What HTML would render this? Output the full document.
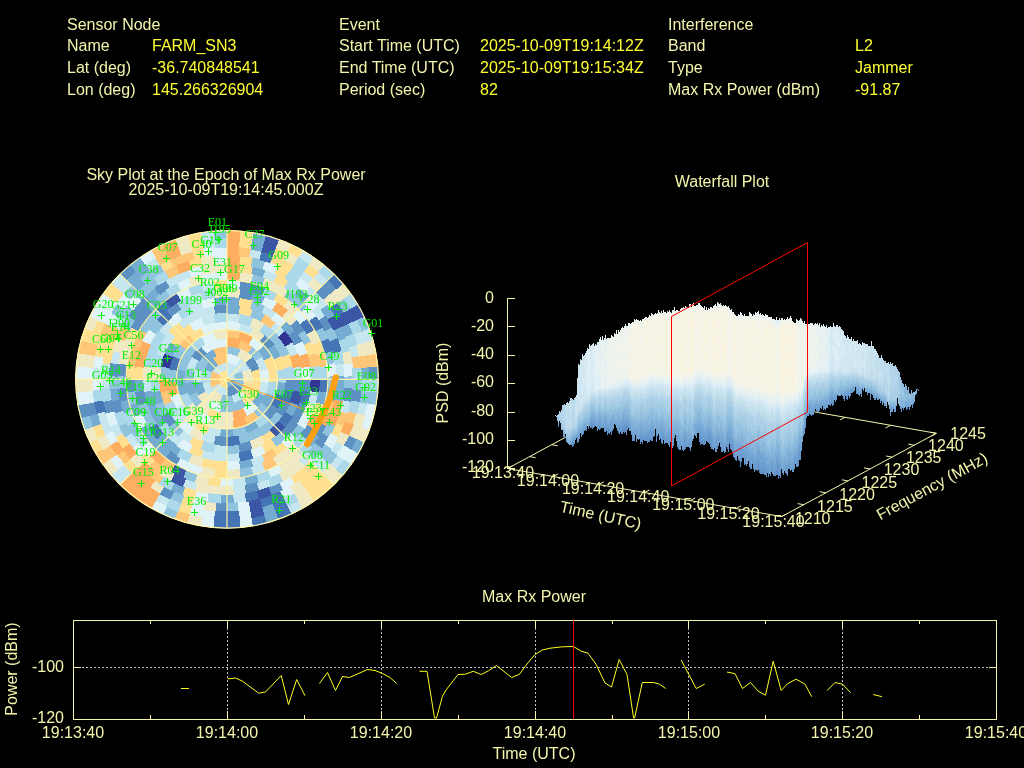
<!DOCTYPE html>
<html><head><meta charset="utf-8"><title>Interference Event Report</title>
<style>
html,body{margin:0;padding:0;background:#000;width:1024px;height:768px;overflow:hidden}
svg{display:block;position:absolute;left:0;top:0}
text{font-family:"Liberation Sans",sans-serif;font-size:16px;fill:#f4f4ac}
.v{fill:#ffff30}
.sat text{font-family:"Liberation Serif",serif;font-size:12px;fill:#00f000}
</style></head><body>
<svg id="main" width="1024" height="768" viewBox="0 0 1024 768">
<rect width="1024" height="768" fill="#000"/>
<!--HEADER-->
<g id="header">
<text x="67" y="30">Sensor Node</text>
<text x="67" y="51">Name</text><text class="v" x="152" y="51">FARM_SN3</text>
<text x="67" y="73">Lat (deg)</text><text class="v" x="152" y="73">-36.740848541</text>
<text x="67" y="95">Lon (deg)</text><text class="v" x="152" y="95">145.266326904</text>
<text x="339" y="30">Event</text>
<text x="339" y="51">Start Time (UTC)</text><text class="v" x="480" y="51">2025-10-09T19:14:12Z</text>
<text x="339" y="73">End Time (UTC)</text><text class="v" x="480" y="73">2025-10-09T19:15:34Z</text>
<text x="339" y="95">Period (sec)</text><text class="v" x="480" y="95">82</text>
<text x="668" y="30">Interference</text>
<text x="668" y="51">Band</text><text class="v" x="855" y="51">L2</text>
<text x="668" y="73">Type</text><text class="v" x="855" y="73">Jammer</text>
<text x="668" y="95">Max Rx Power (dBm)</text><text class="v" x="855" y="95">-91.87</text>
</g>
<!--SKY-->
<g id="sky">
<ellipse cx="227.0" cy="379.3" rx="151.8" ry="149.3" fill="#e8e8c0"/>
<g stroke="none" shape-rendering="crispEdges">
<path fill="#c6e6f0" d="M227.0 370.6L227.9 370.6L228.8 370.8L229.7 371.0L230.6 371.3L231.4 371.8L232.2 372.2L232.9 372.8L233.6 373.5L234.2 374.2L234.7 374.9L235.1 375.8L235.4 376.6L235.7 377.5L235.8 378.4L235.9 379.3L227.0 379.3ZM227.0 362.3L228.8 362.4L230.6 362.7L232.3 363.1L234.0 363.8L235.6 364.6L237.2 365.6L238.6 366.7L239.8 368.0L241.0 369.3L242.0 370.8L233.9 375.4L233.4 374.7L232.9 374.1L232.3 373.5L231.7 373.0L231.0 372.5L230.2 372.2L229.5 371.9L228.6 371.6L227.8 371.5L227.0 371.5ZM227.0 396.3L225.2 396.2L223.4 395.9L221.7 395.5L220.0 394.8L218.4 394.0L216.8 393.0L215.4 391.9L214.2 390.6L213.0 389.3L212.0 387.8L220.1 383.2L220.6 383.9L221.1 384.5L221.7 385.1L222.3 385.6L223.0 386.1L223.8 386.4L224.5 386.7L225.4 387.0L226.2 387.1L227.0 387.1ZM212.0 370.8L213.0 369.3L214.2 368.0L215.4 366.7L216.8 365.6L218.4 364.6L220.0 363.8L221.7 363.1L223.4 362.7L225.2 362.4L227.0 362.3L227.0 371.5L226.2 371.5L225.4 371.6L224.5 371.9L223.8 372.2L223.0 372.5L222.3 373.0L221.7 373.5L221.1 374.1L220.6 374.7L220.1 375.4ZM240.8 358.0L242.8 359.4L244.7 361.0L246.4 362.8L247.9 364.7L249.2 366.7L250.4 368.9L241.9 372.6L241.2 371.3L240.3 370.0L239.4 368.8L238.3 367.6L237.1 366.6L235.8 365.7ZM246.4 395.8L244.7 397.5L242.9 399.1L240.9 400.5L238.7 401.7L236.5 402.8L234.2 403.5L231.6 394.7L233.1 394.2L234.5 393.6L235.8 392.8L237.1 391.9L238.3 390.9L239.4 389.8ZM207.6 395.9L206.1 394.0L204.8 391.9L203.6 389.8L202.7 387.5L202.0 385.2L201.6 382.8L210.8 381.6L211.1 383.1L211.5 384.6L212.1 386.0L212.8 387.4L213.7 388.6L214.7 389.9ZM193.1 382.9L192.9 379.3L193.1 375.8L193.7 372.3L194.6 368.9L203.5 371.7L202.8 374.2L202.4 376.8L202.2 379.3L202.4 381.9ZM262.5 356.4L264.3 359.4L265.9 362.5L267.2 365.8L268.2 369.1L259.2 371.4L258.4 368.7L257.4 366.2L256.2 363.7L254.7 361.4ZM269.3 382.7L268.9 386.1L268.2 389.6L267.2 392.9L265.9 396.2L257.3 392.5L258.4 389.9L259.2 387.3L259.7 384.6L260.1 381.9ZM185.8 369.1L186.8 365.8L188.1 362.5L189.7 359.4L191.5 356.4L199.3 361.4L197.8 363.7L196.6 366.2L195.6 368.7L194.8 371.4ZM240.6 322.5L245.1 323.8L249.5 325.3L253.7 327.2L249.5 335.4L245.9 333.8L242.2 332.5L238.4 331.4ZM220.2 437.2L215.6 436.5L211.1 435.5L206.6 434.1L209.8 425.5L213.6 426.6L217.4 427.5L221.3 428.1ZM184.0 419.4L180.9 415.9L178.1 412.2L175.6 408.4L183.7 403.8L185.8 407.1L188.1 410.2L190.7 413.1ZM226.9 312.7L233.6 313.0L240.3 314.0L238.5 323.0L232.7 322.2L226.9 321.9ZM213.9 444.6L207.3 443.0L201.0 440.8L204.5 432.3L210.1 434.2L215.7 435.6ZM179.2 426.5L174.7 421.5L170.6 416.2L178.4 411.1L181.9 415.7L185.8 420.0ZM201.0 317.8L207.3 315.6L213.9 314.0L215.7 323.0L210.1 324.4L204.5 326.3ZM275.8 321.9L280.8 326.4L285.4 331.3L278.3 337.2L274.2 332.9L269.8 328.9ZM292.8 341.7L296.0 347.7L298.6 353.8L289.8 357.0L287.5 351.5L284.8 346.3ZM301.9 366.1L302.8 372.8L303.1 379.5L293.8 379.4L293.5 373.6L292.8 367.8ZM227.2 454.1L220.4 453.9L213.6 453.0L215.3 444.0L221.2 444.7L227.1 445.0ZM189.1 444.2L183.3 440.6L178.0 436.5L184.0 429.5L188.7 433.1L193.7 436.3ZM155.4 353.8L158.0 347.7L161.2 341.7L169.2 346.3L166.5 351.5L164.2 357.0ZM161.0 342.0L164.7 336.4L168.8 331.1L175.9 337.0L172.3 341.6L169.1 346.6ZM178.0 322.1L183.3 318.0L189.1 314.4L193.7 322.3L188.7 325.5L184.0 329.1ZM188.8 314.6L194.8 311.5L201.1 308.9L204.3 317.5L198.8 319.8L193.5 322.5ZM200.8 309.0L207.3 307.0L213.9 305.6L215.5 314.6L209.7 315.9L204.0 317.6ZM265.2 305.2L271.2 308.4L276.8 312.2L271.3 319.6L266.3 316.2L261.0 313.3ZM240.4 461.4L233.6 462.2L226.8 462.4L226.8 453.3L232.9 453.0L238.9 452.3ZM227.2 462.4L220.4 462.2L213.6 461.4L215.1 452.3L221.1 453.0L227.2 453.3ZM214.0 461.4L207.3 460.1L200.7 458.3L203.6 449.6L209.4 451.2L215.4 452.4ZM177.5 446.6L172.1 442.5L167.1 437.9L173.7 431.5L178.2 435.5L182.9 439.2ZM143.6 392.5L142.8 385.8L142.5 379.1L151.8 379.1L152.0 385.1L152.8 391.0ZM158.5 330.6L162.7 325.3L167.4 320.4L173.9 326.9L169.8 331.3L166.1 336.0ZM188.5 305.3L194.7 302.5L201.1 300.2L203.9 308.9L198.2 311.0L192.7 313.5ZM319.0 392.1L317.8 398.7L316.1 405.2L307.2 402.6L308.7 396.8L309.8 390.8ZM265.8 462.3L259.5 464.9L253.0 467.0L250.4 458.2L256.2 456.3L261.9 454.0ZM188.2 296.3L194.5 293.7L201.0 291.6L203.6 300.4L197.8 302.3L192.1 304.6ZM266.0 471.3L259.6 473.7L253.0 475.6L250.6 466.8L256.6 465.0L262.4 462.8ZM200.6 283.1L207.2 281.6L214.0 280.5L215.2 289.6L209.1 290.6L203.0 291.9ZM246.6 485.5L240.0 486.5L233.3 487.0L232.7 477.9L238.9 477.4L245.0 476.5ZM265.1 269.3L271.5 271.7L277.6 274.3L273.6 282.6L267.9 280.1L262.1 278.0ZM318.0 305.3L322.2 310.5L326.0 316.0L318.2 321.0L314.7 315.9L310.9 311.1ZM344.0 363.1L344.7 369.7L345.1 376.3L335.8 376.6L335.4 370.5L334.8 364.4ZM314.1 457.8L309.4 462.6L304.4 467.1L298.3 460.2L302.9 456.0L307.2 451.6ZM271.7 486.8L265.4 489.2L258.9 491.2L256.4 482.3L262.3 480.5L268.2 478.4ZM246.7 493.9L240.0 494.8L233.3 495.3L232.8 486.2L239.0 485.7L245.1 484.8ZM195.1 491.2L188.6 489.2L182.3 486.8L185.8 478.4L191.7 480.5L197.6 482.3ZM132.0 448.3L128.1 442.8L124.6 437.2L132.6 432.6L135.9 437.8L139.5 442.9ZM110.0 363.6L111.1 357.0L112.5 350.5L121.6 352.8L120.2 358.8L119.2 364.8ZM164.9 280.5L170.8 277.1L176.8 274.1L180.8 282.4L175.2 285.2L169.8 288.2ZM176.4 274.3L182.5 271.7L188.9 269.3L191.9 278.0L186.1 280.1L180.4 282.6ZM310.3 285.7L320.0 295.0L313.2 301.2L304.2 292.5ZM319.7 294.6L328.4 304.8L320.9 310.3L312.9 300.8ZM351.5 401.4L348.4 414.3L339.5 411.8L342.4 399.7ZM324.3 458.8L315.1 468.6L308.6 462.0L317.2 453.0ZM246.7 502.2L233.2 503.6L232.8 494.4L245.3 493.2ZM115.4 438.0L109.7 425.9L118.3 422.5L123.6 433.7ZM100.9 389.2L100.5 375.8L109.8 376.1L110.1 388.4ZM100.5 376.4L101.5 363.1L110.8 364.3L109.8 376.6ZM112.3 326.8L118.7 315.0L126.6 319.7L120.7 330.6ZM250.2 248.6L262.2 251.2L259.8 260.0L248.6 257.6ZM304.2 270.4L314.0 277.8L308.0 284.8L298.8 277.9ZM357.3 344.7L359.9 356.5L350.8 358.1L348.3 347.1ZM344.0 445.4L337.4 455.6L329.8 450.4L335.9 440.9ZM330.6 464.4L322.2 473.3L315.6 466.8L323.4 458.5ZM104.8 435.6L100.1 424.4L108.9 421.3L113.3 431.8ZM100.3 425.0L96.6 413.4L105.6 411.0L109.0 421.8ZM92.1 379.6L92.6 367.5L101.9 368.3L101.4 379.6ZM318.9 271.1L328.6 279.8L322.0 286.3L312.9 278.1ZM361.6 330.8L365.5 343.1L356.5 345.4L352.9 334.0ZM368.2 403.5L365.4 416.1L356.4 413.7L359.0 401.9ZM344.6 459.9L336.6 470.1L329.5 464.2L337.0 454.7ZM166.7 507.2L155.1 501.2L159.7 493.3L170.6 498.9ZM125.8 479.2L117.0 469.7L124.1 463.8L132.4 472.7ZM117.0 288.9L125.8 279.4L132.4 285.9L124.1 294.8ZM144.5 264.0L155.6 257.1L160.2 265.0L149.9 271.5ZM201.8 240.5L214.8 238.8L215.6 248.0L203.4 249.5ZM302.6 249.9L314.3 257.2L308.9 264.7L298.0 257.8ZM369.5 328.0L373.7 341.0L364.7 343.3L360.7 331.1ZM303.2 508.4L290.8 514.7L286.9 506.4L298.5 500.5ZM119.9 485.1L110.5 475.0L117.7 469.1L126.5 478.6ZM110.5 283.6L119.9 273.5L126.5 280.0L117.7 289.5ZM200.3 232.4L214.1 230.6L214.9 239.7L202.0 241.4Z"/>
<path fill="#74add1" d="M235.9 379.3L235.8 380.2L235.7 381.1L235.4 382.0L235.1 382.8L234.7 383.7L234.2 384.4L233.6 385.1L232.9 385.8L232.2 386.4L231.4 386.8L230.6 387.3L229.7 387.6L228.8 387.8L227.9 388.0L227.0 388.0L227.0 379.3ZM203.6 368.9L204.8 366.7L206.1 364.7L207.6 362.8L209.3 361.0L211.2 359.4L213.2 358.0L218.2 365.7L216.9 366.6L215.7 367.6L214.6 368.8L213.7 370.0L212.8 371.3L212.1 372.6ZM197.5 396.1L195.9 393.0L194.6 389.7L193.7 386.2L193.1 382.7L202.4 381.8L202.8 384.3L203.4 386.8L204.4 389.2L205.6 391.5ZM201.6 356.9L204.2 354.4L207.0 352.2L210.0 350.3L213.2 348.7L217.0 357.0L214.6 358.2L212.4 359.6L210.4 361.2L208.6 363.0ZM265.9 396.0L264.4 399.1L262.6 402.2L260.5 405.0L258.2 407.7L251.4 401.4L253.2 399.4L254.8 397.1L256.2 394.8L257.4 392.3ZM188.1 396.2L186.8 392.9L185.8 389.6L185.1 386.1L184.7 382.7L193.9 381.9L194.3 384.6L194.8 387.3L195.6 389.9L196.7 392.5ZM264.1 345.1L267.2 348.6L269.9 352.4L272.2 356.4L264.0 360.6L262.0 357.3L259.8 354.2L257.3 351.3ZM275.0 396.0L273.2 400.2L271.1 404.4L268.5 408.2L260.9 402.9L263.0 399.8L264.8 396.4L266.2 392.9ZM179.1 396.2L177.7 391.7L176.8 387.2L176.2 382.6L185.5 382.0L185.9 385.8L186.7 389.5L187.9 393.1ZM176.2 382.8L176.1 378.2L176.4 373.6L177.2 369.0L186.3 370.9L185.7 374.6L185.4 378.4L185.5 382.2ZM274.5 344.4L277.1 348.2L279.5 352.2L281.5 356.3L272.9 359.9L271.2 356.4L269.3 353.1L267.0 349.9ZM286.2 382.6L285.8 387.2L284.9 391.7L283.8 396.1L274.8 393.5L275.8 389.7L276.5 385.9L276.9 382.1ZM259.7 428.0L255.7 430.3L251.5 432.4L247.2 434.1L244.0 425.5L247.7 424.1L251.2 422.3L254.6 420.3ZM234.0 437.2L229.3 437.6L224.7 437.6L220.0 437.2L221.1 428.1L225.0 428.4L229.0 428.4L232.9 428.1ZM164.4 353.9L167.3 347.9L170.8 342.2L178.5 347.3L175.5 352.2L173.0 357.4ZM226.8 304.5L233.6 304.7L240.4 305.6L238.7 314.6L232.8 313.9L226.9 313.6ZM298.6 404.8L296.0 410.9L292.8 416.9L284.8 412.3L287.5 407.1L289.8 401.6ZM155.5 405.0L153.5 398.7L152.0 392.1L161.2 390.6L162.5 396.3L164.3 401.9ZM226.8 296.2L233.6 296.4L240.4 297.2L238.9 306.3L232.9 305.6L226.8 305.3ZM286.6 320.4L291.3 325.3L295.5 330.6L287.9 336.0L284.2 331.3L280.1 326.9ZM158.7 428.3L154.9 422.7L151.6 416.9L159.9 412.7L162.9 417.9L166.3 422.9ZM151.8 417.2L148.9 411.1L146.6 404.8L155.4 402.0L157.5 407.6L160.1 413.0ZM146.7 405.1L144.8 398.7L143.5 392.1L152.7 390.7L153.9 396.6L155.5 402.3ZM213.6 297.2L220.4 296.4L227.2 296.2L227.2 305.3L221.1 305.6L215.1 306.3ZM253.0 291.6L259.5 293.7L265.8 296.3L261.9 304.6L256.2 302.3L250.4 300.4ZM253.4 466.9L246.8 468.6L240.0 469.8L238.7 460.7L244.8 459.6L250.7 458.1ZM176.9 456.3L171.3 452.5L166.0 448.2L172.1 441.3L176.9 445.1L181.9 448.6ZM166.3 448.5L161.3 443.9L156.7 439.0L163.7 433.0L167.9 437.4L172.4 441.6ZM135.1 392.5L134.3 385.8L134.1 379.1L143.4 379.1L143.6 385.2L144.3 391.2ZM327.5 392.1L326.4 398.7L324.8 405.3L315.8 402.9L317.2 397.0L318.2 390.9ZM165.5 458.5L160.2 454.2L155.2 449.6L161.8 443.1L166.3 447.3L171.1 451.2ZM155.5 449.9L150.8 445.0L146.5 439.8L153.9 434.2L157.8 439.0L162.1 443.4ZM146.7 440.1L142.8 434.7L139.1 428.9L147.2 424.4L150.5 429.6L154.1 434.5ZM133.5 417.6L131.1 411.3L129.1 404.9L138.1 402.5L139.9 408.4L142.1 414.1ZM336.3 388.7L335.5 395.2L334.3 401.7L325.2 399.8L326.3 393.9L327.0 387.9ZM319.9 436.7L316.2 442.2L312.1 447.5L304.8 441.7L308.6 436.9L312.0 431.8ZM259.3 482.4L252.8 484.2L246.2 485.6L244.6 476.5L250.6 475.3L256.5 473.7ZM123.1 414.1L121.2 407.7L119.6 401.3L128.7 399.4L130.1 405.3L131.9 411.1ZM145.9 306.6L150.6 301.9L155.5 297.4L161.6 304.4L157.1 308.4L152.8 312.8ZM252.6 265.9L259.1 267.5L265.6 269.5L262.5 278.2L256.6 276.3L250.6 274.8ZM299.4 287.5L304.6 291.7L309.6 296.2L303.0 302.7L298.5 298.6L293.7 294.7ZM345.1 375.9L345.1 382.5L344.7 389.1L335.4 388.4L335.8 382.2L335.8 376.1ZM344.7 388.7L344.0 395.3L342.9 401.8L333.8 400.0L334.8 394.0L335.5 387.9ZM111.1 401.8L110.0 395.3L109.3 388.7L118.5 387.9L119.2 394.0L120.2 400.0ZM144.4 296.2L149.4 291.7L154.6 287.5L160.3 294.7L155.5 298.6L151.0 302.7ZM328.1 304.4L335.6 315.5L327.6 320.2L320.6 309.9ZM341.5 326.3L346.6 338.7L337.8 341.7L333.1 330.2ZM233.8 503.6L220.2 503.6L220.7 494.4L233.3 494.4ZM182.6 495.8L170.2 490.5L174.4 482.3L185.9 487.3ZM349.2 323.0L353.9 334.2L345.1 337.3L340.7 326.8ZM131.4 285.7L140.5 277.5L146.4 284.5L138.0 292.1ZM251.6 240.4L264.4 243.2L262.0 252.0L250.0 249.4ZM369.8 366.7L370.3 379.6L361.0 379.6L360.5 367.5ZM276.3 511.7L263.8 515.6L261.4 506.7L273.1 503.1ZM92.4 427.8L88.5 415.5L97.5 413.2L101.1 424.6ZM125.4 279.8L135.1 271.1L141.1 278.1L132.0 286.3ZM134.6 271.5L145.0 263.6L150.4 271.2L140.6 278.5ZM253.0 232.3L266.6 235.2L264.2 244.1L251.4 241.3ZM364.7 442.1L358.3 454.2L350.2 449.6L356.2 438.2ZM279.2 519.4L266.0 523.5L263.6 514.7L276.0 510.8ZM129.2 265.2L140.2 256.9L145.5 264.4L135.2 272.2Z"/>
<path fill="#fee090" d="M227.0 388.0L226.1 388.0L225.2 387.8L224.3 387.6L223.4 387.3L222.6 386.8L221.8 386.4L221.1 385.8L220.4 385.1L219.8 384.4L219.3 383.7L218.9 382.8L218.6 382.0L218.3 381.1L218.2 380.2L218.1 379.3L227.0 379.3ZM218.1 379.3L218.2 378.4L218.3 377.5L218.6 376.6L218.9 375.8L219.3 374.9L219.8 374.2L220.4 373.5L221.1 372.8L221.8 372.2L222.6 371.8L223.4 371.3L224.3 371.0L225.2 370.8L226.1 370.6L227.0 370.6L227.0 379.3ZM252.4 382.8L252.0 385.2L251.3 387.5L250.4 389.8L249.2 391.9L247.9 394.0L246.4 395.9L239.3 389.9L240.3 388.6L241.2 387.4L241.9 386.0L242.5 384.6L242.9 383.1L243.2 381.6ZM259.4 368.9L260.3 372.3L260.9 375.8L261.1 379.3L260.9 382.9L251.6 381.9L251.8 379.3L251.6 376.8L251.2 374.2L250.5 371.7ZM260.9 382.7L260.3 386.2L259.4 389.7L258.1 393.0L256.5 396.1L248.4 391.5L249.6 389.2L250.6 386.8L251.2 384.3L251.6 381.8ZM256.5 396.0L254.6 399.0L252.3 401.7L249.8 404.2L247.0 406.5L241.5 399.0L243.6 397.4L245.4 395.6L247.0 393.6L248.5 391.4ZM220.1 420.5L216.6 419.8L213.2 418.8L209.9 417.5L206.7 416.0L211.2 408.0L213.6 409.2L216.2 410.2L218.9 410.9L221.6 411.5ZM272.1 356.2L274.1 360.4L275.7 364.7L276.8 369.2L267.7 371.1L266.8 367.4L265.5 363.8L263.9 360.4ZM276.8 369.0L277.6 373.6L277.9 378.2L277.8 382.8L268.5 382.2L268.6 378.4L268.3 374.6L267.7 370.9ZM281.4 356.1L283.1 360.4L284.4 364.8L285.4 369.3L276.2 370.9L275.4 367.1L274.3 363.4L272.9 359.7ZM206.8 434.1L202.5 432.4L198.3 430.3L194.3 428.0L199.4 420.3L202.8 422.3L206.3 424.1L210.0 425.5ZM188.8 334.7L192.5 331.9L196.4 329.4L200.5 327.1L204.7 335.3L201.2 337.2L197.9 339.3L194.8 341.7ZM289.5 353.7L291.8 360.0L293.4 366.4L284.3 368.2L282.9 362.6L280.9 357.2ZM170.6 342.4L174.7 337.1L179.2 332.1L185.8 338.6L181.9 342.9L178.4 347.5ZM179.0 332.3L184.1 327.8L189.5 323.9L194.7 331.5L190.0 334.9L185.6 338.8ZM240.1 305.6L246.7 307.0L253.2 309.0L250.0 317.6L244.3 315.9L238.5 314.6ZM276.0 436.5L270.7 440.6L264.9 444.2L260.3 436.3L265.3 433.1L270.0 429.5ZM201.1 449.7L194.8 447.1L188.8 444.0L193.5 436.1L198.8 438.8L204.3 441.1ZM168.6 331.3L173.2 326.4L178.2 321.9L184.2 328.9L179.8 332.9L175.7 337.2ZM240.0 297.2L246.7 298.5L253.3 300.3L250.4 309.0L244.6 307.4L238.6 306.2ZM276.8 446.4L271.2 450.2L265.2 453.4L261.0 445.3L266.3 442.4L271.3 439.0ZM201.1 458.4L194.7 456.1L188.5 453.3L192.7 445.1L198.2 447.6L203.9 449.7ZM311.4 341.2L314.1 347.4L316.2 353.7L307.3 356.3L305.3 350.6L303.0 345.0ZM288.0 448.2L282.7 452.5L277.1 456.3L272.1 448.6L277.1 445.1L281.9 441.3ZM227.2 470.7L220.4 470.4L213.6 469.7L214.9 460.7L221.0 461.3L227.2 461.5ZM214.0 469.8L207.2 468.6L200.6 466.9L203.3 458.1L209.2 459.6L215.3 460.7ZM134.1 379.5L134.3 372.8L135.1 366.1L144.3 367.4L143.6 373.4L143.4 379.5ZM277.5 292.9L283.3 296.4L288.8 300.4L283.2 307.6L278.1 304.1L272.8 300.8ZM320.5 341.0L322.9 347.3L324.9 353.7L315.9 356.1L314.1 350.2L311.9 344.5ZM324.9 404.9L322.9 411.3L320.5 417.6L311.9 414.1L314.1 408.4L315.9 402.5ZM227.2 478.9L220.4 478.7L213.6 478.1L214.8 469.0L221.0 469.6L227.2 469.8ZM125.7 379.5L125.9 372.8L126.6 366.1L135.8 367.3L135.2 373.4L135.0 379.5ZM213.6 280.5L220.4 279.9L227.2 279.7L227.2 288.8L221.0 289.0L214.8 289.6ZM220.7 487.0L214.0 486.5L207.4 485.5L209.0 476.5L215.1 477.4L221.3 477.9ZM125.2 339.0L127.9 332.9L131.0 327.0L139.2 331.4L136.3 336.8L133.9 342.4ZM239.7 263.8L246.4 264.7L253.1 266.0L251.0 274.9L244.9 273.7L238.7 272.9ZM277.2 274.1L283.2 277.1L289.1 280.5L284.2 288.2L278.8 285.2L273.2 282.4ZM149.6 467.1L144.6 462.6L139.9 457.8L146.8 451.6L151.1 456.0L155.7 460.2ZM239.7 255.5L253.1 257.5L251.2 266.5L238.8 264.6ZM277.4 265.2L289.6 271.1L285.0 279.1L273.7 273.6ZM344.3 425.9L338.6 438.0L330.4 433.7L335.7 422.5ZM315.5 468.2L305.3 477.0L299.6 469.8L309.0 461.7ZM305.7 476.7L294.7 484.4L289.7 476.7L299.9 469.5ZM195.0 499.7L182.1 495.7L185.4 487.1L197.4 490.8ZM122.2 449.0L115.2 437.6L123.4 433.3L129.9 443.9ZM101.5 363.6L103.9 350.5L113.0 352.6L110.7 364.7ZM103.8 351.0L107.6 338.2L116.4 341.2L112.9 353.1ZM188.3 260.8L201.4 257.4L203.3 266.4L191.1 269.5ZM272.9 254.5L284.3 259.1L280.3 267.4L269.7 263.1ZM283.8 258.9L294.7 264.5L290.0 272.4L279.9 267.2ZM322.6 472.9L313.5 481.1L307.6 474.1L316.0 466.5ZM314.0 480.8L304.2 488.2L298.8 480.7L308.0 473.8ZM192.3 507.6L180.6 503.9L183.8 495.3L194.7 498.7ZM131.8 473.3L123.4 464.4L130.6 458.5L138.4 466.8ZM94.1 356.5L96.7 344.7L105.7 347.1L103.2 358.1ZM96.6 345.2L100.3 333.6L109.0 336.8L105.6 347.6ZM159.3 264.5L170.2 258.9L174.1 267.2L164.0 272.4ZM191.8 251.2L203.8 248.6L205.4 257.6L194.2 260.0ZM239.2 238.8L252.2 240.5L250.6 249.5L238.4 248.0ZM275.7 246.7L287.9 251.7L283.9 259.9L272.6 255.3ZM309.0 263.6L319.4 271.5L313.4 278.5L303.6 271.2ZM328.6 478.8L318.9 487.5L312.9 480.5L322.0 472.3ZM319.4 487.1L309.0 495.0L303.6 487.4L313.4 480.1ZM190.2 515.6L177.7 511.7L180.9 503.1L192.6 506.7ZM97.2 439.1L92.2 427.2L101.0 424.1L105.6 435.3ZM88.5 343.1L92.4 330.8L101.1 334.0L97.5 345.4ZM92.2 331.4L97.2 319.5L105.6 323.3L101.0 334.5ZM109.4 298.7L117.4 288.5L124.5 294.4L117.0 303.9ZM189.6 243.2L202.4 240.4L204.0 249.4L192.0 252.0ZM239.9 230.6L253.7 232.4L252.0 241.4L239.1 239.7ZM290.8 243.9L303.2 250.2L298.5 258.1L286.9 252.2ZM334.5 484.6L324.3 493.8L318.3 486.8L327.9 478.1ZM324.8 493.4L313.8 501.7L308.5 494.2L318.8 486.4ZM95.7 454.2L89.3 442.1L97.8 438.2L103.8 449.6ZM80.3 341.0L84.5 328.0L93.3 331.1L89.3 343.3ZM102.5 294.0L111.0 283.1L118.1 289.0L110.1 299.2ZM187.4 235.2L201.0 232.3L202.6 241.3L189.8 244.1Z"/>
<path fill="#90c3dd" d="M241.9 370.8L242.8 372.4L243.4 374.0L243.9 375.8L244.2 377.5L244.3 379.3L244.2 381.1L243.9 382.8L243.4 384.6L242.8 386.2L241.9 387.8L233.9 383.2L234.3 382.5L234.6 381.7L234.8 380.9L234.9 380.1L235.0 379.3L234.9 378.5L234.8 377.7L234.6 376.9L234.3 376.1L233.9 375.4ZM234.3 403.5L231.9 404.1L229.5 404.4L227.0 404.5L224.5 404.4L222.1 404.1L219.7 403.5L222.4 394.7L223.9 395.1L225.4 395.3L227.0 395.4L228.6 395.3L230.1 395.1L231.6 394.7ZM226.9 345.8L230.5 346.0L234.1 346.5L237.6 347.4L240.9 348.7L237.1 357.1L234.7 356.1L232.1 355.5L229.6 355.1L226.9 354.9ZM247.1 406.4L244.1 408.3L240.9 409.9L237.5 411.2L234.0 412.1L232.1 403.1L234.6 402.5L237.1 401.5L239.4 400.4L241.6 399.0ZM234.2 412.1L230.6 412.6L227.0 412.8L223.4 412.6L219.8 412.1L221.8 403.1L224.4 403.5L227.0 403.7L229.6 403.5L232.2 403.1ZM194.6 369.0L195.9 365.7L197.5 362.5L199.5 359.6L201.7 356.8L208.6 363.0L207.0 365.0L205.6 367.1L204.4 369.4L203.4 371.8ZM253.0 346.3L255.7 348.5L258.3 351.0L260.6 353.7L262.6 356.5L254.8 361.5L253.2 359.3L251.4 357.2L249.4 355.3L247.3 353.5ZM195.8 407.7L193.5 405.0L191.4 402.2L189.6 399.1L188.1 396.0L196.6 392.3L197.8 394.8L199.2 397.1L200.8 399.4L202.6 401.4ZM184.7 382.8L184.5 379.3L184.7 375.8L185.1 372.4L185.8 369.0L194.9 371.2L194.3 373.9L193.9 376.6L193.8 379.3L194.0 382.1ZM268.6 408.1L265.8 411.7L262.5 415.1L259.0 418.2L253.2 411.1L256.0 408.6L258.7 405.8L261.0 402.8ZM177.2 369.2L178.3 364.7L179.9 360.4L181.9 356.2L190.1 360.4L188.5 363.8L187.2 367.4L186.3 371.1ZM181.8 356.4L184.1 352.4L186.8 348.6L189.9 345.1L196.7 351.3L194.2 354.2L192.0 357.3L190.0 360.6ZM247.4 434.1L242.9 435.5L238.4 436.5L233.8 437.2L232.7 428.1L236.6 427.5L240.4 426.6L244.2 425.5ZM167.8 382.8L167.7 378.2L168.0 373.6L168.6 369.1L177.8 370.7L177.3 374.5L177.0 378.4L177.1 382.3ZM172.5 356.3L174.5 352.2L176.9 348.2L179.5 344.4L187.0 349.9L184.7 353.1L182.8 356.4L181.1 359.9ZM274.8 332.1L279.3 337.1L283.4 342.4L275.6 347.5L272.1 342.9L268.2 338.6ZM283.2 342.2L286.7 347.9L289.6 353.9L281.0 357.4L278.5 352.2L275.5 347.3ZM283.4 416.2L279.3 421.5L274.8 426.5L268.2 420.0L272.1 415.7L275.6 411.1ZM275.0 426.3L269.9 430.8L264.5 434.7L259.3 427.1L264.0 423.7L268.4 419.8ZM264.7 434.6L258.9 438.0L252.8 440.9L249.2 432.4L254.5 429.9L259.5 427.0ZM253.0 440.8L246.7 443.0L240.1 444.6L238.3 435.6L243.9 434.2L249.5 432.3ZM159.3 379.4L159.6 372.8L160.6 366.2L169.8 368.0L168.9 373.7L168.6 379.4ZM252.9 308.9L259.2 311.5L265.2 314.6L260.5 322.5L255.2 319.8L249.7 317.5ZM240.4 453.0L233.6 453.9L226.8 454.1L226.9 445.0L232.8 444.7L238.7 444.0ZM178.2 436.7L173.2 432.2L168.6 427.3L175.7 421.4L179.8 425.7L184.2 429.7ZM161.2 416.9L158.0 410.9L155.4 404.8L164.2 401.6L166.5 407.1L169.2 412.3ZM252.9 300.2L259.3 302.5L265.5 305.3L261.3 313.5L255.8 311.0L250.1 308.9ZM286.9 437.9L281.9 442.5L276.5 446.6L271.1 439.2L275.8 435.5L280.3 431.5ZM305.1 329.7L308.5 335.5L311.6 341.5L303.1 345.3L300.4 339.9L297.2 334.7ZM305.3 428.5L301.4 434.1L297.1 439.3L290.1 433.3L293.9 428.6L297.4 423.6ZM148.9 428.9L145.5 423.1L142.4 417.1L150.9 413.3L153.6 418.7L156.8 423.9ZM142.6 417.4L139.9 411.2L137.8 404.9L146.7 402.3L148.7 408.0L151.0 413.6ZM148.7 330.1L152.6 324.5L156.9 319.3L163.9 325.3L160.1 330.0L156.6 335.0ZM253.4 475.5L246.8 477.0L240.0 478.1L238.8 469.0L244.9 468.0L251.0 466.7ZM129.2 405.3L127.6 398.7L126.5 392.1L135.8 390.9L136.8 397.0L138.2 402.9ZM139.1 329.7L142.8 323.9L146.7 318.5L154.1 324.1L150.5 329.0L147.2 334.2ZM146.5 318.8L150.8 313.6L155.5 308.7L162.1 315.2L157.8 319.6L153.9 324.4ZM252.5 274.4L259.0 276.1L265.4 278.2L262.2 286.8L256.3 284.9L250.4 283.3ZM288.1 289.7L293.6 293.5L298.8 297.7L292.7 304.6L287.9 300.8L282.9 297.3ZM298.5 297.4L303.4 301.9L308.1 306.6L301.2 312.8L296.9 308.4L292.4 304.4ZM323.0 327.0L326.1 332.9L328.8 339.0L320.1 342.4L317.7 336.8L314.8 331.4ZM332.8 350.6L334.4 357.1L335.6 363.6L326.3 364.9L325.3 359.0L323.8 353.1ZM336.7 375.9L336.7 382.5L336.3 389.1L327.0 388.3L327.4 382.2L327.4 376.2ZM195.2 482.6L188.8 480.5L182.6 478.0L186.3 469.6L192.0 471.9L197.9 473.8ZM134.3 437.1L130.9 431.4L127.8 425.5L136.3 421.6L139.1 427.0L142.2 432.2ZM117.7 389.1L117.3 382.5L117.3 375.9L126.6 376.2L126.6 382.2L127.0 388.3ZM155.2 297.7L160.4 293.5L165.9 289.7L171.1 297.3L166.1 300.8L161.3 304.6ZM332.3 326.6L335.2 332.6L337.7 338.8L329.0 342.0L326.7 336.3L324.0 330.8ZM335.3 425.7L332.4 431.8L329.2 437.6L321.1 433.0L324.1 427.6L326.7 422.1ZM322.3 447.9L318.2 453.2L313.7 458.2L306.9 451.9L311.0 447.3L314.8 442.5ZM124.8 437.6L121.6 431.8L118.7 425.7L127.3 422.1L129.9 427.6L132.9 433.0ZM109.3 389.1L108.9 382.5L108.9 375.9L118.2 376.1L118.2 382.2L118.6 388.4ZM121.5 327.1L124.7 321.2L128.2 315.6L136.0 320.6L132.8 325.8L129.8 331.2ZM252.6 257.4L265.7 260.8L262.9 269.5L250.7 266.4ZM353.5 375.8L353.1 389.2L343.9 388.4L344.2 376.1ZM332.1 448.6L324.0 459.2L316.9 453.3L324.4 443.5ZM118.4 315.5L125.9 304.4L133.4 309.9L126.4 320.2ZM134.0 295.0L143.7 285.7L149.8 292.5L140.8 301.2ZM143.3 286.0L153.9 277.7L159.3 285.2L149.4 292.9ZM361.9 379.0L361.4 391.1L352.1 390.3L352.6 379.0ZM337.7 455.2L330.2 464.8L323.1 458.9L330.1 450.0ZM239.0 511.5L226.7 512.0L226.7 502.9L238.2 502.4ZM181.1 504.1L169.7 499.5L173.7 491.2L184.3 495.5ZM110.0 313.2L116.6 303.0L124.2 308.2L118.1 317.7ZM123.4 294.2L131.8 285.3L138.4 291.8L130.6 300.1ZM140.0 277.8L149.8 270.4L155.2 277.9L146.0 284.8ZM149.4 270.7L159.8 264.2L164.4 272.2L154.7 278.2ZM344.3 298.2L351.3 309.1L343.2 313.6L336.6 303.5ZM369.8 391.3L368.1 404.1L358.9 402.5L360.5 390.5ZM364.4 315.9L369.7 328.5L361.0 331.7L356.0 319.8ZM378.2 392.0L376.4 405.5L367.2 403.9L368.9 391.2ZM175.4 519.7L162.6 514.4L166.5 506.1L178.6 511.0ZM84.5 430.6L80.3 417.6L89.3 415.3L93.3 427.5ZM213.5 230.6L227.3 230.1L227.3 239.2L214.3 239.8Z"/>
<path fill="#5c91c2" d="M242.0 387.8L241.0 389.3L239.8 390.6L238.6 391.9L237.2 393.0L235.6 394.0L234.0 394.8L232.3 395.5L230.6 395.9L228.8 396.2L227.0 396.3L227.0 387.1L227.8 387.1L228.6 387.0L229.5 386.7L230.2 386.4L231.0 386.1L231.7 385.6L232.3 385.1L232.9 384.5L233.4 383.9L233.9 383.2ZM252.3 356.8L254.5 359.6L256.5 362.5L258.1 365.7L259.4 369.0L250.6 371.8L249.6 369.4L248.4 367.1L247.0 365.0L245.4 363.0ZM191.4 356.5L193.4 353.7L195.7 351.0L198.3 348.5L201.0 346.3L206.7 353.5L204.6 355.3L202.6 357.2L200.8 359.3L199.2 361.5ZM265.0 334.6L268.5 337.6L271.7 341.0L274.6 344.6L267.2 350.0L264.7 347.0L262.0 344.2L259.0 341.6ZM278.4 408.4L275.9 412.2L273.1 415.9L270.0 419.4L263.3 413.1L265.9 410.2L268.2 407.1L270.3 403.8ZM294.7 379.2L294.4 385.8L293.4 392.4L284.2 390.6L285.1 384.9L285.4 379.2ZM289.6 404.7L286.7 410.7L283.2 416.4L275.5 411.3L278.5 406.4L281.0 401.2ZM227.1 445.9L220.4 445.6L213.7 444.6L215.5 435.6L221.3 436.4L227.1 436.7ZM303.1 379.1L302.8 385.8L301.9 392.5L292.8 390.8L293.5 385.0L293.8 379.2ZM253.2 449.6L246.7 451.6L240.1 453.0L238.5 444.0L244.3 442.7L250.0 441.0ZM168.8 427.5L164.7 422.2L161.0 416.6L169.1 412.0L172.3 417.0L175.9 421.6ZM213.6 305.6L220.4 304.7L227.2 304.5L227.1 313.6L221.2 313.9L215.3 314.6ZM295.3 330.3L299.1 335.9L302.4 341.7L294.1 345.9L291.1 340.7L287.7 335.7ZM311.5 379.1L311.2 385.8L310.4 392.5L301.2 391.0L302.0 385.1L302.2 379.1ZM307.4 404.8L305.1 411.1L302.2 417.2L293.9 413.0L296.5 407.6L298.6 402.0ZM302.4 416.9L299.1 422.7L295.3 428.3L287.7 422.9L291.1 417.9L294.1 412.7ZM295.5 428.0L291.3 433.3L286.6 438.2L280.1 431.7L284.2 427.3L287.9 422.6ZM240.0 288.8L246.8 290.0L253.4 291.7L250.7 300.5L244.8 299.0L238.7 297.9ZM297.1 319.3L301.4 324.5L305.3 330.1L297.4 335.0L293.9 330.0L290.1 325.3ZM137.9 405.2L136.2 398.7L135.0 392.1L144.2 390.8L145.3 396.8L146.8 402.6ZM166.0 310.4L171.3 306.1L176.9 302.3L181.9 310.0L176.9 313.5L172.1 317.3ZM240.0 280.5L246.8 281.6L253.4 283.1L251.0 291.9L244.9 290.6L238.8 289.6ZM253.0 283.0L259.6 284.9L266.0 287.3L262.4 295.8L256.6 293.6L250.6 291.8ZM314.9 428.9L311.2 434.7L307.3 440.1L299.9 434.5L303.5 429.6L306.8 424.4ZM176.5 465.7L170.7 462.2L165.2 458.2L170.8 451.0L175.9 454.5L181.2 457.8ZM126.6 392.5L125.9 385.8L125.7 379.1L135.0 379.1L135.2 385.2L135.8 391.3ZM326.2 425.5L323.1 431.4L319.7 437.1L311.8 432.2L314.9 427.0L317.7 421.6ZM119.7 401.7L118.5 395.2L117.7 388.7L127.0 387.9L127.7 393.9L128.8 399.8ZM117.3 376.3L117.7 369.7L118.5 363.1L127.7 364.5L127.0 370.5L126.6 376.6ZM130.8 327.4L134.2 321.7L138.0 316.2L145.5 321.6L142.1 326.6L139.0 331.8ZM137.7 316.6L141.8 311.3L146.2 306.3L153.1 312.5L149.0 317.1L145.3 321.9ZM325.8 315.6L329.3 321.2L332.5 327.1L324.2 331.2L321.2 325.8L318.0 320.6ZM329.4 437.2L325.9 442.8L322.0 448.3L314.5 442.9L318.1 437.8L321.4 432.6ZM259.4 491.0L252.8 492.7L246.2 493.9L244.7 484.9L250.8 483.7L256.8 482.2ZM114.3 414.2L112.5 407.8L111.0 401.3L120.2 399.6L121.5 405.6L123.2 411.5ZM108.9 376.3L109.3 369.7L110.0 363.1L119.2 364.4L118.6 370.5L118.2 376.6ZM128.0 316.0L131.8 310.5L136.0 305.3L143.1 311.1L139.3 315.9L135.8 321.0ZM135.7 305.6L140.1 300.6L144.8 295.9L151.3 302.4L146.9 306.8L142.9 311.4ZM154.2 287.8L159.7 283.8L165.3 280.2L170.2 288.0L165.0 291.4L160.0 295.0ZM353.2 388.6L351.4 401.9L342.3 400.2L343.9 388.0ZM283.8 490.5L271.4 495.8L268.1 487.3L279.6 482.3ZM105.6 414.3L102.5 401.4L111.6 399.7L114.5 411.8ZM322.2 285.3L330.6 294.2L323.4 300.1L315.6 291.8ZM361.5 390.6L359.8 402.6L350.7 401.0L352.2 389.8ZM227.3 512.0L215.0 511.5L215.8 502.4L227.3 502.9ZM170.2 499.7L159.3 494.1L164.0 486.2L174.1 491.4ZM328.2 279.4L337.0 288.9L329.9 294.8L321.6 285.9ZM357.0 438.6L351.0 450.0L342.9 445.4L348.6 434.8ZM88.6 416.1L85.8 403.5L95.0 401.9L97.6 413.7ZM378.1 366.0L378.8 379.6L369.4 379.6L368.9 366.8ZM80.5 418.2L77.5 404.9L86.7 403.3L89.5 415.8ZM119.5 274.0L129.7 264.8L135.7 271.8L126.1 280.5Z"/>
<path fill="#fec778" d="M212.1 387.8L211.2 386.2L210.6 384.6L210.1 382.8L209.8 381.1L209.7 379.3L209.8 377.5L210.1 375.8L210.6 374.0L211.2 372.4L212.1 370.8L220.1 375.4L219.7 376.1L219.4 376.9L219.2 377.7L219.1 378.5L219.0 379.3L219.1 380.1L219.2 380.9L219.4 381.7L219.7 382.5L220.1 383.2ZM213.1 358.1L215.2 356.9L217.4 355.9L219.8 355.1L222.2 354.5L224.6 354.2L227.1 354.1L227.0 363.2L225.5 363.3L223.9 363.5L222.4 363.9L220.9 364.4L219.5 365.0L218.1 365.8ZM213.1 348.7L216.4 347.4L219.9 346.5L223.5 346.0L227.1 345.8L227.1 354.9L224.4 355.1L221.9 355.5L219.3 356.1L216.9 357.1ZM240.7 339.8L244.0 341.0L247.2 342.6L250.3 344.3L253.2 346.4L247.4 353.6L245.2 352.0L242.8 350.6L240.3 349.4L237.7 348.4ZM226.9 329.3L231.6 329.5L236.3 330.1L240.8 331.1L238.3 340.0L234.6 339.1L230.8 338.6L226.9 338.4ZM259.2 418.1L255.4 420.8L251.4 423.2L247.2 425.2L243.5 416.8L246.9 415.2L250.2 413.2L253.3 411.0ZM179.4 344.6L182.3 341.0L185.5 337.6L189.0 334.6L195.0 341.6L192.0 344.2L189.3 347.0L186.8 350.0ZM164.5 404.9L162.2 398.6L160.6 392.2L169.7 390.4L171.1 396.0L173.1 401.4ZM264.9 314.4L270.7 318.0L276.0 322.1L270.0 329.1L265.3 325.5L260.3 322.3ZM316.1 353.4L317.8 359.9L319.0 366.5L309.8 367.8L308.7 361.8L307.2 356.0ZM277.4 456.1L271.5 459.5L265.4 462.5L261.6 454.2L267.1 451.5L272.3 448.4ZM324.8 353.3L326.4 359.9L327.5 366.5L318.2 367.7L317.2 361.6L315.8 355.7ZM277.8 465.5L271.8 468.7L265.6 471.4L262.0 463.0L267.7 460.5L273.2 457.6ZM126.5 366.5L127.6 359.9L129.2 353.3L138.2 355.7L136.8 361.6L135.8 367.7ZM129.1 353.7L131.1 347.3L133.5 341.0L142.1 344.5L139.9 350.2L138.1 356.1ZM133.3 341.4L136.1 335.2L139.4 329.3L147.4 333.9L144.5 339.3L141.9 344.8ZM334.4 401.3L332.8 407.7L330.9 414.1L322.1 411.1L323.9 405.3L325.3 399.4ZM171.4 472.3L165.7 468.8L160.2 464.9L165.9 457.7L170.9 461.2L176.1 464.4ZM159.9 474.9L154.4 471.0L149.2 466.8L155.4 459.9L160.2 463.8L165.2 467.4ZM116.3 338.8L118.8 332.6L121.7 326.6L130.0 330.8L127.3 336.3L125.0 342.0ZM348.6 413.8L344.1 426.4L335.5 423.0L339.6 411.3ZM159.3 484.4L148.3 476.7L154.1 469.5L164.3 476.7ZM107.4 338.7L112.5 326.3L120.9 330.2L116.2 341.7ZM164.4 271.1L176.6 265.2L180.3 273.6L169.0 279.1ZM238.5 247.1L250.7 248.7L249.1 257.7L237.7 256.2ZM359.8 356.0L361.5 368.0L352.2 368.8L350.7 357.6ZM357.4 413.4L353.7 425.0L345.0 421.8L348.4 411.0ZM123.8 464.8L116.3 455.2L123.9 450.0L130.9 458.9ZM100.1 334.2L104.8 323.0L113.3 326.8L108.9 337.3ZM169.7 259.1L181.1 254.5L184.3 263.1L173.7 267.4ZM180.6 254.7L192.3 251.0L194.7 259.9L183.8 263.3ZM368.1 354.5L369.8 367.3L360.5 368.1L358.9 356.1ZM109.7 460.4L102.7 449.5L110.8 445.0L117.4 455.1ZM85.8 355.1L88.6 342.5L97.6 344.9L95.0 356.7ZM155.1 257.4L166.7 251.4L170.6 259.7L159.7 265.3ZM376.4 353.1L378.2 366.6L368.9 367.4L367.2 354.7ZM188.0 523.5L174.8 519.4L178.0 510.8L190.4 514.7ZM102.9 465.2L95.4 453.7L103.5 449.1L110.5 459.9ZM77.5 353.7L80.5 340.4L89.5 342.8L86.7 355.3ZM150.8 250.2L163.2 243.9L167.1 252.2L155.5 258.1Z"/>
<path fill="#e0f3f8" d="M226.9 354.1L229.4 354.2L231.8 354.5L234.2 355.1L236.6 355.9L238.8 356.9L240.9 358.1L235.9 365.8L234.5 365.0L233.1 364.4L231.6 363.9L230.1 363.5L228.5 363.3L227.0 363.2ZM220.0 412.1L216.5 411.2L213.1 409.9L209.9 408.3L206.9 406.4L212.4 399.0L214.6 400.4L216.9 401.5L219.4 402.5L221.9 403.1ZM268.2 369.0L268.9 372.4L269.3 375.8L269.5 379.3L269.3 382.8L260.0 382.1L260.2 379.3L260.1 376.6L259.7 373.9L259.1 371.2ZM258.3 407.5L255.8 410.0L253.1 412.3L250.2 414.3L247.1 416.1L242.7 408.0L245.1 406.6L247.4 405.0L249.5 403.3L251.4 401.3ZM200.8 346.4L203.7 344.3L206.8 342.6L210.0 341.0L213.3 339.8L216.3 348.4L213.7 349.4L211.2 350.6L208.8 352.0L206.6 353.6ZM213.1 339.8L216.5 338.8L220.0 338.1L223.5 337.7L227.1 337.5L227.1 346.7L224.3 346.8L221.5 347.1L218.8 347.7L216.2 348.5ZM253.3 336.5L257.3 339.1L260.9 342.0L264.3 345.2L257.4 351.5L254.7 348.8L251.7 346.4L248.5 344.3ZM206.8 425.2L202.6 423.2L198.6 420.8L194.8 418.1L200.7 411.0L203.8 413.2L207.1 415.2L210.5 416.8ZM200.5 336.6L204.6 334.4L208.9 332.5L213.4 331.1L215.9 339.9L212.2 341.1L208.7 342.6L205.3 344.4ZM226.9 321.0L231.6 321.2L236.2 321.7L240.8 322.6L238.6 331.5L234.8 330.7L230.8 330.3L226.9 330.1ZM175.7 408.6L173.5 404.5L171.7 400.3L170.2 395.9L179.1 393.3L180.4 397.0L181.9 400.5L183.8 404.0ZM200.3 327.2L204.5 325.3L208.9 323.8L213.4 322.5L215.6 331.4L211.8 332.5L208.1 333.8L204.5 335.4ZM213.2 322.6L217.8 321.7L222.4 321.2L227.1 321.0L227.1 330.1L223.2 330.3L219.2 330.7L215.4 331.5ZM189.5 434.7L184.1 430.8L179.0 426.3L185.6 419.8L190.0 423.7L194.7 427.1ZM189.3 324.0L195.1 320.6L201.2 317.7L204.8 326.2L199.5 328.7L194.5 331.6ZM276.5 312.0L281.9 316.1L286.9 320.7L280.3 327.1L275.8 323.1L271.1 319.4ZM302.2 341.4L305.1 347.5L307.4 353.8L298.6 356.6L296.5 351.0L293.9 345.6ZM310.4 366.1L311.2 372.8L311.5 379.5L302.2 379.5L302.0 373.5L301.2 367.6ZM265.5 453.3L259.3 456.1L252.9 458.4L250.1 449.7L255.8 447.6L261.3 445.1ZM188.8 453.4L182.8 450.2L177.2 446.4L182.7 439.0L187.7 442.4L193.0 445.3ZM167.1 320.7L172.1 316.1L177.5 312.0L182.9 319.4L178.2 323.1L173.7 327.1ZM200.7 300.3L207.3 298.5L214.0 297.2L215.4 306.2L209.4 307.4L203.6 309.0ZM265.4 296.1L271.5 299.1L277.4 302.5L272.3 310.2L267.1 307.1L261.6 304.4ZM311.6 417.1L308.5 423.1L305.1 428.9L297.2 423.9L300.4 418.7L303.1 413.3ZM297.3 439.0L292.7 443.9L287.7 448.5L281.6 441.6L286.1 437.4L290.3 433.0ZM240.4 469.7L233.6 470.4L226.8 470.7L226.8 461.5L233.0 461.3L239.1 460.7ZM142.4 341.5L145.5 335.5L148.9 329.7L156.8 334.7L153.6 339.9L150.9 345.3ZM226.8 279.7L233.6 279.9L240.4 280.5L239.2 289.6L233.0 289.0L226.8 288.8ZM298.5 308.7L303.2 313.6L307.5 318.8L300.1 324.4L296.2 319.6L291.9 315.2ZM201.0 475.6L194.4 473.7L188.0 471.3L191.6 462.8L197.4 465.0L203.4 466.8ZM188.4 471.4L182.2 468.7L176.2 465.5L180.8 457.6L186.3 460.5L192.0 463.0ZM139.4 429.3L136.1 423.4L133.3 417.2L141.9 413.8L144.5 419.3L147.4 424.7ZM176.2 293.1L182.2 289.9L188.4 287.2L192.0 295.6L186.3 298.1L180.8 301.0ZM307.8 306.3L312.2 311.3L316.3 316.6L308.7 321.9L305.0 317.1L300.9 312.5ZM335.5 363.1L336.3 369.7L336.7 376.3L327.4 376.6L327.0 370.5L326.3 364.5ZM283.0 472.1L277.1 475.3L271.0 478.1L267.3 469.8L272.9 467.2L278.2 464.2ZM233.7 487.0L227.0 487.2L220.3 487.0L220.8 477.9L227.0 478.1L233.2 477.9ZM150.7 456.9L146.0 452.1L141.7 447.1L148.9 441.4L152.9 446.0L157.2 450.3ZM176.7 283.4L182.8 280.5L189.0 278.1L192.2 286.7L186.5 288.9L181.0 291.5ZM201.0 274.5L207.6 273.1L214.3 272.1L215.3 281.2L209.2 282.1L203.2 283.4ZM213.8 272.2L220.5 271.6L227.2 271.4L227.2 280.5L221.1 280.7L214.9 281.3ZM309.2 295.9L313.9 300.6L318.3 305.6L311.1 311.4L307.1 306.8L302.7 302.4ZM140.3 458.2L135.8 453.2L131.7 447.9L139.2 442.5L143.0 447.3L147.1 451.9ZM188.4 269.5L194.9 267.5L201.4 265.9L203.4 274.8L197.4 276.3L191.5 278.2ZM265.2 260.7L277.9 265.4L274.2 273.8L262.4 269.4ZM300.1 277.7L310.7 286.0L304.6 292.9L294.7 285.2ZM352.5 363.1L353.5 376.4L344.2 376.6L343.2 364.3ZM338.8 437.6L331.8 449.0L324.1 443.9L330.6 433.3ZM295.1 484.2L283.3 490.7L279.2 482.5L290.1 476.4ZM207.8 502.3L194.5 499.6L196.9 490.7L209.2 493.3ZM109.9 426.4L105.4 413.8L114.4 411.3L118.5 423.0ZM125.6 304.8L134.3 294.6L141.1 300.8L133.1 310.3ZM213.7 255.5L227.3 254.9L227.2 264.0L214.7 264.6ZM294.7 494.1L283.8 499.7L279.9 491.4L290.0 486.2ZM250.7 509.9L238.5 511.5L237.7 502.4L249.1 500.9ZM203.8 510.0L191.8 507.4L194.2 498.6L205.4 501.0ZM110.3 445.9L104.6 435.1L113.0 431.3L118.3 441.3ZM92.6 391.1L92.1 379.0L101.4 379.0L101.9 390.3ZM92.5 368.0L94.2 356.0L103.3 357.6L101.8 368.8ZM104.6 323.5L110.3 312.7L118.3 317.3L113.0 327.3ZM116.3 303.4L123.8 293.8L130.9 299.7L123.9 308.6ZM203.3 248.7L215.5 247.1L216.3 256.2L204.9 257.7ZM215.0 247.1L227.3 246.6L227.3 255.7L215.8 256.2ZM351.3 449.5L344.3 460.4L336.6 455.1L343.2 445.0ZM252.2 518.1L239.2 519.8L238.4 510.6L250.6 509.1ZM214.8 519.8L201.8 518.1L203.4 509.1L215.6 510.6ZM202.4 518.2L189.6 515.4L192.0 506.6L204.0 509.2ZM117.4 470.1L109.4 459.9L117.0 454.7L124.5 464.2ZM85.9 404.1L84.2 391.3L93.5 390.5L95.1 402.5ZM83.7 379.6L84.2 366.7L93.5 367.5L93.0 379.6ZM97.0 320.0L103.0 308.6L111.1 313.2L105.4 323.8ZM102.7 309.1L109.7 298.2L117.4 303.5L110.8 313.6ZM376.5 404.9L373.5 418.2L364.5 415.8L367.3 403.3ZM373.7 417.6L369.5 430.6L360.7 427.5L364.7 415.3ZM358.6 453.7L351.1 465.2L343.5 459.9L350.5 449.1ZM253.7 526.2L239.9 528.0L239.1 518.9L252.0 517.2ZM214.1 528.0L200.3 526.2L202.0 517.2L214.9 518.9ZM163.2 514.7L150.8 508.4L155.5 500.5L167.1 506.4ZM77.6 405.5L75.8 392.0L85.1 391.2L86.8 403.9ZM75.2 379.6L75.9 366.0L85.1 366.8L84.6 379.6ZM89.3 316.5L95.7 304.4L103.8 309.0L97.8 320.4ZM95.4 304.9L102.9 293.4L110.5 298.7L103.5 309.5ZM139.7 257.2L151.4 249.9L156.0 257.8L145.1 264.7Z"/>
<path fill="#efeac4" d="M250.3 368.8L251.2 371.0L251.9 373.3L252.4 375.7L252.6 378.1L252.6 380.5L252.4 382.9L243.2 381.6L243.3 380.1L243.3 378.5L243.2 377.0L242.9 375.5L242.5 374.0L241.9 372.6ZM219.8 403.5L217.5 402.8L215.3 401.7L213.1 400.5L211.1 399.1L209.3 397.5L207.6 395.8L214.6 389.8L215.7 390.9L216.9 391.9L218.2 392.8L219.5 393.6L220.9 394.2L222.4 394.7ZM240.8 348.7L244.0 350.3L247.0 352.2L249.8 354.4L252.4 356.9L245.4 363.0L243.6 361.2L241.6 359.6L239.4 358.2L237.0 357.0ZM207.0 406.5L204.2 404.2L201.7 401.7L199.4 399.0L197.5 396.0L205.5 391.4L207.0 393.6L208.6 395.6L210.4 397.4L212.5 399.0ZM234.1 420.5L230.6 420.9L227.0 421.1L223.4 420.9L219.9 420.5L221.5 411.5L224.2 411.8L227.0 411.9L229.8 411.8L232.5 411.5ZM206.9 416.1L203.8 414.3L200.9 412.3L198.2 410.0L195.7 407.5L202.6 401.3L204.5 403.3L206.6 405.0L208.9 406.6L211.3 408.0ZM234.0 428.9L229.4 429.3L224.6 429.3L220.0 428.9L221.3 419.8L225.1 420.1L228.9 420.1L232.7 419.8ZM220.2 428.9L215.5 428.1L211.0 426.8L206.6 425.2L210.4 416.8L213.9 418.1L217.6 419.1L221.4 419.8ZM195.0 418.2L191.5 415.1L188.2 411.7L185.4 408.1L193.0 402.8L195.3 405.8L198.0 408.6L200.8 411.1ZM213.2 331.1L217.7 330.1L222.4 329.5L227.1 329.3L227.1 338.4L223.2 338.6L219.4 339.1L215.7 340.0ZM253.5 327.1L257.6 329.4L261.5 331.9L265.2 334.7L259.2 341.7L256.1 339.3L252.8 337.2L249.3 335.3ZM194.5 428.1L190.7 425.4L187.1 422.5L183.8 419.2L190.6 413.0L193.4 415.7L196.4 418.2L199.6 420.4ZM252.8 317.7L258.9 320.6L264.7 324.0L259.5 331.6L254.5 328.7L249.2 326.2ZM201.2 440.9L195.1 438.0L189.3 434.6L194.5 427.0L199.5 429.9L204.8 432.4ZM265.2 444.0L259.2 447.1L252.9 449.7L249.7 441.1L255.2 438.8L260.5 436.1ZM150.9 379.5L151.2 372.8L152.1 366.1L161.2 367.8L160.5 373.6L160.2 379.4ZM142.5 379.5L142.8 372.8L143.6 366.1L152.8 367.6L152.0 373.5L151.8 379.5ZM226.8 287.9L233.6 288.2L240.4 288.9L239.1 297.9L233.0 297.3L226.8 297.1ZM287.7 310.1L292.7 314.7L297.3 319.6L290.3 325.6L286.1 321.2L281.6 317.0ZM316.2 404.9L314.1 411.2L311.4 417.4L303.0 413.6L305.3 408.0L307.3 402.3ZM201.0 467.0L194.5 464.9L188.2 462.3L192.1 454.0L197.8 456.3L203.6 458.2ZM213.6 288.9L220.4 288.2L227.2 287.9L227.2 297.1L221.0 297.3L214.9 297.9ZM288.5 300.1L293.8 304.4L298.8 309.0L292.2 315.5L287.7 311.3L282.9 307.4ZM314.6 329.3L317.9 335.2L320.7 341.4L312.1 344.8L309.5 339.3L306.6 333.9ZM298.8 449.6L293.8 454.2L288.5 458.5L282.9 451.2L287.7 447.3L292.2 443.1ZM288.8 458.2L283.3 462.2L277.5 465.7L272.8 457.8L278.1 454.5L283.2 451.0ZM240.4 478.1L233.6 478.7L226.8 478.9L226.8 469.8L233.0 469.6L239.2 469.0ZM214.0 478.1L207.2 477.0L200.6 475.5L203.0 466.7L209.1 468.0L215.2 469.0ZM239.7 272.1L246.4 273.1L253.0 274.5L250.8 283.4L244.8 282.1L238.7 281.2ZM265.0 278.1L271.2 280.5L277.3 283.4L273.0 291.5L267.5 288.9L261.8 286.7ZM276.9 283.2L282.8 286.4L288.5 289.9L283.3 297.5L278.1 294.3L272.7 291.3ZM303.6 456.6L298.6 461.0L293.4 465.2L287.8 457.9L292.6 454.1L297.1 450.0ZM293.8 464.9L288.3 468.8L282.6 472.3L277.9 464.4L283.1 461.2L288.1 457.7ZM207.8 485.6L201.2 484.2L194.7 482.4L197.5 473.7L203.4 475.3L209.4 476.5ZM118.4 363.6L119.6 357.1L121.2 350.6L130.2 353.1L128.7 359.0L127.7 364.9ZM121.1 351.1L123.1 344.7L125.4 338.5L134.0 342.0L131.9 347.7L130.1 353.5ZM188.6 278.2L195.0 276.1L201.5 274.4L203.6 283.3L197.7 284.9L191.8 286.8ZM304.8 466.8L299.6 471.0L294.1 474.9L288.8 467.4L293.8 463.8L298.6 459.9ZM294.5 474.6L288.9 478.3L283.0 481.6L278.6 473.5L284.0 470.5L289.2 467.1ZM233.8 495.3L227.0 495.5L220.2 495.3L220.8 486.1L227.0 486.3L233.2 486.1ZM220.7 495.3L214.0 494.8L207.3 493.9L208.9 484.8L215.0 485.7L221.2 486.2ZM207.8 493.9L201.2 492.7L194.6 491.0L197.2 482.2L203.2 483.7L209.3 484.9ZM171.0 481.6L165.1 478.3L159.5 474.6L164.8 467.1L170.0 470.5L175.4 473.5ZM112.4 351.0L114.3 344.6L116.5 338.3L125.2 341.6L123.1 347.4L121.5 353.2ZM200.9 266.0L207.6 264.7L214.3 263.8L215.3 272.9L209.1 273.7L203.0 274.9ZM213.8 263.9L220.5 263.3L227.2 263.1L227.2 272.3L221.0 272.4L214.8 273.0ZM350.1 350.5L352.5 363.6L343.3 364.7L341.0 352.6ZM138.9 468.6L129.7 458.8L136.8 453.0L145.4 462.0ZM200.9 257.5L214.3 255.5L215.2 264.6L202.8 266.5ZM313.5 277.5L322.6 285.7L316.0 292.1L307.6 284.5ZM330.2 293.8L337.7 303.4L330.1 308.6L323.1 299.7ZM349.4 435.1L343.7 445.9L335.7 441.3L341.0 431.3ZM304.6 487.9L294.2 494.4L289.6 486.4L299.3 480.4ZM215.5 511.5L203.3 509.9L204.9 500.9L216.3 502.4ZM159.8 494.4L149.4 487.9L154.7 480.4L164.4 486.4ZM287.3 251.4L298.9 257.4L294.3 265.3L283.4 259.7ZM336.6 288.5L344.6 298.7L337.0 303.9L329.5 294.4ZM365.4 342.5L368.2 355.1L359.0 356.7L356.4 344.9ZM365.5 415.5L361.6 427.8L352.9 424.6L356.5 413.2ZM361.8 427.2L356.8 439.1L348.4 435.3L353.0 424.1ZM337.0 469.7L328.2 479.2L321.6 472.7L329.9 463.8ZM309.5 494.6L298.4 501.5L293.8 493.6L304.1 487.1ZM103.0 450.0L97.0 438.6L105.4 434.8L111.1 445.4ZM84.2 391.9L83.7 379.0L93.0 379.0L93.5 391.1ZM84.2 367.3L85.9 354.5L95.1 356.1L93.5 368.1ZM177.7 246.9L190.2 243.0L192.6 251.9L180.9 255.5ZM278.6 238.9L291.4 244.2L287.5 252.5L275.4 247.6ZM313.8 256.9L324.8 265.2L318.8 272.2L308.5 264.4ZM343.0 283.1L351.5 294.0L343.9 299.2L335.9 289.0ZM373.5 340.4L376.5 353.7L367.3 355.3L364.5 342.8ZM369.7 430.1L364.4 442.7L356.0 438.8L361.0 426.9ZM343.5 475.0L334.1 485.1L327.5 478.6L336.3 469.1ZM314.3 501.4L302.6 508.7L298.0 500.8L308.9 493.9ZM201.0 526.3L187.4 523.4L189.8 514.5L202.6 517.3ZM111.0 475.5L102.5 464.6L110.1 459.4L118.1 469.6ZM89.6 442.7L84.3 430.1L93.0 426.9L98.0 438.8ZM75.9 392.6L75.2 379.0L84.6 379.0L85.1 391.8ZM75.8 366.6L77.6 353.1L86.8 354.7L85.1 367.4ZM84.3 328.5L89.6 315.9L98.0 319.8L93.0 331.7ZM174.8 239.2L188.0 235.1L190.4 243.9L178.0 247.8Z"/>
<path fill="#abd9e9" d="M201.6 382.9L201.4 380.5L201.4 378.1L201.6 375.7L202.1 373.3L202.8 371.0L203.7 368.8L212.1 372.6L211.5 374.0L211.1 375.5L210.8 377.0L210.7 378.5L210.7 380.1L210.8 381.6ZM277.8 382.6L277.2 387.2L276.3 391.7L274.9 396.2L266.1 393.1L267.3 389.5L268.1 385.8L268.5 382.0ZM185.5 408.2L182.9 404.4L180.8 400.2L179.0 396.0L187.8 392.9L189.2 396.4L191.0 399.8L193.1 402.9ZM189.7 345.2L193.1 342.0L196.7 339.1L200.7 336.5L205.5 344.3L202.3 346.4L199.3 348.8L196.6 351.5ZM285.4 369.1L286.0 373.6L286.3 378.2L286.2 382.8L276.9 382.3L277.0 378.4L276.7 374.5L276.2 370.7ZM270.2 419.2L266.9 422.5L263.3 425.4L259.5 428.1L254.4 420.4L257.6 418.2L260.6 415.7L263.4 413.0ZM240.1 314.0L246.7 315.6L253.0 317.8L249.5 326.3L243.9 324.4L238.3 323.0ZM264.5 323.9L269.9 327.8L275.0 332.3L268.4 338.8L264.0 334.9L259.3 331.5ZM293.4 366.2L294.4 372.8L294.7 379.4L285.4 379.4L285.1 373.7L284.2 368.0ZM170.8 416.4L167.3 410.7L164.4 404.7L173.0 401.2L175.5 406.4L178.5 411.3ZM213.7 314.0L220.4 313.0L227.1 312.7L227.1 321.9L221.3 322.2L215.5 323.0ZM213.9 453.0L207.3 451.6L200.8 449.6L204.0 441.0L209.7 442.7L215.5 444.0ZM152.1 392.5L151.2 385.8L150.9 379.1L160.2 379.2L160.5 385.0L161.2 390.8ZM152.0 366.5L153.5 359.9L155.5 353.6L164.3 356.7L162.5 362.3L161.2 368.0ZM167.4 438.2L162.7 433.3L158.5 428.0L166.1 422.6L169.8 427.3L173.9 431.7ZM143.5 366.5L144.8 359.9L146.7 353.5L155.5 356.3L153.9 362.0L152.7 367.9ZM146.6 353.8L148.9 347.5L151.8 341.4L160.1 345.6L157.5 351.0L155.4 356.6ZM151.6 341.7L154.9 335.9L158.7 330.3L166.3 335.7L162.9 340.7L159.9 345.9ZM177.2 312.2L182.8 308.4L188.8 305.2L193.0 313.3L187.7 316.2L182.7 319.6ZM318.9 366.1L319.7 372.8L319.9 379.5L310.6 379.5L310.4 373.4L309.7 367.4ZM188.6 462.5L182.5 459.5L176.6 456.1L181.7 448.4L186.9 451.5L192.4 454.2ZM176.6 302.5L182.5 299.1L188.6 296.1L192.4 304.4L186.9 307.1L181.7 310.2ZM200.6 291.7L207.2 290.0L214.0 288.8L215.3 297.9L209.2 299.0L203.3 300.5ZM265.6 287.2L271.8 289.9L277.8 293.1L273.2 301.0L267.7 298.1L262.0 295.6ZM327.4 366.1L328.1 372.8L328.3 379.5L319.0 379.5L318.8 373.4L318.2 367.3ZM307.5 439.8L303.2 445.0L298.5 449.9L291.9 443.4L296.2 439.0L300.1 434.2ZM188.0 287.3L194.4 284.9L201.0 283.0L203.4 291.8L197.4 293.6L191.6 295.8ZM312.3 447.1L308.0 452.1L303.3 456.9L296.8 450.3L301.1 446.0L305.1 441.4ZM271.4 478.0L265.2 480.5L258.8 482.6L256.1 473.8L262.0 471.9L267.7 469.6ZM141.9 447.5L137.8 442.2L134.1 436.7L142.0 431.8L145.4 436.9L149.2 441.7ZM128.0 425.9L125.3 419.9L123.0 413.6L131.8 410.7L133.9 416.4L136.4 422.0ZM165.5 289.9L171.2 286.4L177.1 283.2L181.3 291.3L175.9 294.3L170.7 297.5ZM288.7 280.2L294.3 283.8L299.8 287.8L294.0 295.0L289.0 291.4L283.8 288.0ZM341.5 350.5L342.9 357.0L344.0 363.6L334.8 364.8L333.8 358.8L332.4 352.8ZM283.4 481.4L277.4 484.4L271.2 487.0L267.7 478.5L273.4 476.1L279.0 473.3ZM118.9 426.2L116.4 420.0L114.2 413.7L123.1 411.0L125.1 416.8L127.4 422.5ZM289.1 270.9L300.5 278.0L295.1 285.5L284.5 278.8ZM346.4 338.2L350.2 351.0L341.1 353.1L337.6 341.2ZM220.8 503.6L207.3 502.2L208.7 493.2L221.2 494.4ZM170.7 490.7L158.9 484.2L163.9 476.4L174.8 482.5ZM102.6 401.9L100.8 388.6L110.1 388.0L111.7 400.2ZM153.5 278.0L164.9 270.9L169.5 278.8L158.9 285.5ZM294.2 264.2L304.6 270.7L299.3 278.2L289.6 272.2ZM353.7 333.6L357.4 345.2L348.4 347.6L345.0 336.8ZM361.4 367.5L361.9 379.6L352.6 379.6L352.1 368.3ZM359.9 402.1L357.3 413.9L348.3 411.5L350.8 400.5ZM94.2 402.6L92.5 390.6L101.8 389.8L103.3 401.0ZM298.4 257.1L309.5 264.0L304.1 271.5L293.8 265.0ZM356.8 319.5L361.8 331.4L353.0 334.5L348.4 323.3ZM370.3 379.0L369.8 391.9L360.5 391.1L361.0 379.0ZM298.9 501.2L287.3 507.2L283.4 498.9L294.3 493.3ZM178.3 511.9L166.1 506.9L170.1 498.7L181.4 503.3ZM214.2 238.9L227.3 238.3L227.3 247.5L215.0 248.0ZM324.3 264.8L334.5 274.0L327.9 280.5L318.3 271.8ZM351.1 293.4L358.6 304.9L350.5 309.5L343.5 298.7ZM378.8 379.0L378.1 392.6L368.9 391.8L369.4 379.0ZM351.5 464.6L343.0 475.5L335.9 469.6L343.9 459.4Z"/>
<path fill="#fdae61" d="M226.9 337.5L230.5 337.7L234.0 338.1L237.5 338.8L240.9 339.8L237.8 348.5L235.2 347.7L232.5 347.1L229.7 346.8L226.9 346.7ZM247.3 416.0L244.1 417.5L240.8 418.8L237.4 419.8L233.9 420.5L232.4 411.5L235.1 410.9L237.8 410.2L240.4 409.2L242.8 408.0ZM240.6 331.1L245.1 332.5L249.4 334.4L253.5 336.6L248.7 344.4L245.3 342.6L241.8 341.1L238.1 339.9ZM247.4 425.2L243.0 426.8L238.5 428.1L233.8 428.9L232.6 419.8L236.4 419.1L240.1 418.1L243.6 416.8ZM170.2 396.1L169.1 391.7L168.2 387.2L167.8 382.6L177.1 382.1L177.5 385.9L178.2 389.7L179.2 393.5ZM160.6 392.4L159.6 385.8L159.3 379.2L168.6 379.2L168.9 384.9L169.8 390.6ZM298.5 353.6L300.5 359.9L302.0 366.5L292.8 368.0L291.5 362.3L289.7 356.7ZM307.3 353.5L309.2 359.9L310.5 366.5L301.3 367.9L300.1 362.0L298.5 356.3ZM277.1 302.3L282.7 306.1L288.0 310.4L281.9 317.3L277.1 313.5L272.1 310.0ZM135.0 366.5L136.2 359.9L137.9 353.4L146.8 356.0L145.3 361.8L144.2 367.8ZM137.8 353.7L139.9 347.4L142.6 341.2L151.0 345.0L148.7 350.6L146.7 356.3ZM320.7 417.2L317.9 423.4L314.6 429.3L306.6 424.7L309.5 419.3L312.1 413.8ZM226.8 271.4L233.5 271.6L240.2 272.2L239.1 281.3L232.9 280.7L226.8 280.5ZM331.0 413.6L328.7 419.9L326.0 425.9L317.6 422.0L320.1 416.4L322.2 410.7ZM160.6 465.2L155.4 461.0L150.4 456.6L156.9 450.0L161.4 454.1L166.2 457.9ZM226.8 263.1L233.5 263.3L240.2 263.9L239.2 273.0L233.0 272.4L226.8 272.3ZM343.0 401.3L341.5 407.8L339.7 414.2L330.8 411.5L332.5 405.6L333.8 399.6ZM339.8 413.7L337.6 420.0L335.1 426.2L326.6 422.5L328.9 416.8L330.9 411.0ZM226.7 254.9L240.3 255.5L239.3 264.6L226.8 264.0ZM148.7 477.0L138.5 468.2L145.0 461.7L154.4 469.8ZM130.0 459.2L121.9 448.6L129.6 443.5L137.1 453.3ZM176.1 265.4L188.8 260.7L191.6 269.4L179.8 273.8ZM226.7 246.6L239.0 247.1L238.2 256.2L226.7 255.7ZM353.9 424.4L349.2 435.6L340.7 431.8L345.1 421.3ZM149.8 488.2L140.0 480.8L146.0 473.8L155.2 480.7ZM140.5 481.1L131.4 472.9L138.0 466.5L146.4 474.1ZM116.6 455.6L110.0 445.4L118.1 440.9L124.2 450.4ZM226.7 238.3L239.8 238.9L239.0 248.0L226.7 247.5ZM155.6 501.5L144.5 494.6L149.9 487.1L160.2 493.6ZM145.0 495.0L134.6 487.1L140.6 480.1L150.4 487.4ZM135.1 487.5L125.4 478.8L132.0 472.3L141.1 480.5ZM166.1 251.7L178.3 246.7L181.4 255.3L170.1 259.9ZM226.7 230.1L240.5 230.6L239.7 239.8L226.7 239.2ZM151.4 508.7L139.7 501.4L145.1 493.9L156.0 500.8ZM140.2 501.7L129.2 493.4L135.2 486.4L145.5 494.2ZM129.7 493.8L119.5 484.6L126.1 478.1L135.7 486.8ZM162.6 244.2L175.4 238.9L178.6 247.6L166.5 252.5Z"/>
<path fill="#4575b4" d="M283.8 395.9L282.3 400.3L280.5 404.5L278.3 408.6L270.2 404.0L272.1 400.5L273.6 397.0L274.9 393.3ZM168.6 369.3L169.6 364.8L170.9 360.4L172.6 356.1L181.1 359.7L179.7 363.4L178.6 367.1L177.8 370.9ZM293.4 392.2L291.8 398.6L289.5 404.9L280.9 401.4L282.9 396.0L284.3 390.4ZM240.3 444.6L233.6 445.6L226.9 445.9L226.9 436.7L232.7 436.4L238.5 435.6ZM293.0 416.6L289.3 422.2L285.2 427.5L278.1 421.6L281.7 417.0L284.9 412.0ZM310.5 392.1L309.2 398.7L307.3 405.1L298.5 402.3L300.1 396.6L301.3 390.7ZM253.3 458.3L246.7 460.1L240.0 461.4L238.6 452.4L244.6 451.2L250.4 449.6ZM156.9 439.3L152.6 434.1L148.7 428.5L156.6 423.6L160.1 428.6L163.9 433.3ZM156.7 319.6L161.3 314.7L166.3 310.1L172.4 317.0L167.9 321.2L163.7 325.6ZM307.3 318.5L311.2 323.9L314.9 329.7L306.8 334.2L303.5 329.0L299.9 324.1ZM328.3 379.1L328.1 385.8L327.4 392.5L318.2 391.3L318.8 385.2L319.0 379.1ZM155.2 309.0L160.2 304.4L165.5 300.1L171.1 307.4L166.3 311.3L161.8 315.5ZM316.0 316.2L319.8 321.7L323.2 327.4L315.0 331.8L311.9 326.6L308.5 321.6ZM328.6 338.5L330.9 344.7L332.9 351.1L323.9 353.5L322.1 347.7L320.0 342.0ZM337.5 338.3L339.7 344.6L341.6 351.0L332.5 353.2L330.9 347.4L328.8 341.6ZM259.5 499.6L246.2 502.3L244.8 493.3L257.1 490.7ZM261.7 251.0L273.4 254.7L270.2 263.3L259.3 259.9ZM337.4 303.0L344.0 313.2L335.9 317.7L329.8 308.2ZM284.3 499.5L272.9 504.1L269.7 495.5L280.3 491.2ZM273.4 503.9L261.7 507.6L259.3 498.7L270.2 495.3ZM96.7 413.9L94.1 402.1L103.2 400.5L105.7 411.5ZM287.9 506.9L275.7 511.9L272.6 503.3L283.9 498.7ZM239.8 519.7L226.7 520.3L226.7 511.1L239.0 510.6ZM227.3 520.3L214.2 519.7L215.0 510.6L227.3 511.1ZM334.1 273.5L343.5 283.6L336.3 289.5L327.5 280.0ZM291.4 514.4L278.6 519.7L275.4 511.0L287.5 506.1ZM266.6 523.4L253.0 526.3L251.4 517.3L264.2 514.5ZM240.5 528.0L226.7 528.5L226.7 519.4L239.7 518.8ZM227.3 528.5L213.5 528.0L214.3 518.8L227.3 519.4Z"/>
<path fill="#313695" d="M160.6 366.4L162.2 360.0L164.5 353.7L173.1 357.2L171.1 362.6L169.7 368.2ZM285.2 331.1L289.3 336.4L293.0 342.0L284.9 346.6L281.7 341.6L278.1 337.0ZM319.9 379.1L319.7 385.8L318.9 392.5L309.7 391.2L310.4 385.2L310.6 379.1Z"/>
<path fill="#3b56a4" d="M302.0 392.1L300.5 398.7L298.5 405.0L289.7 401.9L291.5 396.3L292.8 390.6ZM285.4 427.3L280.8 432.2L275.8 436.7L269.8 429.7L274.2 425.7L278.3 421.4ZM165.2 300.4L170.7 296.4L176.5 292.9L181.2 300.8L175.9 304.1L170.8 307.6ZM183.0 478.1L176.9 475.3L171.0 472.1L175.8 464.2L181.1 467.2L186.7 469.8ZM182.8 487.0L176.6 484.4L170.6 481.4L175.0 473.3L180.6 476.1L186.3 478.5ZM335.3 315.0L341.7 326.8L333.3 330.6L327.4 319.7ZM271.9 495.7L259.0 499.7L256.6 490.8L268.6 487.1ZM343.7 312.7L349.4 323.5L341.0 327.3L335.7 317.3ZM262.2 507.4L250.2 510.0L248.6 501.0L259.8 498.6ZM263.8 243.0L276.3 246.9L273.1 255.5L261.4 251.9ZM351.0 308.6L357.0 320.0L348.6 323.8L342.9 313.2ZM264.4 515.4L251.6 518.2L250.0 509.2L262.0 506.6ZM266.0 235.1L279.2 239.2L276.0 247.8L263.6 243.9ZM358.3 304.4L364.7 316.5L356.2 320.4L350.2 309.0Z"/>
</g>
<g stroke="#fff4a6" stroke-width="1.15" fill="none">
<ellipse cx="227.0" cy="379.3" rx="151.3" ry="148.8"/>
<ellipse cx="227.0" cy="379.3" rx="100.9" ry="99.2"/>
<ellipse cx="227.0" cy="379.3" rx="50.4" ry="49.6"/>
<path d="M227.0 230.5L227.0 528.1M334.0 274.1L120.0 484.5M378.3 379.3L75.7 379.3M334.0 484.5L120.0 274.1"/>
</g>
<path d="M227 379.3L304 409.5" stroke="#ffa012" stroke-width="1" fill="none"/>
<path d="M335.6 377.5L333.4 386L330.4 397.8L325.2 409.5L319.3 421.3L313.4 433L307.3 444" stroke="#ffa012" stroke-width="6.5" stroke-linecap="round" stroke-linejoin="round" fill="none"/>
<path d="M249.5 245.5h7M253.5 241.5v7M273.5 266.5h7M277.5 262.5v7M228.5 280.5h7M232.5 276.5v7M253.5 297.5h7M257.5 293.5v7M253.5 302.5h7M257.5 298.5v7M290.5 304.5h7M294.5 300.5v7M303.5 309.5h7M307.5 305.5v7M332.5 316.5h7M336.5 312.5v7M367.5 333.5h7M371.5 329.5v7M324.5 367.5h7M328.5 363.5v7M298.5 383.5h7M302.5 379.5v7M360.5 387.5h7M364.5 383.5v7M360.5 397.5h7M364.5 393.5v7M243.5 405.5h7M247.5 401.5v7M277.5 405.5h7M281.5 401.5v7M302.5 402.5h7M306.5 398.5v7M306.5 418.5h7M310.5 414.5v7M310.5 423.5h7M314.5 419.5v7M336.5 405.5h7M340.5 401.5v7M325.5 422.5h7M329.5 418.5v7M288.5 448.5h7M292.5 444.5v7M306.5 465.5h7M310.5 461.5v7M314.5 476.5h7M318.5 472.5v7M275.5 510.5h7M279.5 506.5v7M190.5 512.5h7M194.5 508.5v7M163.5 481.5h7M167.5 477.5v7M137.5 483.5h7M141.5 479.5v7M140.5 462.5h7M144.5 458.5v7M139.5 438.5h7M143.5 434.5v7M139.5 442.5h7M143.5 438.5v7M158.5 442.5h7M162.5 438.5v7M130.5 423.5h7M134.5 419.5v7M158.5 422.5h7M162.5 418.5v7M173.5 422.5h7M177.5 418.5v7M187.5 422.5h7M191.5 418.5v7M199.5 430.5h7M203.5 426.5v7M213.5 416.5h7M217.5 412.5v7M140.5 412.5h7M144.5 408.5v7M128.5 398.5h7M132.5 394.5v7M116.5 393.5h7M120.5 389.5v7M96.5 386.5h7M100.5 382.5v7M150.5 389.5h7M154.5 385.5v7M168.5 393.5h7M172.5 389.5v7M191.5 383.5h7M195.5 379.5v7M105.5 380.5h7M109.5 376.5v7M162.5 258.5h7M166.5 254.5v7M196.5 254.5h7M200.5 250.5v7M204.5 251.5h7M208.5 247.5v7M214.5 239.5h7M218.5 235.5v7M211.5 232.5h7M215.5 228.5v7M216.5 272.5h7M220.5 268.5v7M194.5 278.5h7M198.5 274.5v7M204.5 292.5h7M208.5 288.5v7M211.5 302.5h7M215.5 298.5v7M218.5 299.5h7M222.5 295.5v7M222.5 299.5h7M226.5 295.5v7M143.5 280.5h7M147.5 276.5v7M185.5 311.5h7M189.5 307.5v7M129.5 304.5h7M133.5 300.5v7M151.5 315.5h7M155.5 311.5v7M97.5 315.5h7M101.5 311.5v7M116.5 316.5h7M120.5 312.5v7M120.5 326.5h7M124.5 322.5v7M113.5 334.5h7M117.5 330.5v7M114.5 338.5h7M118.5 334.5v7M96.5 349.5h7M100.5 345.5v7M104.5 349.5h7M108.5 345.5v7M127.5 345.5h7M131.5 341.5v7M125.5 365.5h7M129.5 361.5v7M163.5 358.5h7M167.5 354.5v7M147.5 373.5h7M151.5 369.5v7" stroke="#00ee00" stroke-width="1" fill="none" shape-rendering="crispEdges"/>
<g class="sat" text-anchor="middle">
<text x="254.6" y="238.2">C27</text>
<text x="278.6" y="259.0">G09</text>
<text x="234.4" y="273.0">G17</text>
<text x="259.4" y="290.3">E04</text>
<text x="259.4" y="295.1">G32</text>
<text x="296.3" y="297.6">J193</text>
<text x="309.4" y="302.8">C28</text>
<text x="337.5" y="309.7">R23</text>
<text x="373.0" y="326.7">G01</text>
<text x="329.6" y="360.1">C49</text>
<text x="304.2" y="376.7">G07</text>
<text x="366.5" y="380.4">E08</text>
<text x="365.7" y="390.7">G02</text>
<text x="248.6" y="398.0">G30</text>
<text x="283.4" y="398.2">E07</text>
<text x="308.4" y="395.0">E23</text>
<text x="311.5" y="411.6">G23</text>
<text x="315.5" y="416.4">E27</text>
<text x="341.7" y="398.7">R22</text>
<text x="331.3" y="415.7">C43</text>
<text x="293.8" y="441.4">R12</text>
<text x="312.5" y="458.7">G08</text>
<text x="320.3" y="468.9">C11</text>
<text x="281.3" y="503.2">R21</text>
<text x="196.5" y="505.3">E36</text>
<text x="169.4" y="474.1">R04</text>
<text x="143.4" y="476.4">G15</text>
<text x="145.5" y="455.9">C19</text>
<text x="144.8" y="430.9">E10</text>
<text x="144.8" y="435.5">E11</text>
<text x="163.6" y="435.5">G13</text>
<text x="136.1" y="416.4">C09</text>
<text x="164.2" y="415.9">C06</text>
<text x="179.2" y="415.9">C16</text>
<text x="193.2" y="415.3">G39</text>
<text x="205.3" y="423.7">R13</text>
<text x="218.8" y="409.1">C37</text>
<text x="145.5" y="404.9">C48</text>
<text x="134.4" y="390.9">E19</text>
<text x="121.5" y="386.2">C46</text>
<text x="102.1" y="379.2">G05</text>
<text x="155.7" y="382.4">E29</text>
<text x="173.6" y="386.2">R03</text>
<text x="196.9" y="376.8">G14</text>
<text x="111.1" y="373.6">R14</text>
<text x="167.8" y="251.3">C07</text>
<text x="201.5" y="247.6">C40</text>
<text x="210.5" y="244.0">G19</text>
<text x="219.5" y="232.7">J195</text>
<text x="217.4" y="225.9">E01</text>
<text x="222.3" y="265.9">E31</text>
<text x="200.0" y="271.9">C32</text>
<text x="209.8" y="285.5">R02</text>
<text x="217.3" y="295.9">J002</text>
<text x="223.6" y="292.4">G06</text>
<text x="227.8" y="292.4">E09</text>
<text x="148.6" y="273.0">C38</text>
<text x="190.7" y="304.4">J199</text>
<text x="134.8" y="297.6">C08</text>
<text x="156.7" y="308.6">C03</text>
<text x="103.2" y="308.0">G20</text>
<text x="121.5" y="309.4">G21</text>
<text x="126.0" y="318.9">C13</text>
<text x="118.8" y="327.2">J200</text>
<text x="120.3" y="330.9">E14</text>
<text x="102.1" y="342.8">C60</text>
<text x="110.5" y="342.4">G04</text>
<text x="133.4" y="338.6">C56</text>
<text x="131.3" y="358.6">E12</text>
<text x="169.2" y="351.7">G22</text>
<text x="153.2" y="366.7">C20</text>
</g>
<text x="226" y="179.5" text-anchor="middle">Sky Plot at the Epoch of Max Rx Power</text>
<text x="226" y="194.5" text-anchor="middle">2025-10-09T19:14:45.000Z</text>
</g>
<!--/SKY-->
<!--WATERFALL-->
<g id="waterfall">
<text x="722" y="187" text-anchor="middle">Waterfall Plot</text>
<g stroke="#f4f4ac" stroke-width="1" fill="none">
<path d="M507.5 468.5L662.2 385.2L936.3 433.3"/>
<path d="M529.6 456.6l6 1.1M551.7 444.7l6 1.1M573.8 432.8l6 1.1M595.9 420.9l6 1.1M618.0 409.0l6 1.1M640.1 397.1l6 1.1M662.2 385.2l6 1.1M662.2 385.2l-5 2.7M707.9 393.2l-5 2.7M753.6 401.2l-5 2.7M799.2 409.2l-5 2.7M844.9 417.3l-5 2.7M890.6 425.3l-5 2.7M936.3 433.3l-5 2.7"/>
</g>
<g id="wfsurf" shape-rendering="crispEdges" fill="none" stroke-width="1">
<path stroke="#5c8cc6" d="M572.5 444v3M573.5 443v3M574.5 442v2M591.5 425v3M592.5 426v3M599.5 428v2M604.5 430v2M605.5 431v1M622.5 431v1M623.5 430v2M624.5 429v4M625.5 429v3M640.5 442v2M642.5 442v2M651.5 439v2M684.5 449v1M700.5 441v4M710.5 445v2M728.5 447v5M730.5 446v3M740.5 462v4M745.5 463v1M757.5 470v1M758.5 468v2M759.5 469v4M760.5 473v1M761.5 472v2M763.5 471v3M776.5 474v1M778.5 475v4M798.5 463v3M800.5 458v2M830.5 405v1M831.5 403v1M846.5 397v2M847.5 397v3M870.5 398v2M906.5 408v2M907.5 408v1M918.5 390v1"/>
<path stroke="#6494cb" d="M558.5 425v2M571.5 444v1M572.5 443v1M573.5 442v1M574.5 440v2M577.5 440v2M578.5 438v4M579.5 438v1M581.5 436v1M586.5 430v1M590.5 426v2M591.5 423v2M592.5 424v2M593.5 427v1M594.5 424v3M598.5 427v2M599.5 425v3M600.5 427v2M604.5 428v2M605.5 428v3M606.5 429v2M607.5 429v6M608.5 429v4M609.5 429v5M610.5 431v1M611.5 430v5M612.5 429v2M617.5 429v2M618.5 429v4M619.5 428v6M620.5 431v1M621.5 430v4M622.5 426v5M622.5 432v2M623.5 427v3M624.5 426v3M625.5 425v4M626.5 425v10M627.5 425v5M632.5 437v4M633.5 438v3M634.5 437v4M636.5 438v4M640.5 438v4M641.5 435v7M642.5 439v3M643.5 438v2M644.5 438v3M646.5 437v4M647.5 437v6M648.5 436v6M649.5 439v3M650.5 437v3M651.5 435v4M652.5 433v8M656.5 434v8M659.5 438v2M660.5 436v3M661.5 439v4M662.5 436v8M663.5 437v3M664.5 443v1M665.5 440v3M666.5 442v1M668.5 443v2M669.5 444v3M671.5 443v4M672.5 444v4M673.5 445v1M677.5 446v1M678.5 445v4M682.5 449v1M683.5 447v4M684.5 446v3M685.5 445v4M688.5 446v1M690.5 448v3M699.5 438v4M700.5 436v5M701.5 440v4M702.5 440v4M703.5 442v3M704.5 440v5M708.5 436v7M709.5 438v6M710.5 442v3M711.5 444v5M716.5 449v3M717.5 446v3M721.5 446v6M722.5 450v2M723.5 449v2M727.5 444v5M728.5 443v4M729.5 440v4M730.5 442v4M731.5 446v4M732.5 444v9M733.5 453v4M734.5 454v4M736.5 459v2M738.5 458v2M739.5 459v2M740.5 458v4M740.5 466v1M741.5 454v8M744.5 463v2M745.5 459v4M746.5 464v2M749.5 462v5M750.5 467v2M751.5 466v3M753.5 468v1M754.5 464v8M756.5 468v2M757.5 464v6M758.5 465v3M759.5 464v5M760.5 469v4M761.5 469v3M762.5 471v3M763.5 467v4M764.5 472v3M765.5 473v2M766.5 472v5M768.5 473v4M770.5 475v1M772.5 472v2M773.5 474v2M774.5 472v4M775.5 472v4M776.5 470v4M777.5 466v9M778.5 465v10M779.5 473v3M780.5 471v7M787.5 471v5M790.5 469v2M793.5 468v4M794.5 468v1M796.5 466v1M797.5 460v7M798.5 459v4M799.5 452v8M800.5 454v4M803.5 435v1M804.5 430v4M805.5 424v4M807.5 415v1M809.5 413v1M810.5 414v1M811.5 414v2M812.5 414v1M813.5 413v2M814.5 411v1M818.5 410v3M819.5 409v2M824.5 408v1M830.5 403v2M831.5 400v3M832.5 401v5M833.5 403v2M843.5 396v3M844.5 397v4M845.5 395v1M846.5 395v2M847.5 395v2M848.5 394v2M849.5 395v3M850.5 393v3M852.5 392v1M856.5 392v2M857.5 392v2M858.5 393v2M861.5 393v4M867.5 394v1M870.5 396v2M874.5 399v1M875.5 399v1M877.5 399v1M880.5 402v1M882.5 404v1M890.5 412v4M891.5 410v2M901.5 409v3M903.5 409v1M906.5 407v1M907.5 407v1M909.5 407v3M912.5 406v2"/>
<path stroke="#6b9dcf" d="M558.5 424v1M563.5 435v2M564.5 436v2M566.5 441v1M571.5 443v1M572.5 441v2M573.5 440v2M574.5 439v1M575.5 438v2M577.5 437v3M577.5 442v1M578.5 435v3M579.5 436v2M581.5 433v3M582.5 432v3M583.5 430v4M584.5 429v2M585.5 429v1M586.5 427v3M588.5 427v2M590.5 424v2M591.5 420v3M592.5 421v3M593.5 422v5M594.5 422v2M595.5 425v1M597.5 426v5M598.5 425v2M599.5 423v2M600.5 424v3M601.5 426v2M602.5 426v2M603.5 427v1M604.5 425v3M605.5 425v3M606.5 426v3M607.5 427v2M608.5 426v3M609.5 427v2M610.5 425v6M611.5 424v6M612.5 427v2M613.5 426v3M615.5 424v1M616.5 426v2M617.5 426v3M618.5 426v3M619.5 425v3M620.5 425v6M621.5 424v6M622.5 423v3M623.5 423v4M624.5 423v3M625.5 422v3M626.5 422v3M627.5 421v4M628.5 425v3M629.5 427v4M630.5 429v2M631.5 433v2M632.5 434v3M633.5 435v3M634.5 433v4M635.5 433v2M636.5 435v3M637.5 434v5M638.5 438v2M639.5 437v2M640.5 435v3M641.5 431v4M642.5 436v3M643.5 435v3M644.5 435v3M645.5 436v5M646.5 433v4M647.5 434v3M648.5 432v4M649.5 431v8M650.5 431v6M651.5 432v3M652.5 429v4M653.5 430v7M654.5 435v1M656.5 431v3M657.5 432v4M659.5 435v3M660.5 433v3M661.5 430v9M662.5 433v3M663.5 434v3M664.5 436v7M665.5 437v3M666.5 437v5M667.5 435v8M668.5 437v6M669.5 436v8M670.5 437v5M671.5 439v4M672.5 439v5M673.5 441v4M674.5 437v1M676.5 439v2M677.5 436v10M678.5 442v3M679.5 440v10M680.5 442v8M681.5 443v3M682.5 446v3M683.5 443v4M684.5 437v9M685.5 438v7M686.5 439v8M687.5 446v1M688.5 442v4M689.5 443v5M690.5 439v9M696.5 434v4M697.5 431v2M698.5 431v2M699.5 429v9M700.5 433v3M701.5 432v8M702.5 437v3M703.5 435v7M704.5 436v4M705.5 436v8M706.5 438v3M707.5 433v9M708.5 432v4M709.5 434v4M710.5 434v8M711.5 435v9M712.5 439v10M713.5 446v4M714.5 445v3M715.5 442v10M716.5 439v10M717.5 443v3M718.5 445v1M720.5 441v6M721.5 441v5M722.5 446v4M723.5 445v4M724.5 450v3M725.5 444v8M726.5 444v3M727.5 435v9M728.5 438v5M729.5 436v4M730.5 439v3M731.5 437v9M732.5 440v4M733.5 444v9M734.5 450v4M735.5 455v5M736.5 455v4M737.5 453v3M738.5 451v7M739.5 453v6M740.5 454v4M741.5 449v5M742.5 454v4M743.5 452v6M744.5 453v10M745.5 455v4M746.5 454v10M747.5 461v3M749.5 459v3M750.5 457v10M751.5 462v4M752.5 457v7M753.5 459v9M754.5 461v3M755.5 462v8M756.5 458v10M757.5 461v3M758.5 456v9M759.5 461v3M760.5 465v4M761.5 463v6M762.5 462v9M763.5 463v4M764.5 462v10M765.5 463v10M766.5 468v4M767.5 467v6M768.5 468v5M769.5 471v3M770.5 465v10M771.5 465v7M772.5 465v7M773.5 471v3M774.5 468v4M775.5 466v6M776.5 460v10M777.5 462v4M778.5 461v4M779.5 463v10M780.5 467v4M782.5 472v1M783.5 474v1M785.5 468v5M786.5 467v7M787.5 467v4M788.5 463v6M789.5 461v8M790.5 465v4M791.5 468v2M792.5 465v7M793.5 464v4M794.5 459v9M795.5 456v8M796.5 462v4M797.5 457v3M798.5 454v5M799.5 448v4M800.5 450v4M801.5 448v3M802.5 440v2M803.5 431v4M804.5 425v5M805.5 418v6M806.5 413v5M807.5 412v3M808.5 412v4M809.5 408v5M810.5 411v3M811.5 412v2M812.5 410v4M813.5 408v5M814.5 409v2M815.5 407v2M816.5 409v2M817.5 409v3M818.5 407v3M819.5 407v2M820.5 405v3M821.5 405v4M823.5 405v5M824.5 406v2M825.5 405v5M826.5 404v4M827.5 405v3M829.5 402v3M830.5 400v3M831.5 397v3M832.5 397v4M833.5 400v3M834.5 399v1M835.5 399v3M836.5 399v1M842.5 395v1M843.5 394v2M844.5 394v3M845.5 393v2M846.5 393v2M847.5 393v2M848.5 392v2M849.5 393v2M850.5 391v2M851.5 391v2M852.5 390v2M853.5 390v2M854.5 390v1M856.5 389v3M857.5 390v2M858.5 391v2M859.5 393v3M860.5 392v2M861.5 392v1M867.5 392v2M870.5 394v2M873.5 397v1M874.5 398v1M875.5 397v2M877.5 398v1M878.5 398v2M880.5 400v2M882.5 402v2M883.5 402v1M884.5 404v2M890.5 410v2M891.5 409v1M892.5 409v3M894.5 410v2M895.5 410v2M901.5 408v1M903.5 408v1M908.5 406v1M909.5 406v1M910.5 406v1M912.5 405v1"/>
<path stroke="#73a5d4" d="M563.5 434v1M564.5 435v1M566.5 440v1M569.5 444v1M570.5 443v2M571.5 441v2M572.5 439v2M573.5 438v2M574.5 437v2M575.5 436v2M576.5 436v2M577.5 434v3M578.5 433v2M579.5 433v3M580.5 430v3M581.5 431v2M582.5 429v3M583.5 426v4M584.5 425v4M585.5 425v4M586.5 425v2M588.5 425v2M589.5 423v3M590.5 421v3M591.5 418v2M592.5 418v3M593.5 418v4M594.5 419v3M595.5 421v4M596.5 423v4M597.5 422v4M598.5 420v5M599.5 418v5M600.5 418v6M601.5 423v3M602.5 424v2M603.5 424v3M604.5 420v5M605.5 419v6M606.5 420v6M607.5 424v3M608.5 424v2M609.5 424v3M610.5 422v3M611.5 420v4M612.5 423v4M613.5 419v7M614.5 423v1M615.5 422v2M616.5 423v3M617.5 421v5M618.5 423v3M619.5 422v3M620.5 421v4M621.5 419v5M622.5 420v3M623.5 416v7M624.5 420v3M625.5 419v3M626.5 419v3M627.5 418v3M628.5 422v3M629.5 420v7M630.5 423v6M631.5 429v4M632.5 431v3M633.5 432v3M634.5 429v4M635.5 429v4M636.5 431v4M637.5 430v4M638.5 434v4M639.5 428v9M640.5 427v8M641.5 428v3M642.5 427v9M643.5 432v3M644.5 432v3M645.5 430v6M646.5 430v3M647.5 430v4M648.5 429v3M649.5 427v4M650.5 428v3M651.5 423v9M652.5 426v3M653.5 425v5M654.5 429v6M655.5 428v1M656.5 428v3M657.5 428v4M658.5 430v4M659.5 432v3M660.5 429v4M661.5 426v4M662.5 430v3M663.5 430v4M664.5 429v7M665.5 433v4M666.5 433v4M667.5 431v4M668.5 433v4M669.5 431v5M670.5 431v6M671.5 436v3M672.5 436v3M673.5 433v8M674.5 433v4M676.5 435v4M677.5 433v3M678.5 436v6M679.5 436v4M680.5 439v3M681.5 439v4M682.5 439v7M683.5 435v8M684.5 432v5M685.5 434v4M686.5 435v4M687.5 438v8M688.5 439v3M689.5 435v8M690.5 435v4M691.5 438v9M692.5 439v2M693.5 436v3M694.5 433v2M695.5 427v9M696.5 425v9M697.5 426v5M698.5 427v4M699.5 424v5M700.5 427v6M701.5 427v5M702.5 431v6M703.5 429v6M704.5 432v4M705.5 432v4M706.5 429v9M707.5 429v4M708.5 429v3M709.5 430v4M710.5 428v6M711.5 432v3M712.5 436v3M713.5 437v9M714.5 442v3M715.5 439v3M716.5 435v4M717.5 434v9M718.5 436v9M719.5 435v8M720.5 437v4M721.5 437v4M722.5 437v9M723.5 442v3M724.5 440v10M725.5 441v3M726.5 434v10M727.5 432v3M728.5 429v9M729.5 432v4M730.5 429v10M731.5 433v4M732.5 437v3M733.5 440v4M734.5 447v3M735.5 446v9M736.5 451v4M737.5 444v9M738.5 448v3M739.5 444v9M740.5 445v9M741.5 446v3M742.5 446v8M743.5 449v3M744.5 449v4M745.5 445v10M746.5 449v5M747.5 450v11M748.5 451v10M749.5 453v6M750.5 453v4M751.5 451v11M752.5 454v3M753.5 454v5M754.5 456v5M755.5 459v3M756.5 453v5M757.5 451v10M758.5 450v6M759.5 450v11M760.5 454v11M761.5 454v9M762.5 456v6M763.5 452v11M764.5 458v4M765.5 459v4M766.5 457v11M767.5 464v3M768.5 464v4M769.5 467v4M770.5 460v5M771.5 461v4M772.5 461v4M773.5 460v11M774.5 464v4M775.5 462v4M776.5 456v4M777.5 455v7M778.5 457v4M779.5 459v4M780.5 463v4M781.5 463v6M782.5 468v4M783.5 464v10M784.5 461v10M785.5 464v4M786.5 463v4M787.5 463v4M788.5 460v3M789.5 457v4M790.5 462v3M791.5 460v8M792.5 461v4M793.5 454v10M794.5 455v4M795.5 452v4M796.5 452v10M797.5 453v4M798.5 445v9M799.5 444v4M800.5 442v8M801.5 444v4M802.5 437v3M803.5 428v3M804.5 419v6M805.5 413v5M806.5 410v3M807.5 409v3M808.5 406v6M809.5 405v3M810.5 405v6M811.5 408v4M812.5 408v2M813.5 405v3M814.5 406v3M815.5 404v3M816.5 404v5M817.5 404v5M818.5 405v2M819.5 404v3M820.5 403v2M821.5 402v3M822.5 402v4M823.5 402v3M824.5 403v3M825.5 400v5M826.5 401v3M827.5 400v5M828.5 401v4M829.5 398v4M830.5 395v5M831.5 395v2M832.5 394v3M833.5 397v3M834.5 396v3M835.5 396v3M836.5 396v3M839.5 395v1M840.5 394v2M841.5 393v2M842.5 393v2M843.5 392v2M844.5 392v2M845.5 391v2M846.5 391v2M847.5 391v2M848.5 391v1M849.5 391v2M850.5 390v1M851.5 388v3M852.5 388v2M853.5 387v3M854.5 389v1M856.5 387v2M857.5 388v2M858.5 389v2M859.5 391v2M860.5 390v2M861.5 390v2M863.5 389v2M866.5 391v1M867.5 390v2M869.5 392v1M870.5 392v2M871.5 393v1M872.5 393v2M873.5 395v2M874.5 396v2M875.5 395v2M876.5 396v2M877.5 396v2M878.5 397v1M880.5 398v2M881.5 400v1M882.5 401v1M883.5 401v1M884.5 402v2M885.5 404v2M886.5 407v1M889.5 408v1M890.5 407v3M891.5 407v2M892.5 407v2M894.5 408v2M895.5 408v2M900.5 407v2M901.5 407v1M902.5 407v1M904.5 407v1M905.5 405v2M906.5 404v3M907.5 406v1M908.5 403v3M909.5 405v1M910.5 405v1M912.5 403v2M916.5 389v2M917.5 389v1"/>
<path stroke="#7eaed8" d="M558.5 423v1M561.5 429v1M563.5 432v2M564.5 433v2M566.5 439v1M567.5 441v2M568.5 442v2M569.5 442v2M570.5 440v3M571.5 438v3M572.5 436v3M573.5 435v3M574.5 436v1M575.5 434v2M576.5 434v2M577.5 432v2M578.5 431v2M579.5 428v5M580.5 427v3M581.5 429v2M582.5 426v3M583.5 424v2M584.5 422v3M585.5 422v3M586.5 423v2M587.5 422v3M588.5 422v3M589.5 421v2M590.5 416v5M591.5 415v3M592.5 413v5M593.5 415v3M594.5 416v3M595.5 416v5M596.5 418v5M597.5 420v2M598.5 415v5M599.5 413v5M600.5 414v4M601.5 418v5M602.5 421v3M603.5 419v5M604.5 415v5M605.5 415v4M606.5 416v4M607.5 419v5M608.5 420v4M609.5 419v5M610.5 419v3M611.5 418v2M612.5 416v7M613.5 415v4M614.5 420v3M615.5 419v3M616.5 420v3M617.5 415v6M618.5 417v6M619.5 417v5M620.5 418v3M621.5 417v2M622.5 416v4M623.5 413v3M624.5 413v7M625.5 415v4M626.5 416v3M627.5 415v3M628.5 415v7M629.5 417v3M630.5 419v4M631.5 422v7M632.5 423v8M633.5 425v7M634.5 426v3M635.5 426v3M636.5 423v8M637.5 427v3M638.5 426v8M639.5 424v4M640.5 422v5M641.5 422v6M642.5 423v4M643.5 425v7M644.5 423v9M645.5 427v3M646.5 425v5M647.5 422v8M648.5 425v4M649.5 424v3M650.5 424v4M651.5 419v4M652.5 421v5M653.5 422v3M654.5 422v7M655.5 425v3M656.5 419v9M657.5 425v3M658.5 423v7M659.5 423v9M660.5 420v9M661.5 423v3M662.5 421v9M663.5 421v9M664.5 426v3M665.5 424v9M666.5 429v4M667.5 428v3M668.5 429v4M669.5 428v3M670.5 428v3M671.5 429v7M672.5 430v6M673.5 428v5M674.5 430v3M675.5 426v9M676.5 426v9M677.5 429v4M678.5 428v8M679.5 433v3M680.5 434v5M681.5 436v3M682.5 432v7M683.5 429v6M684.5 429v3M685.5 430v4M686.5 432v3M687.5 432v6M688.5 429v10M689.5 432v3M690.5 431v4M691.5 434v4M692.5 435v4M693.5 433v3M694.5 423v10M695.5 424v3M696.5 421v4M697.5 423v3M698.5 422v5M699.5 421v3M700.5 419v8M701.5 423v4M702.5 423v8M703.5 425v4M704.5 426v6M705.5 429v3M706.5 426v3M707.5 426v3M708.5 420v9M709.5 421v9M710.5 425v3M711.5 428v4M712.5 432v4M713.5 433v4M714.5 433v9M715.5 435v4M716.5 432v3M717.5 429v5M718.5 431v5M719.5 432v3M720.5 434v3M721.5 429v8M722.5 433v4M723.5 432v10M724.5 436v4M725.5 436v5M726.5 430v4M727.5 427v5M728.5 426v3M729.5 424v8M730.5 425v4M731.5 429v4M732.5 427v10M733.5 436v4M734.5 437v10M735.5 442v4M736.5 441v10M737.5 438v6M738.5 441v7M739.5 441v3M740.5 440v5M741.5 436v10M742.5 443v3M743.5 440v9M744.5 445v4M745.5 441v4M746.5 446v3M747.5 446v4M748.5 447v4M749.5 444v9M750.5 449v4M751.5 448v3M752.5 449v5M753.5 450v4M754.5 446v10M755.5 454v5M756.5 450v3M757.5 446v5M758.5 446v4M759.5 446v4M760.5 451v3M761.5 450v4M762.5 452v4M763.5 448v4M764.5 454v4M765.5 452v7M766.5 453v4M767.5 457v7M768.5 454v10M769.5 457v10M770.5 456v4M771.5 457v4M772.5 451v10M773.5 456v4M774.5 454v10M775.5 452v10M776.5 451v5M777.5 447v8M778.5 446v11M779.5 455v4M780.5 452v11M781.5 458v5M782.5 458v10M783.5 461v3M784.5 456v5M785.5 459v5M786.5 457v6M787.5 453v10M788.5 450v10M789.5 453v4M790.5 451v11M791.5 453v7M792.5 458v3M793.5 451v3M794.5 451v4M795.5 448v4M796.5 448v4M797.5 443v10M798.5 442v3M799.5 434v10M800.5 436v6M801.5 436v8M802.5 429v8M803.5 425v3M804.5 416v3M805.5 410v3M806.5 407v3M807.5 406v3M808.5 403v3M809.5 403v2M810.5 401v4M811.5 402v6M812.5 405v3M813.5 402v3M814.5 403v3M815.5 402v2M816.5 401v3M817.5 400v4M818.5 402v3M819.5 402v2M820.5 400v3M821.5 400v2M822.5 399v3M823.5 400v2M824.5 400v3M825.5 397v3M826.5 398v3M827.5 397v3M828.5 397v4M829.5 394v4M830.5 392v3M831.5 392v3M832.5 391v3M833.5 392v5M834.5 394v2M835.5 393v3M836.5 394v2M838.5 393v3M839.5 391v4M840.5 391v3M841.5 390v3M842.5 391v2M843.5 390v2M844.5 390v2M845.5 389v2M846.5 389v2M847.5 389v2M848.5 388v3M849.5 389v2M850.5 388v2M851.5 386v2M852.5 387v1M853.5 385v2M854.5 387v2M856.5 385v2M857.5 387v1M858.5 386v3M859.5 388v3M860.5 388v2M861.5 388v2M862.5 387v2M863.5 388v1M865.5 390v2M866.5 389v2M867.5 389v1M868.5 391v2M869.5 390v2M870.5 390v2M871.5 390v3M872.5 391v2M873.5 393v2M874.5 394v2M875.5 394v1M876.5 394v2M877.5 394v2M878.5 395v2M879.5 397v2M880.5 397v1M881.5 398v2M882.5 399v2M883.5 399v2M884.5 399v3M885.5 401v3M886.5 405v2M889.5 407v1M890.5 405v2M891.5 406v1M892.5 405v2M893.5 407v2M894.5 406v2M895.5 406v2M900.5 406v1M901.5 405v2M902.5 406v1M903.5 407v1M904.5 405v2M905.5 401v4M906.5 387v3M906.5 401v3M907.5 401v5M908.5 387v3M908.5 400v3M909.5 402v3M910.5 401v4M911.5 402v3M912.5 400v3M913.5 400v4M914.5 399v3M916.5 391v3"/>
<path stroke="#89b7db" d="M561.5 428v1M563.5 431v1M564.5 432v1M566.5 437v2M567.5 439v2M568.5 440v2M569.5 440v2M570.5 438v2M571.5 436v2M572.5 434v2M573.5 433v2M574.5 434v2M575.5 433v1M576.5 433v1M577.5 430v2M578.5 428v3M579.5 425v3M580.5 425v2M581.5 426v3M582.5 424v2M583.5 421v3M584.5 420v2M585.5 420v2M586.5 420v3M587.5 418v4M588.5 418v4M589.5 418v3M590.5 412v4M591.5 409v6M592.5 409v4M593.5 413v2M594.5 410v6M595.5 413v3M596.5 415v3M597.5 417v3M598.5 412v3M599.5 410v3M600.5 412v2M601.5 414v4M602.5 416v5M603.5 414v5M604.5 412v3M605.5 413v2M606.5 414v2M607.5 414v5M608.5 414v6M609.5 413v6M610.5 416v3M611.5 415v3M612.5 413v3M613.5 412v3M614.5 414v6M615.5 412v7M616.5 414v6M617.5 412v3M618.5 412v5M619.5 411v6M620.5 415v3M621.5 414v3M622.5 409v7M623.5 410v3M624.5 408v5M625.5 408v7M626.5 408v8M627.5 407v8M628.5 410v5M629.5 414v3M630.5 416v3M631.5 418v4M632.5 419v4M633.5 420v5M634.5 418v8M635.5 421v5M636.5 419v4M637.5 420v7M638.5 422v4M639.5 421v3M640.5 419v3M641.5 414v8M642.5 420v3M643.5 419v6M644.5 419v4M645.5 423v4M646.5 417v8M647.5 418v4M648.5 416v9M649.5 419v5M650.5 415v9M651.5 416v3M652.5 413v8M653.5 418v4M654.5 418v4M655.5 416v9M656.5 414v5M657.5 417v8M658.5 419v4M659.5 419v4M660.5 417v3M661.5 418v5M662.5 417v4M663.5 417v4M664.5 422v4M665.5 420v4M666.5 420v9M667.5 421v7M668.5 420v9M669.5 422v6M670.5 423v5M671.5 422v7M672.5 422v8M673.5 424v4M674.5 421v9M675.5 421v5M676.5 422v4M677.5 419v10M678.5 424v4M679.5 423v10M680.5 425v9M681.5 426v10M682.5 428v4M683.5 426v3M684.5 420v9M685.5 420v10M686.5 422v10M687.5 429v3M688.5 425v4M689.5 427v5M690.5 422v9M691.5 430v4M692.5 425v10M693.5 423v10M694.5 419v4M695.5 419v5M696.5 417v4M697.5 413v10M698.5 413v9M699.5 411v10M700.5 415v4M701.5 418v5M702.5 420v3M703.5 421v4M704.5 419v7M705.5 419v10M706.5 422v4M707.5 417v9M708.5 415v5M709.5 417v4M710.5 419v6M711.5 418v10M712.5 422v10M713.5 429v4M714.5 428v5M715.5 425v10M716.5 422v10M717.5 425v4M718.5 427v4M719.5 427v5M720.5 424v10M721.5 423v6M722.5 429v4M723.5 428v4M724.5 432v4M725.5 427v9M726.5 426v4M727.5 417v10M728.5 421v5M729.5 418v6M730.5 421v4M731.5 418v11M732.5 423v4M733.5 426v10M734.5 432v5M735.5 438v4M736.5 438v3M737.5 435v3M738.5 433v8M739.5 433v8M740.5 436v4M741.5 431v5M742.5 434v9M743.5 434v6M744.5 435v10M745.5 437v4M746.5 435v11M747.5 442v4M748.5 443v4M749.5 441v3M750.5 438v11M751.5 443v5M752.5 439v10M753.5 440v10M754.5 443v3M755.5 444v10M756.5 439v11M757.5 442v4M758.5 435v11M759.5 442v4M760.5 446v5M761.5 440v10M762.5 442v10M763.5 443v5M764.5 443v11M765.5 444v8M766.5 449v4M767.5 449v8M768.5 449v5M769.5 452v5M770.5 445v11M771.5 446v11M772.5 446v5M773.5 452v4M774.5 450v4M775.5 447v5M776.5 440v11M777.5 443v4M778.5 442v4M779.5 444v11M780.5 449v3M781.5 455v3M782.5 454v4M783.5 455v6M784.5 453v3M785.5 449v10M786.5 448v9M787.5 449v4M788.5 445v5M789.5 442v11M790.5 447v4M791.5 450v3M792.5 447v11M793.5 446v5M794.5 441v10M795.5 438v10M796.5 444v4M797.5 439v4M798.5 437v5M799.5 429v5M800.5 433v3M801.5 431v5M802.5 425v4M803.5 417v8M804.5 413v3M805.5 407v3M806.5 404v3M807.5 401v5M808.5 400v3M809.5 400v3M810.5 399v2M811.5 399v3M812.5 402v3M813.5 400v2M814.5 399v4M815.5 399v3M816.5 398v3M817.5 398v2M818.5 398v4M819.5 397v5M820.5 397v3M821.5 397v3M822.5 396v3M823.5 397v3M824.5 396v4M825.5 394v3M826.5 396v2M827.5 394v3M828.5 394v3M829.5 391v3M830.5 389v3M831.5 388v4M832.5 389v2M833.5 389v3M834.5 391v3M835.5 391v2M836.5 392v2M837.5 392v3M838.5 389v4M839.5 388v3M840.5 387v4M841.5 386v4M842.5 389v2M843.5 388v2M844.5 388v2M845.5 387v2M846.5 386v3M847.5 386v3M848.5 386v2M849.5 387v2M850.5 386v2M851.5 384v2M852.5 385v2M853.5 384v1M854.5 385v2M855.5 385v2M856.5 383v2M857.5 385v2M858.5 384v2M859.5 385v3M860.5 387v1M861.5 386v2M862.5 386v1M863.5 386v2M864.5 387v1M865.5 389v1M866.5 388v1M867.5 387v2M868.5 388v3M869.5 388v2M870.5 389v1M871.5 387v3M872.5 389v2M873.5 391v2M874.5 391v3M875.5 392v2M876.5 391v3M877.5 393v1M878.5 394v1M879.5 395v2M880.5 395v2M881.5 397v1M882.5 396v3M883.5 397v2M884.5 397v2M885.5 398v3M886.5 402v3M889.5 405v2M890.5 403v2M891.5 404v2M892.5 403v2M893.5 404v3M894.5 403v3M895.5 405v1M896.5 405v1M899.5 404v2M900.5 397v9M901.5 398v7M902.5 400v6M903.5 384v1M903.5 400v7M904.5 388v6M904.5 401v4M905.5 384v10M905.5 399v2M906.5 386v1M906.5 390v5M906.5 398v3M907.5 390v11M908.5 390v5M908.5 397v3M909.5 399v3M910.5 399v2M911.5 390v12M912.5 393v7M913.5 392v8M914.5 396v3M915.5 391v4"/>
<path stroke="#94c0df" d="M557.5 420v1M558.5 422v1M561.5 427v1M562.5 429v1M563.5 429v2M564.5 431v1M566.5 436v1M567.5 437v2M568.5 437v3M569.5 438v2M570.5 436v2M571.5 434v2M572.5 431v3M573.5 430v3M574.5 431v3M575.5 431v2M576.5 431v2M577.5 428v2M578.5 423v5M579.5 422v3M580.5 422v3M581.5 422v4M582.5 421v3M583.5 419v2M584.5 417v3M585.5 417v3M586.5 415v5M587.5 415v3M588.5 413v5M589.5 415v3M590.5 409v3M591.5 406v3M592.5 406v3M593.5 410v3M594.5 407v3M595.5 411v2M596.5 412v3M597.5 414v3M598.5 410v2M599.5 407v3M600.5 409v3M601.5 411v3M602.5 411v5M603.5 411v3M604.5 409v3M605.5 409v4M606.5 411v3M607.5 410v4M608.5 410v4M609.5 410v3M610.5 409v7M611.5 408v7M612.5 410v3M613.5 409v3M614.5 409v5M615.5 407v5M616.5 409v5M617.5 409v3M618.5 409v3M619.5 407v4M620.5 407v8M621.5 407v7M622.5 405v4M623.5 406v4M624.5 405v3M625.5 404v4M626.5 403v5M627.5 402v5M628.5 407v3M629.5 407v7M630.5 410v6M631.5 415v3M632.5 416v3M633.5 417v3M634.5 414v4M635.5 413v8M636.5 416v3M637.5 414v6M638.5 419v3M639.5 415v6M640.5 413v6M641.5 411v3M642.5 411v9M643.5 415v4M644.5 415v4M645.5 414v9M646.5 413v4M647.5 415v3M648.5 412v4M649.5 410v9M650.5 411v4M651.5 407v9M652.5 409v4M653.5 408v10M654.5 415v3M655.5 411v5M656.5 411v3M657.5 411v6M658.5 415v4M659.5 415v4M660.5 413v4M661.5 409v9M662.5 413v4M663.5 414v3M664.5 413v9M665.5 417v3M666.5 417v3M667.5 414v7M668.5 416v4M669.5 413v9M670.5 414v9M671.5 418v4M672.5 419v3M673.5 415v9M674.5 416v5M675.5 417v4M676.5 418v4M677.5 415v4M678.5 420v4M679.5 419v4M680.5 422v3M681.5 422v4M682.5 424v4M683.5 417v9M684.5 414v6M685.5 416v4M686.5 417v5M687.5 423v6M688.5 421v4M689.5 417v10M690.5 417v5M691.5 421v9M692.5 422v3M693.5 419v4M694.5 415v4M695.5 408v11M696.5 405v12M697.5 408v5M698.5 409v4M699.5 406v5M700.5 407v8M701.5 408v10M702.5 415v5M703.5 411v10M704.5 415v4M705.5 415v4M706.5 411v11M707.5 412v5M708.5 411v4M709.5 412v5M710.5 410v9M711.5 414v4M712.5 418v4M713.5 419v10M714.5 424v4M715.5 421v4M716.5 417v5M717.5 415v10M718.5 416v11M719.5 416v11M720.5 419v5M721.5 419v4M722.5 418v11M723.5 424v4M724.5 422v10M725.5 423v4M726.5 415v11M727.5 413v4M728.5 410v11M729.5 414v4M730.5 410v11M731.5 414v4M732.5 418v5M733.5 422v4M734.5 429v3M735.5 428v10M736.5 433v5M737.5 423v12M738.5 429v4M739.5 425v8M740.5 425v11M741.5 426v5M742.5 427v7M743.5 430v4M744.5 431v4M745.5 425v12M746.5 430v5M747.5 431v11M748.5 432v11M749.5 430v11M750.5 434v4M751.5 432v11M752.5 435v4M753.5 435v5M754.5 433v10M755.5 440v4M756.5 434v5M757.5 430v12M758.5 430v5M759.5 430v12M760.5 435v11M761.5 434v6M762.5 437v5M763.5 432v11M764.5 438v5M765.5 440v4M766.5 438v11M767.5 445v4M768.5 445v4M769.5 449v3M770.5 441v4M771.5 442v4M772.5 442v4M773.5 440v12M774.5 445v5M775.5 443v4M776.5 436v4M777.5 431v12M778.5 430v12M779.5 440v4M780.5 442v7M781.5 444v11M782.5 450v4M783.5 446v9M784.5 441v12M785.5 446v3M786.5 445v3M787.5 440v9M788.5 441v4M789.5 438v4M790.5 443v4M791.5 440v10M792.5 443v4M793.5 436v10M794.5 436v5M795.5 434v4M796.5 434v10M797.5 435v4M798.5 426v11M799.5 425v4M800.5 421v12M801.5 427v4M802.5 422v3M803.5 413v4M804.5 407v6M805.5 401v6M806.5 397v7M807.5 395v6M808.5 397v3M809.5 392v8M810.5 396v3M811.5 396v3M812.5 396v6M813.5 395v5M814.5 393v6M815.5 392v7M816.5 396v2M817.5 395v3M818.5 392v6M819.5 392v5M820.5 391v6M821.5 393v4M822.5 394v2M823.5 394v3M824.5 391v5M825.5 392v2M826.5 393v3M827.5 392v2M828.5 392v2M829.5 388v3M830.5 386v3M831.5 383v5M832.5 386v3M833.5 387v2M834.5 388v3M835.5 388v3M836.5 388v4M837.5 387v5M838.5 386v3M839.5 385v3M840.5 383v4M841.5 382v4M842.5 384v5M843.5 384v4M844.5 386v2M845.5 385v2M846.5 382v4M847.5 382v4M848.5 381v5M849.5 384v3M850.5 384v2M851.5 382v2M852.5 382v3M853.5 382v2M854.5 383v2M855.5 383v2M856.5 381v2M857.5 382v3M858.5 382v2M859.5 383v2M860.5 385v2M861.5 384v2M862.5 384v2M863.5 384v2M864.5 385v2M865.5 386v3M866.5 386v2M867.5 385v2M868.5 385v3M869.5 386v2M870.5 386v3M871.5 385v2M872.5 387v2M873.5 389v2M874.5 388v3M875.5 389v3M876.5 388v3M877.5 391v2M878.5 392v2M879.5 393v2M880.5 394v1M881.5 395v2M882.5 394v2M883.5 395v2M884.5 395v2M885.5 396v2M886.5 399v3M887.5 400v2M888.5 403v2M889.5 403v2M890.5 401v2M891.5 401v3M892.5 401v2M893.5 401v3M894.5 401v2M895.5 403v2M896.5 402v3M898.5 400v4M899.5 398v6M900.5 377v6M900.5 394v3M901.5 380v10M901.5 395v3M902.5 383v8M902.5 397v3M903.5 385v6M903.5 396v4M904.5 387v1M904.5 394v7M905.5 394v5M906.5 395v3M908.5 395v2M909.5 393v6M910.5 394v5M914.5 392v4"/>
<path stroke="#9fc8e3" d="M555.5 415v1M557.5 418v2M558.5 418v4M561.5 425v2M562.5 427v2M563.5 428v1M564.5 429v2M565.5 433v1M566.5 434v2M567.5 434v3M568.5 434v3M569.5 435v3M570.5 434v2M571.5 432v2M572.5 430v1M573.5 429v1M574.5 429v2M575.5 429v2M576.5 428v3M577.5 424v4M578.5 419v4M579.5 419v3M580.5 418v4M581.5 417v5M582.5 417v4M583.5 414v5M584.5 412v5M585.5 413v4M586.5 410v5M587.5 412v3M588.5 410v3M589.5 409v6M590.5 407v2M591.5 403v3M592.5 404v2M593.5 405v5M594.5 404v3M595.5 408v3M596.5 409v3M597.5 408v6M598.5 406v4M599.5 403v4M600.5 404v5M601.5 408v3M602.5 407v4M603.5 408v3M604.5 405v4M605.5 402v7M606.5 403v8M607.5 407v3M608.5 407v3M609.5 407v3M610.5 404v5M611.5 402v6M612.5 405v5M613.5 401v8M614.5 405v4M615.5 404v3M616.5 406v3M617.5 402v7M618.5 406v3M619.5 404v3M620.5 403v4M621.5 401v6M622.5 402v3M623.5 398v8M624.5 401v4M625.5 401v3M626.5 400v3M627.5 399v3M628.5 402v5M629.5 400v7M630.5 403v7M631.5 410v5M632.5 411v5M633.5 413v4M634.5 410v4M635.5 409v4M636.5 406v10M637.5 410v4M638.5 409v10M639.5 407v8M640.5 405v8M641.5 404v7M642.5 406v5M643.5 410v5M644.5 407v8M645.5 409v5M646.5 409v4M647.5 404v11M648.5 408v4M649.5 406v4M650.5 407v4M651.5 401v6M652.5 404v5M653.5 404v4M654.5 404v11M655.5 408v3M656.5 401v10M657.5 408v3M658.5 405v10M659.5 405v10M660.5 402v11M661.5 405v4M662.5 403v10M663.5 403v11M664.5 409v4M665.5 406v11M666.5 412v5M667.5 410v4M668.5 412v4M669.5 410v3M670.5 410v4M671.5 409v9M672.5 410v9M673.5 409v6M674.5 412v4M675.5 406v11M676.5 406v12M677.5 410v5M678.5 409v11M679.5 414v5M680.5 417v5M681.5 418v4M682.5 413v11M683.5 411v6M684.5 410v4M685.5 406v10M686.5 413v4M687.5 414v9M688.5 410v11M689.5 413v4M690.5 413v4M691.5 416v5M692.5 417v5M693.5 415v4M694.5 403v12M695.5 404v4M696.5 401v4M697.5 404v4M698.5 399v10M699.5 402v4M700.5 400v7M701.5 405v3M702.5 405v10M703.5 407v4M704.5 408v7M705.5 411v4M706.5 407v4M707.5 408v4M708.5 400v11M709.5 402v10M710.5 406v4M711.5 409v5M712.5 414v4M713.5 415v4M714.5 414v10M715.5 416v5M716.5 413v4M717.5 410v5M718.5 412v4M719.5 413v3M720.5 414v5M721.5 408v11M722.5 414v4M723.5 412v12M724.5 418v4M725.5 417v6M726.5 411v4M727.5 403v10M728.5 406v4M729.5 403v11M730.5 406v4M731.5 406v8M732.5 407v11M733.5 416v6M734.5 417v12M735.5 423v5M736.5 422v11M737.5 419v4M738.5 418v11M739.5 421v4M740.5 420v5M741.5 415v11M742.5 423v4M743.5 418v12M744.5 419v12M745.5 421v4M746.5 425v5M747.5 427v4M748.5 427v5M749.5 424v6M750.5 428v6M751.5 428v4M752.5 423v12M753.5 430v5M754.5 426v7M755.5 430v10M756.5 429v5M757.5 426v4M758.5 425v5M759.5 426v4M760.5 431v4M761.5 430v4M762.5 432v5M763.5 428v4M764.5 427v11M765.5 428v12M766.5 434v4M767.5 432v13M768.5 433v12M769.5 437v12M770.5 431v10M771.5 430v12M772.5 429v13M773.5 436v4M774.5 433v12M775.5 431v12M776.5 425v11M777.5 427v4M778.5 426v4M779.5 428v12M780.5 432v10M781.5 439v5M782.5 438v12M783.5 442v4M784.5 437v4M785.5 434v12M786.5 433v12M787.5 433v7M788.5 429v12M789.5 432v6M790.5 431v12M791.5 434v6M792.5 439v4M793.5 432v4M794.5 431v5M795.5 428v6M796.5 430v4M797.5 423v12M798.5 423v3M799.5 415v10M800.5 417v4M801.5 417v10M802.5 416v6M803.5 409v4M804.5 400v7M805.5 395v6M806.5 393v4M807.5 392v3M808.5 389v8M809.5 388v4M810.5 390v6M811.5 393v3M812.5 392v4M813.5 389v6M814.5 390v3M815.5 388v4M816.5 390v6M817.5 391v4M818.5 389v3M819.5 388v4M820.5 387v4M821.5 387v6M822.5 390v4M823.5 388v6M824.5 388v3M825.5 388v4M826.5 387v6M827.5 388v4M828.5 389v3M829.5 385v3M830.5 383v3M831.5 380v3M832.5 380v6M833.5 384v3M834.5 382v6M835.5 384v4M836.5 382v6M837.5 383v4M838.5 383v3M839.5 383v2M840.5 381v2M841.5 380v2M842.5 380v4M843.5 380v4M844.5 381v5M845.5 380v5M846.5 379v3M847.5 379v3M848.5 379v2M849.5 380v4M850.5 380v4M851.5 380v2M852.5 378v4M853.5 379v3M854.5 381v2M855.5 379v4M856.5 379v2M857.5 379v3M858.5 380v2M859.5 381v2M860.5 382v3M861.5 380v4M862.5 382v2M863.5 382v2M864.5 383v2M865.5 383v3M866.5 384v2M867.5 382v3M868.5 382v3M869.5 384v2M870.5 382v4M871.5 383v2M872.5 385v2M873.5 386v3M874.5 385v3M875.5 385v4M876.5 386v2M877.5 388v3M878.5 390v2M879.5 390v3M880.5 391v3M881.5 392v3M882.5 391v3M883.5 392v3M884.5 394v1M885.5 394v2M886.5 397v2M887.5 398v2M888.5 401v2M889.5 401v2M890.5 400v1M891.5 393v8M892.5 399v2M893.5 399v2M894.5 400v1M895.5 401v2M896.5 397v5M898.5 395v5M899.5 372v3M899.5 381v9M899.5 393v5M900.5 383v11M901.5 390v5M902.5 391v6M903.5 391v5"/>
<path stroke="#aacfe6" d="M556.5 416v1M557.5 415v3M558.5 414v4M559.5 411v10M560.5 412v2M560.5 420v3M561.5 422v3M562.5 420v7M563.5 424v4M564.5 426v3M565.5 431v2M566.5 432v2M567.5 432v2M568.5 430v4M569.5 432v3M570.5 432v2M571.5 430v2M572.5 428v2M573.5 427v2M574.5 427v2M575.5 427v2M576.5 425v3M577.5 420v4M578.5 416v3M579.5 416v3M580.5 413v5M581.5 414v3M582.5 411v6M583.5 409v5M584.5 407v5M585.5 407v6M586.5 407v3M587.5 409v3M588.5 408v2M589.5 405v4M590.5 403v4M591.5 401v2M592.5 401v3M593.5 400v5M594.5 401v3M595.5 402v6M596.5 405v4M597.5 404v4M598.5 400v6M599.5 398v5M600.5 399v5M601.5 404v4M602.5 404v3M603.5 404v4M604.5 399v6M605.5 399v3M606.5 399v4M607.5 403v4M608.5 403v4M609.5 401v6M610.5 401v3M611.5 400v2M612.5 399v6M613.5 398v3M614.5 402v3M615.5 400v4M616.5 402v4M617.5 397v5M618.5 398v8M619.5 398v6M620.5 400v3M621.5 398v3M622.5 397v5M623.5 395v3M624.5 395v6M625.5 395v6M626.5 397v3M627.5 396v3M628.5 395v7M629.5 397v3M630.5 400v3M631.5 401v9M632.5 403v8M633.5 403v10M634.5 402v8M635.5 405v4M636.5 402v4M637.5 403v7M638.5 405v4M639.5 403v4M640.5 402v3M641.5 398v6M642.5 403v3M643.5 401v9M644.5 401v6M645.5 406v3M646.5 400v9M647.5 400v4M648.5 399v9M649.5 401v5M650.5 398v9M651.5 398v3M652.5 396v8M653.5 399v5M654.5 400v4M655.5 398v10M656.5 397v4M657.5 399v9M658.5 401v4M659.5 401v4M660.5 399v3M661.5 399v6M662.5 399v4M663.5 399v4M664.5 404v5M665.5 402v4M666.5 402v10M667.5 401v9M668.5 402v10M669.5 402v8M670.5 403v7M671.5 403v6M672.5 403v7M673.5 405v4M674.5 402v10M675.5 402v4M676.5 403v3M677.5 401v9M678.5 405v4M679.5 404v10M680.5 406v11M681.5 407v11M682.5 410v3M683.5 407v4M684.5 400v10M685.5 401v5M686.5 402v11M687.5 410v4M688.5 406v4M689.5 403v10M690.5 402v11M691.5 412v4M692.5 406v11M693.5 403v12M694.5 400v3M695.5 398v6M696.5 398v3M697.5 395v9M698.5 395v4M699.5 394v8M700.5 397v3M701.5 396v9M702.5 401v4M703.5 400v7M704.5 400v8M705.5 400v11M706.5 403v4M707.5 398v10M708.5 397v3M709.5 399v3M710.5 398v8M711.5 399v10M712.5 403v11M713.5 410v5M714.5 409v5M715.5 405v11M716.5 402v11M717.5 405v5M718.5 407v5M719.5 403v10M720.5 404v10M721.5 404v4M722.5 405v9M723.5 409v3M724.5 413v5M725.5 407v10M726.5 406v5M727.5 399v4M728.5 400v6M729.5 400v3M730.5 402v4M731.5 401v5M732.5 404v3M733.5 407v9M734.5 413v4M735.5 418v5M736.5 418v4M737.5 414v5M738.5 414v4M739.5 411v10M740.5 415v5M741.5 412v3M742.5 413v10M743.5 415v3M744.5 415v4M745.5 413v8M746.5 415v10M747.5 418v9M748.5 418v9M749.5 420v4M750.5 418v10M751.5 417v11M752.5 419v4M753.5 419v11M754.5 422v4M755.5 424v6M756.5 418v11M757.5 420v6M758.5 416v9M759.5 418v8M760.5 420v11M761.5 419v11M762.5 421v11M763.5 418v10M764.5 422v5M765.5 424v4M766.5 422v12M767.5 428v4M768.5 429v4M769.5 432v5M770.5 424v7M771.5 425v5M772.5 426v3M773.5 425v11M774.5 429v4M775.5 427v4M776.5 422v3M777.5 423v4M778.5 423v3M779.5 424v4M780.5 428v4M781.5 432v7M782.5 434v4M783.5 430v12M784.5 430v7M785.5 429v5M786.5 428v5M787.5 429v4M788.5 425v4M789.5 422v10M790.5 427v4M791.5 430v4M792.5 427v12M793.5 421v11M794.5 420v11M795.5 418v10M796.5 420v10M797.5 420v3M798.5 416v7M799.5 412v3M800.5 414v3M801.5 412v5M802.5 407v9M803.5 402v7M804.5 397v3M805.5 392v3M806.5 390v3M807.5 389v3M808.5 386v3M809.5 386v2M810.5 385v5M811.5 386v7M812.5 389v3M813.5 385v4M814.5 387v3M815.5 385v3M816.5 384v6M817.5 384v7M818.5 386v3M819.5 386v2M820.5 384v3M821.5 384v3M822.5 383v7M823.5 384v4M824.5 385v3M825.5 382v6M826.5 383v4M827.5 382v6M828.5 384v5M829.5 380v5M830.5 378v5M831.5 378v2M832.5 377v3M833.5 380v4M834.5 379v3M835.5 379v5M836.5 379v3M837.5 380v3M838.5 380v3M839.5 380v3M840.5 378v3M841.5 377v3M842.5 378v2M843.5 377v3M844.5 378v3M845.5 377v3M846.5 377v2M847.5 378v1M848.5 377v2M849.5 377v3M850.5 377v3M851.5 377v3M852.5 376v2M853.5 377v2M854.5 377v4M855.5 376v3M856.5 377v2M857.5 376v3M858.5 378v2M859.5 379v2M860.5 378v4M861.5 378v2M862.5 379v3M863.5 378v4M864.5 381v2M865.5 380v3M866.5 381v3M867.5 379v3M868.5 380v2M869.5 382v2M870.5 380v2M871.5 381v2M872.5 383v2M873.5 383v3M874.5 383v2M875.5 383v2M876.5 384v2M877.5 386v2M878.5 387v3M879.5 388v2M880.5 389v2M881.5 389v3M882.5 390v1M883.5 388v4M884.5 392v2M885.5 392v2M886.5 395v2M887.5 397v1M888.5 399v2M889.5 399v2M890.5 392v1M890.5 396v4M891.5 374v4M891.5 389v4M892.5 363v6M892.5 384v15M893.5 393v6M894.5 366v3M894.5 385v15M895.5 367v5M895.5 387v14M896.5 367v4M896.5 380v8M896.5 392v5M897.5 369v7M897.5 388v10M898.5 371v24M899.5 375v6M899.5 390v3"/>
<path stroke="#b4d5e9" d="M560.5 414v6M561.5 410v12M562.5 405v15M563.5 405v12M563.5 420v4M564.5 404v22M565.5 423v8M566.5 423v9M567.5 428v4M568.5 413v4M568.5 426v4M569.5 428v4M570.5 430v2M571.5 398v3M571.5 426v4M572.5 399v3M572.5 410v18M573.5 400v1M573.5 410v17M574.5 420v7M575.5 426v1M576.5 423v2M577.5 417v3M578.5 414v2M579.5 413v3M580.5 411v2M581.5 412v2M582.5 409v2M583.5 407v2M584.5 405v2M585.5 405v2M586.5 405v2M587.5 404v5M588.5 404v4M589.5 403v2M590.5 399v4M591.5 398v3M592.5 397v4M593.5 398v2M594.5 398v3M595.5 398v4M596.5 399v6M597.5 401v3M598.5 397v3M599.5 395v3M600.5 396v3M601.5 398v6M602.5 401v3M603.5 398v6M604.5 396v3M605.5 396v3M606.5 397v2M607.5 398v5M608.5 398v5M609.5 397v4M610.5 399v2M611.5 397v3M612.5 396v3M613.5 395v3M614.5 397v5M615.5 396v4M616.5 397v5M617.5 395v2M618.5 395v3M619.5 394v4M620.5 397v3M621.5 396v2M622.5 392v5M623.5 392v3M624.5 391v4M625.5 391v4M626.5 391v6M627.5 391v5M628.5 392v3M629.5 395v2M630.5 397v3M631.5 398v3M632.5 400v3M633.5 400v3M634.5 398v4M635.5 398v7M636.5 399v3M637.5 398v5M638.5 402v3M639.5 400v3M640.5 399v3M641.5 395v3M642.5 399v4M643.5 399v2M644.5 398v3M645.5 398v8M646.5 397v3M647.5 398v2M648.5 396v3M649.5 394v7M650.5 395v3M651.5 395v3M652.5 393v3M653.5 393v6M654.5 397v3M655.5 395v3M656.5 394v3M657.5 395v4M658.5 398v3M659.5 398v3M660.5 396v3M661.5 393v6M662.5 396v3M663.5 396v3M664.5 396v8M665.5 399v3M666.5 399v3M667.5 397v4M668.5 398v4M669.5 397v5M670.5 397v6M671.5 400v3M672.5 401v2M673.5 399v6M674.5 398v4M675.5 399v3M676.5 400v3M677.5 397v4M678.5 401v4M679.5 401v3M680.5 403v3M681.5 403v4M682.5 401v9M683.5 399v8M684.5 396v4M685.5 398v3M686.5 399v3M687.5 401v9M688.5 402v4M689.5 399v4M690.5 399v3M691.5 401v11M692.5 402v4M693.5 400v3M694.5 396v4M695.5 392v6M696.5 390v8M697.5 391v4M698.5 392v3M699.5 389v5M700.5 393v4M701.5 391v5M702.5 396v5M703.5 393v7M704.5 397v3M705.5 397v3M706.5 394v9M707.5 394v4M708.5 394v3M709.5 395v4M710.5 393v5M711.5 396v3M712.5 400v3M713.5 400v10M714.5 405v4M715.5 402v3M716.5 399v3M717.5 398v7M718.5 399v8M719.5 399v4M720.5 401v3M721.5 400v4M722.5 400v5M723.5 402v7M724.5 402v11M725.5 404v3M726.5 397v9M727.5 396v3M728.5 394v6M729.5 397v3M730.5 395v7M731.5 398v3M732.5 401v3M733.5 404v3M734.5 409v4M735.5 409v9M736.5 410v8M737.5 406v8M738.5 411v3M739.5 407v4M740.5 407v8M741.5 409v3M742.5 409v4M743.5 411v4M744.5 412v3M745.5 408v5M746.5 412v3M747.5 412v6M748.5 413v5M749.5 411v9M750.5 415v3M751.5 414v3M752.5 415v4M753.5 416v3M754.5 413v9M755.5 420v4M756.5 415v3M757.5 412v8M758.5 412v4M759.5 412v6M760.5 416v4M761.5 416v3M762.5 418v3M763.5 414v4M764.5 419v3M765.5 420v4M766.5 418v4M767.5 423v5M768.5 420v9M769.5 422v10M770.5 421v3M771.5 422v3M772.5 421v5M773.5 421v4M774.5 421v8M775.5 423v4M776.5 418v4M777.5 415v8M778.5 415v8M779.5 421v3M780.5 419v9M781.5 423v9M782.5 423v11M783.5 425v5M784.5 422v8M785.5 425v4M786.5 424v4M787.5 419v10M788.5 420v5M789.5 419v3M790.5 419v8M791.5 419v11M792.5 423v4M793.5 417v4M794.5 417v3M795.5 415v3M796.5 415v5M797.5 416v4M798.5 410v6M799.5 409v3M800.5 409v5M801.5 410v2M802.5 404v3M803.5 397v5M804.5 394v3M805.5 390v2M806.5 387v3M807.5 385v4M808.5 383v3M809.5 383v3M810.5 382v3M811.5 383v3M812.5 386v3M813.5 383v2M814.5 384v3M815.5 383v2M816.5 382v2M817.5 382v2M818.5 383v3M819.5 383v3M820.5 382v2M821.5 382v2M822.5 381v2M823.5 382v2M824.5 382v3M825.5 379v3M826.5 381v2M827.5 379v3M828.5 379v5M829.5 377v3M830.5 375v3M831.5 376v2M832.5 375v2M833.5 376v4M834.5 377v2M835.5 376v3M836.5 377v2M837.5 378v2M838.5 377v3M839.5 376v4M840.5 376v2M841.5 375v2M842.5 376v2M843.5 376v1M844.5 376v2M845.5 376v1M846.5 376v1M847.5 376v2M848.5 375v2M849.5 376v1M850.5 375v2M851.5 375v2M852.5 374v2M853.5 375v2M854.5 375v2M855.5 375v1M856.5 375v2M857.5 374v2M858.5 376v2M859.5 377v2M860.5 376v2M861.5 376v2M862.5 377v2M863.5 376v2M864.5 379v2M865.5 378v2M866.5 379v2M867.5 377v2M868.5 379v1M869.5 380v2M870.5 378v2M871.5 380v1M872.5 381v2M873.5 381v2M874.5 381v2M875.5 380v3M876.5 382v2M877.5 379v7M878.5 380v7M879.5 385v3M880.5 382v7M881.5 385v4M882.5 388v2M883.5 383v5M884.5 361v3M884.5 378v14M885.5 361v5M885.5 375v17M886.5 391v4M887.5 383v14M888.5 396v3M889.5 387v12M890.5 362v14M890.5 381v11M890.5 393v3M891.5 364v10M891.5 378v11M892.5 369v15M893.5 366v4M893.5 374v19M894.5 369v16M895.5 365v2M895.5 372v15M896.5 371v9M896.5 388v4M897.5 376v12"/>
<path stroke="#bfdcec" d="M563.5 417v3M565.5 405v9M565.5 418v5M566.5 403v20M567.5 402v4M567.5 409v19M568.5 403v10M568.5 417v9M569.5 401v3M569.5 410v12M569.5 423v5M570.5 398v7M570.5 414v16M571.5 401v25M572.5 402v8M573.5 401v9M574.5 398v22M575.5 397v8M575.5 413v13M576.5 417v6M577.5 415v2M578.5 412v2M579.5 409v4M580.5 409v2M581.5 410v2M582.5 407v2M583.5 405v2M584.5 403v2M585.5 403v2M586.5 403v2M587.5 401v3M588.5 402v2M589.5 401v2M590.5 396v3M591.5 395v3M592.5 394v3M593.5 396v2M594.5 394v4M595.5 396v2M596.5 397v2M597.5 399v2M598.5 395v2M599.5 393v2M600.5 394v2M601.5 395v3M602.5 396v5M603.5 395v3M604.5 394v2M605.5 394v2M606.5 395v2M607.5 395v3M608.5 394v4M609.5 394v3M610.5 395v4M611.5 395v2M612.5 393v3M613.5 393v2M614.5 393v4M615.5 391v5M616.5 393v4M617.5 392v3M618.5 392v3M619.5 391v3M620.5 392v5M621.5 392v4M622.5 389v3M623.5 390v2M624.5 389v2M625.5 388v3M626.5 388v3M627.5 387v4M628.5 390v2M629.5 391v4M630.5 393v4M631.5 396v2M632.5 397v3M633.5 398v2M634.5 395v3M635.5 394v4M636.5 396v3M637.5 395v3M638.5 398v4M639.5 394v6M640.5 393v6M641.5 393v2M642.5 392v7M643.5 396v3M644.5 395v3M645.5 394v4M646.5 394v3M647.5 394v4M648.5 393v3M649.5 391v3M650.5 392v3M651.5 388v7M652.5 390v3M653.5 389v4M654.5 392v5M655.5 392v3M656.5 391v3M657.5 392v3M658.5 391v7M659.5 394v4M660.5 392v4M661.5 390v3M662.5 392v4M663.5 393v3M664.5 393v3M665.5 394v5M666.5 396v3M667.5 394v3M668.5 396v2M669.5 394v3M670.5 394v3M671.5 397v3M672.5 397v4M673.5 394v5M674.5 395v3M675.5 394v5M676.5 393v7M677.5 395v2M678.5 393v8M679.5 397v4M680.5 399v4M681.5 400v3M682.5 396v5M683.5 394v5M684.5 394v2M685.5 395v3M686.5 396v3M687.5 396v5M688.5 394v8M689.5 396v3M690.5 396v3M691.5 398v3M692.5 398v4M693.5 397v3M694.5 389v7M695.5 389v3M696.5 386v4M697.5 388v3M698.5 389v3M699.5 386v3M700.5 385v8M701.5 389v2M702.5 389v7M703.5 390v3M704.5 393v4M705.5 394v3M706.5 391v3M707.5 392v2M708.5 390v4M709.5 389v6M710.5 390v3M711.5 393v3M712.5 396v4M713.5 397v3M714.5 397v8M715.5 398v4M716.5 396v3M717.5 393v5M718.5 395v4M719.5 396v3M720.5 397v4M721.5 394v6M722.5 397v3M723.5 395v7M724.5 399v3M725.5 398v6M726.5 394v3M727.5 392v4M728.5 391v3M729.5 392v5M730.5 391v4M731.5 394v4M732.5 394v7M733.5 401v3M734.5 402v7M735.5 406v3M736.5 405v5M737.5 402v4M738.5 404v7M739.5 404v3M740.5 404v3M741.5 401v8M742.5 406v3M743.5 403v8M744.5 406v6M745.5 405v3M746.5 408v4M747.5 409v3M748.5 410v3M749.5 407v4M750.5 411v4M751.5 410v4M752.5 408v7M753.5 412v4M754.5 409v4M755.5 412v8M756.5 411v4M757.5 409v3M758.5 409v3M759.5 409v3M760.5 413v3M761.5 412v4M762.5 414v4M763.5 411v3M764.5 413v6M765.5 411v9M766.5 415v3M767.5 414v9M768.5 415v5M769.5 418v4M770.5 416v5M771.5 414v8M772.5 413v8M773.5 418v3M774.5 416v5M775.5 414v9M776.5 413v5M777.5 411v4M778.5 411v4M779.5 414v7M780.5 415v4M781.5 420v3M782.5 420v3M783.5 422v3M784.5 419v3M785.5 416v9M786.5 415v9M787.5 415v4M788.5 412v8M789.5 414v5M790.5 414v5M791.5 416v3M792.5 418v5M793.5 414v3M794.5 413v4M795.5 412v3M796.5 412v3M797.5 408v8M798.5 407v3M799.5 405v4M800.5 403v6M801.5 406v4M802.5 401v3M803.5 394v3M804.5 390v4M805.5 386v4M806.5 383v4M807.5 381v4M808.5 381v2M809.5 381v2M810.5 380v2M811.5 380v3M812.5 382v4M813.5 381v2M814.5 380v4M815.5 380v3M816.5 380v2M817.5 379v3M818.5 379v4M819.5 379v4M820.5 379v3M821.5 379v3M822.5 379v2M823.5 379v3M824.5 379v3M825.5 377v2M826.5 379v2M827.5 377v2M828.5 377v2M829.5 374v3M830.5 373v2M831.5 373v3M832.5 373v2M833.5 373v3M834.5 375v2M835.5 374v2M836.5 375v2M837.5 376v2M838.5 374v3M839.5 373v3M840.5 373v3M841.5 373v2M842.5 374v2M843.5 374v2M844.5 375v1M845.5 374v2M846.5 374v2M847.5 374v2M848.5 374v1M849.5 374v2M850.5 373v2M851.5 373v2M852.5 373v1M853.5 373v2M854.5 373v2M855.5 373v2M856.5 373v2M857.5 373v1M858.5 374v2M859.5 376v1M860.5 375v1M861.5 375v1M862.5 375v2M863.5 373v3M864.5 377v2M865.5 377v1M866.5 377v2M867.5 372v5M868.5 377v2M869.5 374v6M870.5 373v5M871.5 346v5M871.5 367v13M872.5 371v10M873.5 377v4M874.5 378v3M875.5 349v2M875.5 362v6M875.5 376v4M876.5 351v5M876.5 365v17M877.5 353v1M877.5 357v11M877.5 374v5M878.5 355v13M878.5 375v5M879.5 368v4M879.5 381v4M880.5 358v13M880.5 377v5M881.5 355v2M881.5 365v6M881.5 380v5M882.5 358v4M882.5 370v18M883.5 360v23M884.5 364v14M885.5 366v9M886.5 363v7M886.5 372v19M887.5 363v20M888.5 362v13M888.5 381v15M889.5 364v23M890.5 376v5M893.5 370v4"/>
<path stroke="#c8e1ef" d="M565.5 414v4M567.5 406v3M569.5 404v6M569.5 422v1M570.5 405v9M575.5 405v8M576.5 395v22M577.5 379v6M577.5 398v6M577.5 410v5M578.5 364v5M578.5 382v4M578.5 398v14M579.5 369v4M579.5 388v4M579.5 402v7M580.5 359v4M580.5 393v5M580.5 404v5M581.5 407v3M582.5 405v2M583.5 403v2M584.5 401v2M585.5 401v2M586.5 400v3M587.5 398v3M588.5 398v4M589.5 399v2M590.5 394v2M591.5 393v2M592.5 392v2M593.5 394v2M594.5 392v2M595.5 394v2M596.5 395v2M597.5 396v3M598.5 393v2M599.5 391v2M600.5 392v2M601.5 393v2M602.5 393v3M603.5 393v2M604.5 392v2M605.5 392v2M606.5 392v3M607.5 392v3M608.5 392v2M609.5 392v2M610.5 391v4M611.5 391v4M612.5 391v2M613.5 391v2M614.5 390v3M615.5 389v2M616.5 390v3M617.5 390v2M618.5 390v2M619.5 389v2M620.5 388v4M621.5 388v4M622.5 387v2M623.5 387v3M624.5 387v2M625.5 386v2M626.5 386v2M627.5 386v1M628.5 388v2M629.5 387v4M630.5 388v5M631.5 393v3M632.5 393v4M633.5 394v4M634.5 392v3M635.5 392v2M636.5 391v5M637.5 393v2M638.5 392v6M639.5 391v3M640.5 390v3M641.5 390v3M642.5 390v2M643.5 392v4M644.5 390v5M645.5 391v3M646.5 390v4M647.5 388v6M648.5 390v3M649.5 388v3M650.5 389v3M651.5 386v2M652.5 387v3M653.5 387v2M654.5 387v5M655.5 389v3M656.5 386v5M657.5 389v3M658.5 387v4M659.5 387v7M660.5 386v6M661.5 387v3M662.5 387v5M663.5 387v6M664.5 390v3M665.5 388v6M666.5 391v5M667.5 391v3M668.5 391v5M669.5 391v3M670.5 391v3M671.5 390v7M672.5 390v7M673.5 391v3M674.5 392v3M675.5 389v5M676.5 389v4M677.5 390v5M678.5 390v3M679.5 391v6M680.5 391v8M681.5 392v8M682.5 393v3M683.5 391v3M684.5 390v4M685.5 389v6M686.5 391v5M687.5 393v3M688.5 390v4M689.5 392v4M690.5 390v6M691.5 395v3M692.5 391v7M693.5 391v6M694.5 386v3M695.5 386v3M696.5 384v2M697.5 385v3M698.5 384v5M699.5 384v2M700.5 383v2M701.5 385v4M702.5 386v3M703.5 387v3M704.5 386v7M705.5 389v5M706.5 388v3M707.5 388v4M708.5 385v5M709.5 385v4M710.5 388v2M711.5 388v5M712.5 390v6M713.5 394v3M714.5 392v5M715.5 391v7M716.5 390v6M717.5 390v3M718.5 392v3M719.5 392v4M720.5 390v7M721.5 389v5M722.5 393v4M723.5 392v3M724.5 396v3M725.5 391v7M726.5 391v3M727.5 388v4M728.5 389v2M729.5 388v4M730.5 389v2M731.5 391v3M732.5 391v3M733.5 394v7M734.5 397v5M735.5 402v4M736.5 402v3M737.5 400v2M738.5 399v5M739.5 401v3M740.5 401v3M741.5 398v3M742.5 402v4M743.5 400v3M744.5 401v5M745.5 402v3M746.5 402v6M747.5 406v3M748.5 406v4M749.5 404v3M750.5 403v8M751.5 406v4M752.5 404v4M753.5 404v8M754.5 406v3M755.5 407v5M756.5 404v7M757.5 406v3M758.5 404v5M759.5 406v3M760.5 407v6M761.5 406v6M762.5 406v8M763.5 407v4M764.5 407v6M765.5 408v3M766.5 408v7M767.5 411v3M768.5 412v3M769.5 415v3M770.5 409v7M771.5 410v4M772.5 410v3M773.5 413v5M774.5 413v3M775.5 411v3M776.5 409v4M777.5 409v2M778.5 408v3M779.5 409v5M780.5 412v3M781.5 416v4M782.5 416v4M783.5 413v9M784.5 415v4M785.5 412v4M786.5 411v4M787.5 412v3M788.5 409v3M789.5 407v7M790.5 410v4M791.5 412v4M792.5 410v8M793.5 410v4M794.5 406v7M795.5 405v7M796.5 409v3M797.5 405v3M798.5 404v3M799.5 401v4M800.5 401v2M801.5 399v7M802.5 396v5M803.5 392v2M804.5 386v4M805.5 382v4M806.5 379v4M807.5 378v3M808.5 379v2M809.5 377v4M810.5 378v2M811.5 378v2M812.5 378v4M813.5 378v3M814.5 376v4M815.5 376v4M816.5 378v2M817.5 377v2M818.5 376v3M819.5 375v4M820.5 375v4M821.5 377v2M822.5 377v2M823.5 377v2M824.5 375v4M825.5 375v2M826.5 376v3M827.5 375v2M828.5 375v2M829.5 373v1M830.5 372v1M831.5 371v2M832.5 371v2M833.5 371v2M834.5 373v2M835.5 373v1M836.5 373v2M837.5 373v3M838.5 371v3M839.5 370v3M840.5 370v3M841.5 370v3M842.5 372v2M843.5 372v2M844.5 373v2M845.5 373v1M846.5 373v1M847.5 373v1M848.5 372v2M849.5 373v1M850.5 339v1M850.5 371v2M851.5 366v7M852.5 341v1M852.5 357v1M852.5 369v4M853.5 366v7M854.5 370v3M855.5 372v1M856.5 366v7M857.5 340v3M857.5 370v3M858.5 366v8M859.5 374v2M860.5 372v3M861.5 371v4M862.5 353v2M862.5 368v7M863.5 343v2M863.5 352v8M863.5 368v5M864.5 376v1M865.5 344v1M865.5 373v4M866.5 370v7M867.5 344v28M868.5 346v5M868.5 359v18M869.5 352v8M869.5 369v5M870.5 346v27M871.5 341v5M871.5 351v16M872.5 346v25M873.5 346v5M873.5 357v12M873.5 372v5M874.5 349v29M875.5 351v11M875.5 368v8M876.5 356v9M877.5 354v3M877.5 368v6M878.5 368v7M879.5 358v10M879.5 372v9M880.5 371v6M881.5 357v8M881.5 371v9M882.5 362v8M886.5 370v2M888.5 375v6"/>
<path stroke="#d0e6f1" d="M577.5 378v1M577.5 385v13M577.5 404v6M578.5 369v13M578.5 386v12M579.5 365v4M579.5 373v15M579.5 392v10M580.5 363v30M580.5 398v6M581.5 360v8M581.5 378v7M581.5 395v12M582.5 354v8M582.5 371v8M582.5 389v16M583.5 356v5M583.5 366v12M583.5 384v19M584.5 355v5M584.5 365v12M584.5 383v18M585.5 353v3M585.5 387v6M585.5 398v3M586.5 391v9M587.5 397v1M588.5 396v2M589.5 396v3M590.5 392v2M591.5 350v5M591.5 386v7M592.5 388v4M593.5 392v2M594.5 391v1M595.5 392v2M596.5 393v2M597.5 393v3M598.5 391v2M599.5 390v1M600.5 391v1M601.5 391v2M602.5 391v2M603.5 391v2M604.5 390v2M605.5 390v2M606.5 390v2M607.5 391v1M608.5 390v2M609.5 390v2M610.5 389v2M611.5 389v2M612.5 390v1M613.5 389v2M614.5 389v1M615.5 388v1M616.5 389v1M617.5 388v2M618.5 388v2M619.5 387v2M620.5 387v1M621.5 386v2M622.5 386v1M623.5 385v2M624.5 385v2M625.5 385v1M626.5 384v2M627.5 384v2M628.5 386v2M629.5 385v2M630.5 386v2M631.5 388v5M632.5 389v4M633.5 389v5M634.5 390v2M635.5 390v2M636.5 388v3M637.5 390v3M638.5 390v2M639.5 389v2M640.5 388v2M641.5 388v2M642.5 388v2M643.5 388v4M644.5 387v3M645.5 389v2M646.5 387v3M647.5 386v2M648.5 387v3M649.5 386v2M650.5 386v3M651.5 384v2M652.5 384v3M653.5 385v2M654.5 385v2M655.5 386v3M656.5 383v3M657.5 386v3M658.5 385v2M659.5 385v2M660.5 384v2M661.5 385v2M662.5 384v3M663.5 384v3M664.5 387v3M665.5 386v2M666.5 386v5M667.5 387v4M668.5 387v4M669.5 388v3M670.5 388v3M671.5 388v2M672.5 388v2M673.5 389v2M674.5 388v4M675.5 387v2M676.5 387v2M677.5 387v3M678.5 388v2M679.5 388v3M680.5 389v2M681.5 389v3M682.5 390v3M683.5 389v2M684.5 387v3M685.5 386v3M686.5 387v4M687.5 390v3M688.5 388v2M689.5 387v5M690.5 386v4M691.5 390v5M692.5 388v3M693.5 386v5M694.5 384v2M695.5 384v2M696.5 383v1M697.5 383v2M698.5 381v3M699.5 382v2M700.5 381v2M701.5 383v2M702.5 384v2M703.5 384v3M704.5 383v3M705.5 384v5M706.5 385v3M707.5 385v3M708.5 382v3M709.5 383v2M710.5 385v3M711.5 385v3M712.5 386v4M713.5 389v5M714.5 390v2M715.5 388v3M716.5 387v3M717.5 388v2M718.5 389v3M719.5 388v4M720.5 387v3M721.5 387v2M722.5 388v5M723.5 389v3M724.5 389v7M725.5 389v2M726.5 388v3M727.5 384v4M728.5 386v3M729.5 385v3M730.5 387v2M731.5 387v4M732.5 389v2M733.5 391v3M734.5 395v2M735.5 397v5M736.5 399v3M737.5 398v2M738.5 397v2M739.5 397v4M740.5 399v2M741.5 396v2M742.5 398v4M743.5 398v2M744.5 398v3M745.5 399v3M746.5 399v3M747.5 401v5M748.5 401v5M749.5 402v2M750.5 401v2M751.5 401v5M752.5 401v3M753.5 402v2M754.5 403v3M755.5 404v3M756.5 402v2M757.5 403v3M758.5 400v4M759.5 403v3M760.5 403v4M761.5 402v4M762.5 403v3M763.5 403v4M764.5 405v2M765.5 406v2M766.5 405v3M767.5 408v3M768.5 408v4M769.5 410v5M770.5 407v2M771.5 408v2M772.5 408v2M773.5 408v5M774.5 410v3M775.5 409v2M776.5 406v3M777.5 407v2M778.5 406v2M779.5 407v2M780.5 409v3M781.5 409v7M782.5 411v5M783.5 410v3M784.5 408v7M785.5 409v3M786.5 409v2M787.5 408v4M788.5 407v2M789.5 404v3M790.5 407v3M791.5 407v5M792.5 407v3M793.5 404v6M794.5 403v3M795.5 402v3M796.5 404v5M797.5 403v2M798.5 402v2M799.5 398v3M800.5 399v2M801.5 397v2M802.5 392v4M803.5 389v3M804.5 384v2M805.5 380v2M806.5 377v2M807.5 377v1M808.5 377v2M809.5 375v2M810.5 376v2M811.5 377v1M812.5 376v2M813.5 375v3M814.5 375v1M815.5 374v2M816.5 375v3M817.5 375v2M818.5 374v2M819.5 374v1M820.5 373v2M821.5 374v3M822.5 374v3M823.5 374v3M824.5 373v2M825.5 373v2M826.5 373v3M827.5 373v2M828.5 373v2M829.5 371v2M830.5 326v1M830.5 337v4M830.5 355v5M830.5 368v4M831.5 327v8M831.5 342v11M831.5 360v11M832.5 327v2M832.5 338v7M832.5 355v16M833.5 369v2M834.5 371v2M835.5 371v2M836.5 371v2M837.5 370v3M838.5 368v3M839.5 368v2M840.5 327v6M840.5 349v1M840.5 363v7M841.5 329v6M841.5 345v7M841.5 362v8M842.5 330v2M842.5 361v11M843.5 331v4M843.5 338v9M843.5 357v15M844.5 336v9M844.5 358v6M844.5 370v3M845.5 336v11M845.5 354v19M846.5 338v35M847.5 335v18M847.5 357v16M848.5 337v35M849.5 339v7M849.5 357v16M850.5 340v6M850.5 351v20M851.5 337v29M852.5 342v15M852.5 358v11M853.5 339v27M854.5 341v2M854.5 350v9M854.5 366v4M855.5 341v5M855.5 354v10M855.5 367v5M856.5 341v25M857.5 343v27M858.5 344v22M859.5 343v10M859.5 362v12M860.5 344v2M860.5 352v12M860.5 367v5M861.5 345v26M862.5 342v11M862.5 355v13M863.5 345v7M863.5 360v8M864.5 343v14M864.5 364v12M865.5 345v6M865.5 353v20M866.5 344v26M868.5 351v8M869.5 346v6M869.5 360v9M873.5 351v6M873.5 369v3"/>
<path stroke="#d8ebf4" d="M581.5 368v10M581.5 385v10M582.5 362v9M582.5 379v10M583.5 361v5M583.5 378v6M584.5 360v5M584.5 377v6M585.5 356v31M585.5 393v5M586.5 351v40M587.5 348v5M587.5 360v8M587.5 378v9M587.5 392v5M588.5 357v4M588.5 376v4M588.5 390v6M589.5 351v1M589.5 387v9M590.5 346v20M590.5 371v21M591.5 345v5M591.5 355v31M592.5 344v44M593.5 343v7M593.5 360v7M593.5 378v14M594.5 351v9M594.5 369v10M594.5 385v6M595.5 391v1M596.5 391v2M597.5 391v2M598.5 390v1M599.5 339v6M599.5 376v3M599.5 389v1M600.5 389v2M601.5 390v1M602.5 390v1M603.5 390v1M604.5 389v1M605.5 388v2M606.5 388v2M607.5 389v2M608.5 389v1M609.5 389v1M610.5 388v1M611.5 387v2M612.5 388v2M613.5 387v2M614.5 387v2M615.5 386v2M616.5 387v2M617.5 386v2M618.5 386v2M619.5 386v1M620.5 385v2M621.5 384v2M622.5 384v2M623.5 383v2M624.5 383v2M625.5 383v2M626.5 383v1M627.5 382v2M628.5 384v2M629.5 383v2M630.5 385v1M631.5 386v2M632.5 386v3M633.5 387v2M634.5 387v3M635.5 388v2M636.5 386v2M637.5 388v2M638.5 388v2M639.5 387v2M640.5 386v2M641.5 385v3M642.5 386v2M643.5 385v3M644.5 385v2M645.5 387v2M646.5 384v3M647.5 384v2M648.5 383v4M649.5 384v2M650.5 383v3M651.5 382v2M652.5 381v3M653.5 383v2M654.5 383v2M655.5 383v3M656.5 381v2M657.5 383v3M658.5 383v2M659.5 383v2M660.5 382v2M661.5 383v2M662.5 382v2M663.5 382v2M664.5 385v2M665.5 384v2M666.5 384v2M667.5 384v3M668.5 384v3M669.5 385v3M670.5 385v3M671.5 386v2M672.5 386v2M673.5 387v2M674.5 385v3M675.5 385v2M676.5 385v2M677.5 384v3M678.5 386v2M679.5 385v3M680.5 387v2M681.5 387v2M682.5 388v2M683.5 386v3M684.5 383v4M685.5 384v2M686.5 384v3M687.5 387v3M688.5 386v2M689.5 384v3M690.5 384v2M691.5 386v4M692.5 386v2M693.5 384v2M694.5 382v2M695.5 381v3M696.5 380v3M697.5 379v4M698.5 378v3M699.5 378v4M700.5 379v2M701.5 379v4M702.5 382v2M703.5 381v3M704.5 381v2M705.5 382v2M706.5 383v2M707.5 381v4M708.5 380v2M709.5 381v2M710.5 382v3M711.5 382v3M712.5 384v2M713.5 385v4M714.5 387v3M715.5 386v2M716.5 384v3M717.5 386v2M718.5 386v3M719.5 384v4M720.5 385v2M721.5 385v2M722.5 385v3M723.5 387v2M724.5 386v3M725.5 387v2M726.5 384v4M727.5 382v2M728.5 383v3M729.5 383v2M730.5 385v2M731.5 384v3M732.5 387v2M733.5 389v2M734.5 393v2M735.5 393v4M736.5 396v3M737.5 395v3M738.5 395v2M739.5 394v3M740.5 396v3M741.5 394v2M742.5 395v3M743.5 396v2M744.5 396v2M745.5 395v4M746.5 396v3M747.5 397v4M748.5 398v3M749.5 398v4M750.5 399v2M751.5 398v3M752.5 399v2M753.5 399v3M754.5 400v3M755.5 402v2M756.5 399v3M757.5 399v4M758.5 398v2M759.5 399v4M760.5 400v3M761.5 400v2M762.5 401v2M763.5 399v4M764.5 402v3M765.5 403v3M766.5 402v3M767.5 405v3M768.5 405v3M769.5 406v4M770.5 405v2M771.5 405v3M772.5 406v2M773.5 405v3M774.5 407v3M775.5 407v2M776.5 404v2M777.5 404v3M778.5 404v2M779.5 405v2M780.5 406v3M781.5 407v2M782.5 407v4M783.5 408v2M784.5 405v3M785.5 407v2M786.5 406v3M787.5 404v4M788.5 404v3M789.5 402v2M790.5 404v3M791.5 403v4M792.5 405v2M793.5 401v3M794.5 401v2M795.5 400v2M796.5 400v4M797.5 401v2M798.5 398v4M799.5 395v3M800.5 397v2M801.5 395v2M802.5 390v2M803.5 387v2M804.5 382v2M805.5 378v2M806.5 376v1M807.5 375v2M808.5 375v2M809.5 373v2M810.5 375v1M811.5 375v2M812.5 374v2M813.5 373v2M814.5 373v2M815.5 373v1M816.5 374v1M817.5 374v1M818.5 373v1M819.5 372v2M820.5 372v1M821.5 372v2M822.5 373v1M823.5 372v2M824.5 372v1M825.5 372v1M826.5 372v1M827.5 372v1M828.5 372v1M829.5 327v2M829.5 335v10M829.5 353v18M830.5 327v10M830.5 341v14M830.5 360v8M831.5 335v7M831.5 353v7M832.5 329v9M832.5 345v10M833.5 323v22M833.5 348v21M834.5 326v8M834.5 340v11M834.5 357v14M835.5 327v3M835.5 337v10M835.5 355v16M836.5 325v8M836.5 342v8M836.5 359v12M837.5 325v8M837.5 346v5M837.5 362v8M838.5 327v11M838.5 347v9M838.5 363v5M839.5 326v17M839.5 346v22M840.5 333v16M840.5 350v13M841.5 335v10M841.5 352v10M842.5 332v29M843.5 335v3M843.5 347v10M844.5 335v1M844.5 345v13M844.5 364v6M845.5 347v7M847.5 353v4M849.5 346v11M850.5 346v5M854.5 343v7M854.5 359v7M855.5 346v8M855.5 364v3M859.5 353v9M860.5 346v6M860.5 364v3M864.5 357v7M865.5 351v2"/>
<path stroke="#e1eff6" d="M587.5 353v7M587.5 368v10M587.5 387v5M588.5 349v8M588.5 361v15M588.5 380v10M589.5 344v7M589.5 352v35M590.5 366v5M593.5 350v10M593.5 367v11M594.5 346v5M594.5 360v9M594.5 379v6M595.5 344v6M595.5 356v11M595.5 374v17M596.5 345v2M596.5 379v3M596.5 390v1M597.5 387v4M598.5 342v8M598.5 356v11M598.5 374v16M599.5 345v31M599.5 379v10M600.5 337v13M600.5 356v12M600.5 374v15M601.5 389v1M602.5 388v2M603.5 389v1M604.5 339v6M604.5 378v5M604.5 387v2M605.5 380v8M606.5 386v2M607.5 388v1M608.5 387v2M609.5 387v2M610.5 386v2M611.5 385v2M612.5 386v2M613.5 384v3M614.5 386v1M615.5 385v1M616.5 386v1M617.5 383v3M618.5 384v2M619.5 384v2M620.5 384v1M621.5 382v2M622.5 382v2M623.5 380v3M624.5 381v2M625.5 381v2M626.5 381v2M627.5 381v1M628.5 323v3M628.5 381v3M629.5 381v2M630.5 383v2M631.5 384v2M632.5 384v2M633.5 385v2M634.5 385v2M635.5 385v3M636.5 384v2M637.5 385v3M638.5 386v2M639.5 385v2M640.5 384v2M641.5 381v4M642.5 384v2M643.5 383v2M644.5 383v2M645.5 384v3M646.5 382v2M647.5 382v2M648.5 381v2M649.5 381v3M650.5 380v3M651.5 313v2M651.5 380v2M652.5 378v3M653.5 380v3M654.5 381v2M655.5 380v3M656.5 379v2M657.5 380v3M658.5 382v1M659.5 381v2M660.5 380v2M661.5 380v3M662.5 380v2M663.5 381v1M664.5 381v4M665.5 382v2M666.5 382v2M667.5 381v3M668.5 382v2M669.5 381v4M670.5 382v3M671.5 384v2M672.5 384v2M673.5 384v3M674.5 382v3M675.5 383v2M676.5 383v2M677.5 381v3M678.5 384v2M679.5 383v2M680.5 385v2M681.5 385v2M682.5 384v4M683.5 383v3M684.5 380v3M685.5 382v2M686.5 382v2M687.5 383v4M688.5 384v2M689.5 382v2M690.5 381v3M691.5 383v3M692.5 384v2M693.5 382v2M694.5 380v2M695.5 377v4M696.5 377v3M697.5 305v1M697.5 375v4M698.5 304v1M698.5 376v2M699.5 303v2M699.5 374v4M700.5 377v2M701.5 376v3M702.5 379v3M703.5 378v3M704.5 380v1M705.5 380v2M706.5 379v4M707.5 378v3M708.5 308v1M708.5 378v2M709.5 379v2M710.5 307v1M710.5 378v4M711.5 380v2M712.5 382v2M713.5 383v2M714.5 385v2M715.5 384v2M716.5 382v2M717.5 382v4M718.5 382v4M719.5 382v2M720.5 383v2M721.5 383v2M722.5 382v3M723.5 384v3M724.5 384v2M725.5 385v2M726.5 381v3M727.5 379v3M728.5 306v2M728.5 379v4M729.5 380v3M730.5 381v4M731.5 309v2M731.5 381v3M732.5 385v2M733.5 387v2M734.5 391v2M735.5 391v2M736.5 392v4M737.5 391v4M738.5 393v2M739.5 391v3M740.5 391v5M741.5 313v2M741.5 392v2M742.5 392v3M743.5 394v2M744.5 394v2M745.5 391v4M746.5 394v2M747.5 395v2M748.5 395v3M749.5 394v4M750.5 397v2M751.5 396v2M752.5 397v2M753.5 397v2M754.5 396v4M755.5 400v2M756.5 397v2M757.5 395v4M758.5 311v3M758.5 395v3M759.5 395v4M760.5 398v2M761.5 398v2M762.5 399v2M763.5 397v2M764.5 400v2M765.5 400v3M766.5 400v2M767.5 401v4M768.5 401v4M769.5 402v4M770.5 402v3M771.5 403v2M772.5 403v3M773.5 403v2M774.5 403v4M775.5 404v3M776.5 317v6M776.5 401v3M777.5 320v4M777.5 399v5M778.5 320v3M778.5 400v4M779.5 403v2M780.5 402v4M781.5 404v3M782.5 404v3M783.5 405v3M784.5 403v2M785.5 404v3M786.5 403v3M787.5 401v3M788.5 401v3M789.5 400v2M790.5 400v4M791.5 400v3M792.5 403v2M793.5 399v2M794.5 399v2M795.5 398v2M796.5 398v2M797.5 398v3M798.5 321v1M798.5 394v4M799.5 320v4M799.5 393v2M800.5 318v2M800.5 395v2M801.5 393v2M802.5 388v2M803.5 384v3M804.5 380v2M805.5 376v2M806.5 374v2M807.5 374v1M808.5 373v2M809.5 371v2M810.5 373v2M811.5 373v2M812.5 373v1M813.5 372v1M814.5 372v1M815.5 371v2M816.5 372v2M817.5 372v2M818.5 371v2M819.5 371v1M820.5 369v3M821.5 367v5M822.5 326v3M822.5 365v3M822.5 371v2M823.5 366v6M824.5 369v3M825.5 327v5M825.5 339v10M825.5 357v15M826.5 325v10M826.5 345v8M826.5 362v10M827.5 328v5M827.5 338v12M827.5 356v16M828.5 327v4M828.5 338v10M828.5 355v17M829.5 329v6M829.5 345v8M833.5 345v3M834.5 334v6M834.5 351v6M835.5 330v7M835.5 347v8M836.5 333v9M836.5 350v9M837.5 333v13M837.5 351v11M838.5 338v9M838.5 356v7M839.5 343v3"/>
<path stroke="#e7f1f1" d="M595.5 350v6M595.5 367v7M596.5 347v32M596.5 382v8M597.5 342v16M597.5 364v13M597.5 380v7M598.5 350v6M598.5 367v7M600.5 350v6M600.5 368v6M601.5 340v9M601.5 354v13M601.5 372v17M602.5 336v8M602.5 354v7M602.5 372v8M602.5 386v2M603.5 340v7M603.5 357v7M603.5 374v15M604.5 338v1M604.5 345v33M604.5 383v4M605.5 335v45M606.5 339v13M606.5 359v11M606.5 377v9M607.5 339v4M607.5 377v3M607.5 386v2M608.5 338v2M608.5 386v1M609.5 385v2M610.5 384v2M611.5 335v2M611.5 350v1M611.5 368v1M611.5 382v3M612.5 378v8M613.5 341v7M613.5 360v6M613.5 377v7M614.5 384v2M615.5 383v2M616.5 384v2M617.5 379v4M618.5 381v3M619.5 381v3M620.5 382v2M621.5 328v2M621.5 380v2M622.5 327v2M622.5 380v2M623.5 328v2M623.5 377v3M624.5 326v2M624.5 378v3M625.5 324v4M625.5 378v3M626.5 326v2M626.5 379v2M627.5 326v2M627.5 332v2M627.5 369v2M627.5 378v3M628.5 326v1M628.5 378v3M629.5 323v4M629.5 379v2M630.5 381v2M631.5 382v2M632.5 383v1M633.5 383v2M634.5 381v4M635.5 321v2M635.5 382v3M636.5 319v2M636.5 382v2M637.5 381v4M638.5 320v1M638.5 384v2M639.5 321v1M639.5 383v2M640.5 320v2M640.5 382v2M641.5 379v2M642.5 319v2M642.5 382v2M643.5 381v2M644.5 381v2M645.5 381v3M646.5 379v3M647.5 380v2M648.5 378v3M649.5 315v1M649.5 377v4M650.5 377v3M651.5 315v2M651.5 378v2M652.5 314v1M652.5 376v2M653.5 376v4M654.5 314v1M654.5 379v2M655.5 377v3M656.5 314v1M656.5 377v2M657.5 377v3M658.5 312v2M658.5 379v3M659.5 312v2M659.5 379v2M660.5 313v2M660.5 378v2M661.5 311v2M661.5 376v4M662.5 313v1M662.5 378v2M663.5 310v4M663.5 378v3M664.5 378v3M665.5 380v2M666.5 380v2M667.5 311v2M667.5 379v2M668.5 312v1M668.5 380v2M669.5 310v3M669.5 378v3M670.5 312v1M670.5 379v3M671.5 382v2M672.5 382v2M673.5 310v1M673.5 380v4M674.5 307v6M674.5 380v2M675.5 311v1M675.5 380v3M676.5 310v1M676.5 380v3M677.5 310v2M677.5 379v2M678.5 380v4M679.5 381v2M680.5 383v2M681.5 383v2M682.5 381v3M683.5 307v2M683.5 379v4M684.5 308v2M684.5 378v2M685.5 306v3M685.5 379v3M686.5 380v2M687.5 380v3M688.5 380v4M689.5 379v3M690.5 379v2M691.5 381v2M692.5 381v3M693.5 380v2M694.5 376v4M695.5 306v1M695.5 373v4M696.5 305v2M696.5 372v5M697.5 306v1M697.5 373v2M698.5 303v1M698.5 305v3M698.5 373v3M699.5 305v2M699.5 371v3M700.5 305v1M700.5 373v4M701.5 306v1M701.5 373v3M702.5 375v4M703.5 375v3M704.5 378v2M705.5 378v2M706.5 307v1M706.5 376v3M707.5 376v2M708.5 309v2M708.5 376v2M709.5 309v1M709.5 376v3M710.5 308v2M710.5 375v3M711.5 307v2M711.5 377v3M712.5 380v2M713.5 381v2M714.5 382v3M715.5 382v2M716.5 380v2M717.5 302v6M717.5 378v4M718.5 303v5M718.5 379v3M719.5 305v2M719.5 379v3M720.5 303v1M720.5 381v2M721.5 305v1M721.5 380v3M722.5 380v2M723.5 380v4M724.5 382v2M725.5 382v3M726.5 378v3M727.5 307v2M727.5 377v2M728.5 308v2M728.5 375v4M729.5 308v3M729.5 378v2M730.5 310v1M730.5 376v5M731.5 311v2M731.5 379v2M732.5 312v1M732.5 382v3M733.5 385v2M734.5 387v4M735.5 389v2M736.5 389v3M737.5 316v1M737.5 387v4M738.5 314v2M738.5 390v3M739.5 315v2M739.5 388v3M740.5 312v5M740.5 388v3M741.5 315v2M741.5 388v4M742.5 315v1M742.5 390v2M743.5 316v1M743.5 390v4M744.5 314v2M744.5 391v3M745.5 316v2M745.5 388v3M746.5 392v2M747.5 392v3M748.5 393v2M749.5 313v3M749.5 391v3M750.5 313v4M750.5 394v3M751.5 314v1M751.5 393v3M752.5 316v1M752.5 393v4M753.5 314v3M753.5 395v2M754.5 392v4M755.5 396v4M756.5 313v4M756.5 395v2M757.5 312v5M757.5 392v3M758.5 314v4M758.5 392v3M759.5 314v4M759.5 392v3M760.5 313v4M760.5 396v2M761.5 315v3M761.5 395v3M762.5 314v4M762.5 396v3M763.5 315v3M763.5 394v3M764.5 316v2M764.5 397v3M765.5 315v2M765.5 395v5M766.5 315v2M766.5 398v2M767.5 397v4M768.5 398v3M769.5 400v2M770.5 317v3M770.5 399v3M771.5 317v3M771.5 399v4M772.5 319v3M772.5 397v6M773.5 319v2M773.5 401v2M774.5 399v4M775.5 320v4M775.5 398v6M776.5 323v2M776.5 398v3M777.5 324v2M777.5 395v4M778.5 323v3M778.5 394v6M779.5 318v5M779.5 399v4M780.5 398v4M781.5 402v2M782.5 402v2M783.5 403v2M784.5 401v2M785.5 399v5M786.5 398v5M787.5 398v3M788.5 319v1M788.5 396v5M789.5 318v2M789.5 398v2M790.5 397v3M791.5 398v2M792.5 400v3M793.5 397v2M794.5 397v2M795.5 395v3M796.5 396v2M797.5 320v2M797.5 394v4M798.5 322v2M798.5 391v3M799.5 324v4M799.5 343v1M799.5 361v1M799.5 378v4M799.5 390v3M800.5 320v5M800.5 390v5M801.5 320v4M801.5 391v2M802.5 386v2M803.5 323v1M803.5 381v3M804.5 322v2M804.5 378v2M805.5 324v1M805.5 375v1M806.5 324v1M806.5 373v1M807.5 324v1M807.5 372v2M808.5 324v1M808.5 369v4M809.5 324v1M809.5 335v4M809.5 353v4M809.5 368v3M810.5 323v2M810.5 366v7M811.5 324v1M811.5 371v2M812.5 372v1M813.5 368v4M814.5 324v2M814.5 371v1M815.5 323v3M815.5 331v9M815.5 350v9M815.5 366v5M816.5 325v9M816.5 347v5M816.5 363v9M817.5 323v11M817.5 344v7M817.5 361v11M818.5 325v3M818.5 333v11M818.5 351v11M818.5 366v5M819.5 323v6M819.5 330v14M819.5 350v21M820.5 327v42M821.5 325v42M822.5 329v36M822.5 368v3M823.5 324v42M824.5 326v43M825.5 332v7M825.5 349v8M826.5 335v10M826.5 353v9M827.5 333v5M827.5 350v6M828.5 331v7M828.5 348v7"/>
<path stroke="#eef3ed" d="M597.5 358v6M597.5 377v3M601.5 349v5M601.5 367v5M602.5 344v10M602.5 361v11M602.5 380v6M603.5 347v10M603.5 364v10M606.5 352v7M606.5 370v7M607.5 338v1M607.5 343v34M607.5 380v6M608.5 340v46M609.5 338v47M610.5 338v6M610.5 345v16M610.5 363v21M611.5 337v13M611.5 351v17M611.5 369v13M612.5 336v42M613.5 337v4M613.5 348v12M613.5 366v11M614.5 333v11M614.5 351v11M614.5 369v15M615.5 334v49M616.5 330v12M616.5 353v7M616.5 371v13M617.5 334v45M618.5 330v2M618.5 337v10M618.5 356v9M618.5 373v8M619.5 332v13M619.5 352v11M619.5 370v11M620.5 330v7M620.5 350v5M620.5 368v6M620.5 380v2M621.5 330v7M621.5 345v9M621.5 363v10M621.5 378v2M622.5 329v15M622.5 347v15M622.5 365v15M623.5 330v47M624.5 328v18M624.5 349v15M624.5 366v12M625.5 328v16M625.5 348v14M625.5 366v12M626.5 328v14M626.5 345v15M626.5 363v16M627.5 328v4M627.5 334v35M627.5 371v7M628.5 327v3M628.5 335v12M628.5 353v12M628.5 371v7M629.5 327v8M629.5 344v9M629.5 362v10M629.5 377v2M630.5 324v3M630.5 379v2M631.5 323v2M631.5 380v2M632.5 322v2M632.5 381v2M633.5 322v1M633.5 381v2M634.5 319v6M634.5 379v2M635.5 320v1M635.5 323v2M635.5 379v3M636.5 321v3M636.5 380v2M637.5 320v4M637.5 379v2M638.5 321v2M638.5 382v2M639.5 322v2M639.5 379v4M640.5 322v1M640.5 379v3M641.5 321v10M641.5 342v6M641.5 360v7M641.5 376v3M642.5 321v1M642.5 378v4M643.5 319v1M643.5 379v2M644.5 318v2M644.5 379v2M645.5 317v2M645.5 377v4M646.5 317v2M646.5 377v2M647.5 318v1M647.5 377v3M648.5 317v1M648.5 376v2M649.5 316v3M649.5 374v3M650.5 316v1M650.5 375v2M651.5 317v2M651.5 374v4M652.5 315v2M652.5 374v2M653.5 315v3M653.5 373v3M654.5 315v2M654.5 375v4M655.5 313v2M655.5 375v2M656.5 315v1M656.5 374v3M657.5 313v2M657.5 375v2M658.5 310v2M658.5 314v2M658.5 375v4M659.5 314v2M659.5 376v3M660.5 315v1M660.5 375v3M661.5 313v3M661.5 373v3M662.5 314v2M662.5 375v3M663.5 314v2M663.5 376v2M664.5 312v2M664.5 375v3M665.5 312v3M665.5 377v3M666.5 313v2M666.5 378v2M667.5 313v1M667.5 376v3M668.5 313v2M668.5 378v2M669.5 313v2M669.5 376v2M670.5 313v2M670.5 376v3M671.5 313v2M671.5 378v4M672.5 310v5M672.5 379v3M673.5 311v2M673.5 376v4M674.5 313v2M674.5 377v3M675.5 312v3M675.5 376v4M676.5 311v3M676.5 376v4M677.5 312v2M677.5 376v3M678.5 311v1M678.5 376v4M679.5 311v1M679.5 379v2M680.5 309v1M680.5 379v4M681.5 308v1M681.5 380v3M682.5 308v3M682.5 378v3M683.5 309v2M683.5 376v3M684.5 310v2M684.5 375v3M685.5 309v3M685.5 376v3M686.5 307v4M686.5 377v3M687.5 308v2M687.5 378v2M688.5 308v1M688.5 375v5M689.5 304v6M689.5 377v2M690.5 304v5M690.5 377v2M691.5 378v3M692.5 304v2M692.5 377v4M693.5 303v3M693.5 377v3M694.5 306v2M694.5 371v5M695.5 307v2M695.5 371v2M696.5 307v2M696.5 369v3M697.5 307v2M697.5 370v3M698.5 308v2M698.5 371v2M699.5 307v2M699.5 369v2M700.5 306v3M700.5 368v5M701.5 307v2M701.5 371v2M702.5 371v4M703.5 308v1M703.5 372v3M704.5 306v2M704.5 374v4M705.5 375v3M706.5 308v2M706.5 373v3M707.5 310v2M707.5 374v2M708.5 311v2M708.5 372v4M709.5 310v3M709.5 372v4M710.5 310v1M710.5 373v2M711.5 309v3M711.5 375v2M712.5 308v1M712.5 377v3M713.5 306v2M713.5 378v3M714.5 305v3M714.5 377v5M715.5 304v4M715.5 378v4M716.5 306v4M716.5 377v3M717.5 308v2M717.5 375v3M718.5 308v2M718.5 376v3M719.5 304v1M719.5 307v3M719.5 377v2M720.5 304v4M720.5 377v4M721.5 306v2M721.5 374v6M722.5 306v2M722.5 377v3M723.5 305v3M723.5 376v4M724.5 380v2M725.5 305v2M725.5 377v5M726.5 306v3M726.5 375v3M727.5 309v3M727.5 374v3M728.5 310v2M728.5 373v2M729.5 311v3M729.5 374v4M730.5 311v2M730.5 373v3M731.5 313v2M731.5 376v3M732.5 313v3M732.5 376v6M733.5 312v4M733.5 381v4M734.5 314v1M734.5 382v5M735.5 386v3M736.5 316v1M736.5 386v3M737.5 317v2M737.5 384v3M738.5 316v2M738.5 384v6M739.5 317v3M739.5 386v2M740.5 317v3M740.5 385v3M741.5 317v3M741.5 380v8M742.5 316v3M742.5 387v3M743.5 317v2M743.5 384v6M744.5 316v2M744.5 386v5M745.5 318v3M745.5 386v2M746.5 316v2M746.5 388v4M747.5 316v1M747.5 390v2M748.5 316v1M748.5 390v3M749.5 312v1M749.5 316v4M749.5 388v3M750.5 317v1M750.5 388v6M751.5 315v3M751.5 391v2M752.5 317v2M752.5 388v5M753.5 317v1M753.5 390v5M754.5 315v5M754.5 390v2M755.5 312v6M755.5 391v5M756.5 317v2M756.5 389v6M757.5 317v4M757.5 390v2M758.5 318v3M758.5 389v3M759.5 318v3M759.5 390v2M760.5 317v2M760.5 392v4M761.5 318v2M761.5 391v4M762.5 318v2M762.5 391v5M763.5 318v2M763.5 391v3M764.5 318v2M764.5 390v7M765.5 314v1M765.5 317v4M765.5 391v4M766.5 317v3M766.5 394v4M767.5 315v3M767.5 394v3M768.5 317v1M768.5 395v3M769.5 317v1M769.5 397v3M770.5 320v2M770.5 393v6M771.5 320v3M771.5 393v6M772.5 322v3M772.5 393v4M773.5 321v2M773.5 398v3M774.5 319v5M774.5 396v3M775.5 324v3M775.5 395v3M776.5 325v2M776.5 333v4M776.5 352v3M776.5 370v3M776.5 386v12M777.5 326v2M777.5 340v5M777.5 358v5M777.5 376v5M777.5 392v3M778.5 326v2M778.5 338v5M778.5 356v5M778.5 374v5M778.5 390v4M779.5 323v2M779.5 393v6M780.5 320v5M780.5 395v3M781.5 318v4M781.5 399v3M782.5 318v3M782.5 399v3M783.5 320v2M783.5 398v5M784.5 319v2M784.5 398v3M785.5 320v1M785.5 396v3M786.5 319v2M786.5 395v3M787.5 317v4M787.5 395v3M788.5 320v3M788.5 392v4M789.5 320v2M789.5 392v6M790.5 316v5M790.5 394v3M791.5 318v2M791.5 396v2M792.5 395v5M793.5 394v3M794.5 392v5M795.5 392v3M796.5 319v4M796.5 393v3M797.5 322v2M797.5 389v5M798.5 324v3M798.5 336v7M798.5 354v7M798.5 372v8M798.5 388v3M799.5 328v15M799.5 344v17M799.5 362v16M799.5 382v8M800.5 325v65M801.5 319v1M801.5 324v4M801.5 388v3M802.5 321v4M802.5 384v2M803.5 324v2M803.5 379v2M804.5 321v1M804.5 324v9M804.5 344v7M804.5 362v8M804.5 376v2M805.5 325v6M805.5 338v10M805.5 356v11M805.5 371v4M806.5 325v3M806.5 339v5M806.5 357v6M806.5 371v2M807.5 325v6M807.5 338v10M807.5 356v11M807.5 369v3M808.5 325v44M809.5 325v10M809.5 339v14M809.5 357v11M810.5 325v41M811.5 323v1M811.5 325v12M811.5 340v15M811.5 358v13M812.5 323v5M812.5 336v9M812.5 353v11M812.5 368v4M813.5 325v43M814.5 326v45M815.5 326v5M815.5 340v10M815.5 359v7M816.5 324v1M816.5 334v13M816.5 352v11M817.5 334v10M817.5 351v10M818.5 328v5M818.5 344v7M818.5 362v4M819.5 329v1M819.5 344v6"/>
<path stroke="#f4f4e9" d="M610.5 344v1M610.5 361v2M614.5 344v7M614.5 362v7M616.5 342v11M616.5 360v11M618.5 332v5M618.5 347v9M618.5 365v8M619.5 345v7M619.5 363v7M620.5 337v13M620.5 355v13M620.5 374v6M621.5 337v8M621.5 354v9M621.5 373v5M622.5 344v3M622.5 362v3M624.5 346v3M624.5 364v2M625.5 344v4M625.5 362v4M626.5 342v3M626.5 360v3M628.5 330v5M628.5 347v6M628.5 365v6M629.5 335v9M629.5 353v9M629.5 372v5M630.5 327v52M631.5 325v9M631.5 345v7M631.5 363v8M631.5 378v2M632.5 324v2M632.5 330v4M632.5 349v3M632.5 366v5M632.5 378v3M633.5 323v2M633.5 379v2M634.5 325v7M634.5 340v9M634.5 358v10M634.5 375v4M635.5 325v5M635.5 338v10M635.5 356v10M635.5 373v6M636.5 324v15M636.5 344v13M636.5 362v18M637.5 324v9M637.5 340v11M637.5 358v11M637.5 374v5M638.5 323v1M638.5 334v5M638.5 352v5M638.5 369v7M638.5 378v4M639.5 324v21M639.5 348v15M639.5 366v13M640.5 323v56M641.5 331v11M641.5 348v12M641.5 367v9M642.5 322v5M642.5 330v14M642.5 348v14M642.5 366v12M643.5 320v2M643.5 327v8M643.5 345v8M643.5 363v9M643.5 376v3M644.5 320v2M644.5 327v9M644.5 346v8M644.5 364v9M644.5 376v3M645.5 319v6M645.5 375v2M646.5 319v2M646.5 323v10M646.5 342v9M646.5 360v10M646.5 375v2M647.5 319v2M647.5 328v9M647.5 346v9M647.5 364v13M648.5 318v13M648.5 340v9M648.5 358v10M648.5 374v2M649.5 319v8M649.5 335v10M649.5 353v10M649.5 370v4M650.5 317v12M650.5 339v8M650.5 357v9M650.5 373v2M651.5 319v55M652.5 317v57M653.5 318v9M653.5 332v13M653.5 350v14M653.5 366v7M654.5 317v3M654.5 331v5M654.5 349v5M654.5 366v9M655.5 315v2M655.5 321v8M655.5 340v7M655.5 358v7M655.5 372v3M656.5 316v20M656.5 338v16M656.5 356v18M657.5 315v2M657.5 321v7M657.5 340v6M657.5 358v7M657.5 372v3M658.5 316v4M658.5 333v3M658.5 351v3M658.5 368v7M659.5 316v2M659.5 367v4M659.5 372v4M660.5 316v3M660.5 325v11M660.5 343v11M660.5 361v14M661.5 316v12M661.5 334v12M661.5 352v12M661.5 369v4M662.5 316v2M662.5 326v9M662.5 344v9M662.5 361v14M663.5 316v2M663.5 327v8M663.5 345v8M663.5 363v13M664.5 314v2M664.5 373v2M665.5 315v2M665.5 372v5M666.5 315v2M666.5 375v3M667.5 314v2M667.5 374v2M668.5 315v2M668.5 366v2M668.5 375v3M669.5 315v2M669.5 322v8M669.5 341v7M669.5 359v8M669.5 374v2M670.5 315v2M670.5 322v8M670.5 340v8M670.5 358v9M670.5 374v2M671.5 315v5M671.5 332v5M671.5 350v5M671.5 368v10M672.5 315v4M672.5 334v1M672.5 352v1M672.5 368v5M672.5 374v5M673.5 313v3M673.5 320v5M673.5 339v4M673.5 357v5M673.5 373v3M674.5 315v1M674.5 326v7M674.5 344v7M674.5 362v8M674.5 374v3M675.5 315v7M675.5 330v9M675.5 348v9M675.5 365v11M676.5 314v8M676.5 331v9M676.5 349v9M676.5 367v9M677.5 314v3M677.5 325v9M677.5 343v9M677.5 360v12M677.5 373v3M678.5 312v2M678.5 320v3M678.5 339v2M678.5 357v2M678.5 373v3M679.5 312v3M679.5 374v5M680.5 310v3M680.5 374v5M681.5 309v3M681.5 374v6M682.5 311v2M682.5 375v3M683.5 311v2M683.5 374v2M684.5 312v3M684.5 323v9M684.5 341v9M684.5 359v10M684.5 372v3M685.5 312v7M685.5 328v9M685.5 346v9M685.5 364v12M686.5 311v4M686.5 366v3M686.5 373v4M687.5 310v2M687.5 375v3M688.5 309v2M688.5 372v3M689.5 310v2M689.5 374v3M690.5 309v3M690.5 372v5M691.5 307v2M691.5 376v2M692.5 306v2M692.5 372v5M693.5 306v3M693.5 372v5M694.5 308v13M694.5 329v10M694.5 347v10M694.5 365v6M695.5 309v19M695.5 332v14M695.5 350v21M696.5 309v60M697.5 309v61M698.5 310v61M699.5 309v60M700.5 309v12M700.5 324v15M700.5 342v15M700.5 359v9M701.5 309v1M701.5 317v9M701.5 335v9M701.5 353v10M701.5 368v3M702.5 307v2M702.5 368v3M703.5 309v1M703.5 370v2M704.5 308v3M704.5 369v5M705.5 310v2M705.5 372v3M706.5 310v2M706.5 371v2M707.5 312v1M707.5 322v7M707.5 340v7M707.5 358v8M707.5 371v3M708.5 313v59M709.5 313v8M709.5 325v14M709.5 343v14M709.5 360v12M710.5 311v2M710.5 317v13M710.5 336v11M710.5 353v14M710.5 370v3M711.5 312v3M711.5 325v7M711.5 343v7M711.5 361v8M711.5 371v4M712.5 309v3M712.5 372v5M713.5 308v3M713.5 376v2M714.5 308v2M714.5 374v3M715.5 308v2M715.5 373v5M716.5 310v6M716.5 331v1M716.5 349v1M716.5 365v5M716.5 372v5M717.5 310v2M717.5 322v4M717.5 340v4M717.5 358v5M717.5 372v3M718.5 310v2M718.5 374v2M719.5 310v4M719.5 327v4M719.5 345v4M719.5 363v5M719.5 374v3M720.5 308v3M720.5 369v8M721.5 308v3M721.5 315v6M721.5 334v5M721.5 352v5M721.5 369v5M722.5 308v3M722.5 374v3M723.5 308v2M723.5 374v2M724.5 306v2M724.5 377v3M725.5 307v2M725.5 373v4M726.5 309v2M726.5 361v2M726.5 373v2M727.5 312v62M728.5 312v61M729.5 314v60M730.5 313v60M731.5 315v61M732.5 316v60M733.5 316v7M733.5 335v5M733.5 352v6M733.5 370v11M734.5 315v2M734.5 379v3M735.5 315v4M735.5 383v3M736.5 317v3M736.5 383v3M737.5 319v2M737.5 329v9M737.5 347v9M737.5 365v10M737.5 381v3M738.5 318v2M738.5 324v8M738.5 342v8M738.5 360v8M738.5 378v6M739.5 320v7M739.5 333v12M739.5 351v12M739.5 369v17M740.5 320v3M740.5 330v10M740.5 348v10M740.5 366v11M740.5 382v3M741.5 320v60M742.5 319v9M742.5 337v9M742.5 355v9M742.5 373v14M743.5 319v2M743.5 324v12M743.5 343v11M743.5 361v11M743.5 378v6M744.5 318v3M744.5 324v9M744.5 343v8M744.5 361v8M744.5 378v8M745.5 321v26M745.5 348v17M745.5 366v20M746.5 318v3M746.5 323v8M746.5 342v7M746.5 360v7M746.5 377v11M747.5 317v4M747.5 386v4M748.5 317v4M748.5 387v3M749.5 320v4M749.5 336v5M749.5 354v5M749.5 372v6M749.5 386v2M750.5 318v3M750.5 330v2M750.5 348v2M750.5 366v2M750.5 382v6M751.5 318v3M751.5 325v4M751.5 379v5M751.5 385v6M752.5 319v2M752.5 331v5M752.5 349v5M752.5 367v5M752.5 383v5M753.5 318v3M753.5 383v7M754.5 320v5M754.5 339v3M754.5 357v3M754.5 374v5M754.5 387v3M755.5 318v3M755.5 388v3M756.5 319v2M756.5 327v8M756.5 346v7M756.5 364v6M756.5 381v8M757.5 321v8M757.5 336v10M757.5 354v10M757.5 372v11M757.5 387v3M758.5 321v68M759.5 321v11M759.5 336v13M759.5 354v13M759.5 372v18M760.5 319v2M760.5 328v4M760.5 347v3M760.5 365v3M760.5 382v10M761.5 320v2M761.5 326v9M761.5 344v9M761.5 362v9M761.5 380v11M762.5 320v2M762.5 331v5M762.5 349v5M762.5 367v5M762.5 384v7M763.5 320v15M763.5 339v14M763.5 357v14M763.5 375v16M764.5 320v2M764.5 334v4M764.5 352v4M764.5 370v4M764.5 387v3M765.5 321v4M765.5 338v4M765.5 356v3M765.5 373v5M765.5 388v3M766.5 320v2M766.5 385v9M767.5 318v3M767.5 392v2M768.5 318v3M768.5 392v3M769.5 318v2M769.5 394v3M770.5 322v2M770.5 336v4M770.5 354v4M770.5 372v4M770.5 389v4M771.5 323v2M771.5 338v4M771.5 356v4M771.5 374v4M771.5 390v3M772.5 325v4M772.5 338v8M772.5 355v9M772.5 373v10M772.5 390v3M773.5 323v2M773.5 387v4M773.5 392v6M774.5 324v7M774.5 346v2M774.5 364v2M774.5 381v4M774.5 394v2M775.5 327v3M775.5 340v7M775.5 358v7M775.5 376v7M775.5 392v3M776.5 327v6M776.5 337v15M776.5 355v15M776.5 373v13M777.5 328v12M777.5 345v13M777.5 363v13M777.5 381v11M778.5 328v10M778.5 343v13M778.5 361v13M778.5 379v11M779.5 325v2M779.5 332v11M779.5 351v10M779.5 369v10M779.5 386v7M780.5 325v6M780.5 344v4M780.5 362v4M780.5 380v5M780.5 393v2M781.5 322v2M781.5 394v5M782.5 321v2M782.5 396v3M783.5 322v2M783.5 393v5M784.5 321v2M784.5 393v5M785.5 321v4M785.5 393v3M786.5 321v4M786.5 392v3M787.5 321v3M787.5 392v3M788.5 323v3M788.5 376v2M788.5 390v2M789.5 322v2M789.5 333v4M789.5 351v3M789.5 369v3M789.5 386v6M790.5 321v3M790.5 391v3M791.5 320v2M791.5 393v3M792.5 321v2M792.5 391v4M793.5 322v2M793.5 328v3M793.5 382v4M793.5 390v4M794.5 323v2M794.5 330v6M794.5 349v5M794.5 367v5M794.5 384v8M795.5 323v14M795.5 343v12M795.5 361v12M795.5 378v14M796.5 323v8M796.5 343v5M796.5 361v5M796.5 378v7M796.5 390v3M797.5 324v19M797.5 347v14M797.5 365v24M798.5 327v9M798.5 343v11M798.5 361v11M798.5 380v8M801.5 328v60M802.5 325v1M802.5 332v10M802.5 351v9M802.5 369v11M802.5 382v2M803.5 326v8M803.5 337v14M803.5 355v24M804.5 333v11M804.5 351v11M804.5 370v6M805.5 331v7M805.5 348v8M805.5 367v4M806.5 328v11M806.5 344v13M806.5 363v8M807.5 331v7M807.5 348v8M807.5 367v2M811.5 337v3M811.5 355v3M812.5 328v8M812.5 345v8M812.5 364v4"/>
<path stroke="#f7f3e2" d="M631.5 334v11M631.5 352v11M631.5 371v7M632.5 326v4M632.5 334v15M632.5 352v14M632.5 371v7M633.5 325v54M634.5 332v8M634.5 349v9M634.5 368v7M635.5 330v8M635.5 348v8M635.5 366v7M636.5 339v5M636.5 357v5M637.5 333v7M637.5 351v7M637.5 369v5M638.5 324v10M638.5 339v13M638.5 357v12M638.5 376v2M639.5 345v3M639.5 363v3M642.5 327v3M642.5 344v4M642.5 362v4M643.5 322v5M643.5 335v10M643.5 353v10M643.5 372v4M644.5 322v5M644.5 336v10M644.5 354v10M644.5 373v3M645.5 325v50M646.5 321v2M646.5 333v9M646.5 351v9M646.5 370v5M647.5 321v7M647.5 337v9M647.5 355v9M648.5 331v9M648.5 349v9M648.5 368v6M649.5 327v8M649.5 345v8M649.5 363v7M650.5 329v10M650.5 347v10M650.5 366v7M653.5 327v5M653.5 345v5M653.5 364v2M654.5 320v11M654.5 336v13M654.5 354v12M655.5 317v4M655.5 329v11M655.5 347v11M655.5 365v7M656.5 336v2M656.5 354v2M657.5 317v4M657.5 328v12M657.5 346v12M657.5 365v7M658.5 320v13M658.5 336v15M658.5 354v14M659.5 318v49M659.5 371v1M660.5 319v6M660.5 336v7M660.5 354v7M661.5 328v6M661.5 346v6M661.5 364v5M662.5 318v8M662.5 335v9M662.5 353v8M663.5 318v9M663.5 335v10M663.5 353v10M664.5 316v57M665.5 317v55M666.5 317v5M666.5 324v14M666.5 342v14M666.5 360v15M667.5 316v58M668.5 317v49M668.5 368v7M669.5 317v5M669.5 330v11M669.5 348v11M669.5 367v7M670.5 317v5M670.5 330v10M670.5 348v10M670.5 367v7M671.5 320v12M671.5 337v13M671.5 355v13M672.5 319v15M672.5 335v17M672.5 353v15M672.5 373v1M673.5 316v4M673.5 325v14M673.5 343v14M673.5 362v11M674.5 316v10M674.5 333v11M674.5 351v11M674.5 370v4M675.5 322v8M675.5 339v9M675.5 357v8M676.5 322v9M676.5 340v9M676.5 358v9M677.5 317v8M677.5 334v9M677.5 352v8M677.5 372v1M678.5 314v6M678.5 323v16M678.5 341v16M678.5 359v14M679.5 315v59M680.5 313v11M680.5 332v10M680.5 350v10M680.5 367v7M681.5 312v11M681.5 333v8M681.5 351v8M681.5 368v6M682.5 313v1M682.5 322v9M682.5 340v9M682.5 358v10M682.5 373v2M683.5 313v61M684.5 315v8M684.5 332v9M684.5 350v9M684.5 369v3M685.5 319v9M685.5 337v9M685.5 355v9M686.5 315v51M686.5 369v4M687.5 312v3M687.5 323v9M687.5 341v9M687.5 359v9M687.5 372v3M688.5 311v61M689.5 312v62M690.5 312v60M691.5 309v4M691.5 365v2M691.5 372v4M692.5 308v3M692.5 316v5M692.5 335v4M692.5 353v5M692.5 369v3M693.5 309v10M693.5 328v9M693.5 346v9M693.5 363v9M694.5 321v8M694.5 339v8M694.5 357v8M695.5 328v4M695.5 346v4M700.5 321v3M700.5 339v3M700.5 357v2M701.5 310v7M701.5 326v9M701.5 344v9M701.5 363v5M702.5 309v59M703.5 310v60M704.5 311v9M704.5 325v13M704.5 343v13M704.5 360v9M705.5 312v5M705.5 323v12M705.5 341v12M705.5 359v13M706.5 312v59M707.5 313v9M707.5 329v11M707.5 347v11M707.5 366v5M709.5 321v4M709.5 339v4M709.5 357v3M710.5 313v4M710.5 330v6M710.5 347v6M710.5 367v3M711.5 315v10M711.5 332v11M711.5 350v11M711.5 369v2M712.5 312v10M712.5 326v14M712.5 344v14M712.5 361v11M713.5 311v5M713.5 327v6M713.5 345v6M713.5 362v8M713.5 371v5M714.5 310v2M714.5 321v3M714.5 339v3M714.5 357v4M714.5 372v2M715.5 310v13M715.5 331v10M715.5 349v10M715.5 366v7M716.5 316v15M716.5 332v17M716.5 350v15M716.5 370v2M717.5 312v10M717.5 326v14M717.5 344v14M717.5 363v9M718.5 312v62M719.5 314v13M719.5 331v14M719.5 349v14M719.5 368v6M720.5 311v58M721.5 311v4M721.5 321v13M721.5 339v13M721.5 357v12M722.5 311v9M722.5 322v15M722.5 340v15M722.5 358v16M723.5 310v3M723.5 319v11M723.5 337v11M723.5 355v12M723.5 371v3M724.5 308v3M724.5 312v4M724.5 366v11M725.5 309v2M725.5 317v8M725.5 335v8M725.5 353v8M725.5 370v3M726.5 311v50M726.5 363v10M733.5 323v12M733.5 340v12M733.5 358v12M734.5 317v18M734.5 339v14M734.5 357v15M734.5 374v5M735.5 319v7M735.5 334v10M735.5 352v10M735.5 369v14M736.5 320v4M736.5 329v12M736.5 347v12M736.5 365v13M736.5 381v2M737.5 321v8M737.5 338v9M737.5 356v9M737.5 375v6M738.5 320v4M738.5 332v10M738.5 350v10M738.5 368v10M739.5 327v6M739.5 345v6M739.5 363v6M740.5 323v7M740.5 340v8M740.5 358v8M740.5 377v5M742.5 328v9M742.5 346v9M742.5 364v9M743.5 321v3M743.5 336v7M743.5 354v7M743.5 372v6M744.5 321v3M744.5 333v10M744.5 351v10M744.5 369v9M745.5 347v1M745.5 365v1M746.5 321v2M746.5 331v11M746.5 349v11M746.5 367v10M747.5 321v65M748.5 321v66M749.5 324v12M749.5 341v13M749.5 359v13M749.5 378v8M750.5 321v9M750.5 332v16M750.5 350v16M750.5 368v14M751.5 321v4M751.5 329v50M751.5 384v1M752.5 321v10M752.5 336v13M752.5 354v13M752.5 372v11M753.5 321v62M754.5 325v14M754.5 342v15M754.5 360v14M754.5 379v8M755.5 321v5M755.5 332v11M755.5 350v11M755.5 368v12M755.5 385v3M756.5 321v6M756.5 335v11M756.5 353v11M756.5 370v11M757.5 329v7M757.5 346v8M757.5 364v8M757.5 383v4M759.5 332v4M759.5 349v5M759.5 367v5M760.5 321v7M760.5 332v15M760.5 350v15M760.5 368v14M761.5 322v4M761.5 335v9M761.5 353v9M761.5 371v9M762.5 322v9M762.5 336v13M762.5 354v13M762.5 372v12M763.5 335v4M763.5 353v4M763.5 371v4M764.5 322v12M764.5 338v14M764.5 356v14M764.5 374v13M765.5 325v13M765.5 342v14M765.5 359v14M765.5 378v10M766.5 322v63M767.5 321v11M767.5 338v12M767.5 356v12M767.5 374v13M767.5 388v4M768.5 321v14M768.5 339v14M768.5 357v13M768.5 375v17M769.5 320v3M769.5 327v7M769.5 346v6M769.5 364v6M769.5 381v13M770.5 324v12M770.5 340v14M770.5 358v14M770.5 376v13M771.5 325v13M771.5 342v14M771.5 360v14M771.5 378v12M772.5 329v9M772.5 346v9M772.5 364v9M772.5 383v7M773.5 325v62M773.5 391v1M774.5 331v15M774.5 348v16M774.5 366v15M774.5 385v9M775.5 330v10M775.5 347v11M775.5 365v11M775.5 383v9M779.5 327v5M779.5 343v8M779.5 361v8M779.5 379v7M780.5 331v13M780.5 348v14M780.5 366v14M780.5 385v8M781.5 324v2M781.5 332v9M781.5 351v8M781.5 369v8M781.5 386v8M782.5 323v3M782.5 330v6M782.5 349v4M782.5 367v4M782.5 384v12M783.5 324v2M783.5 339v3M783.5 357v3M783.5 375v4M783.5 391v2M784.5 323v3M784.5 328v12M784.5 347v11M784.5 365v11M784.5 382v11M785.5 325v6M785.5 339v10M785.5 357v10M785.5 375v11M785.5 390v3M786.5 325v7M786.5 338v11M786.5 356v11M786.5 374v12M786.5 390v2M787.5 324v68M788.5 326v50M788.5 378v12M789.5 324v9M789.5 337v14M789.5 354v15M789.5 372v14M790.5 324v8M790.5 338v12M790.5 356v12M790.5 374v13M790.5 388v3M791.5 322v13M791.5 344v9M791.5 362v9M791.5 379v14M792.5 323v2M792.5 337v5M792.5 355v5M792.5 373v5M792.5 389v2M793.5 324v4M793.5 331v51M793.5 386v4M794.5 325v5M794.5 336v13M794.5 354v13M794.5 372v12M795.5 337v6M795.5 355v6M795.5 373v5M796.5 331v12M796.5 348v13M796.5 366v12M796.5 385v5M797.5 343v4M797.5 361v4M802.5 326v6M802.5 342v9M802.5 360v9M802.5 380v2M803.5 334v3M803.5 351v4"/>
<path stroke="#f9f2db" d="M666.5 322v2M666.5 338v4M666.5 356v4M680.5 324v8M680.5 342v8M680.5 360v7M681.5 323v10M681.5 341v10M681.5 359v9M682.5 314v8M682.5 331v9M682.5 349v9M682.5 368v5M687.5 315v8M687.5 332v9M687.5 350v9M687.5 368v4M691.5 313v52M691.5 367v5M692.5 311v5M692.5 321v14M692.5 339v14M692.5 358v11M693.5 319v9M693.5 337v9M693.5 355v8M704.5 320v5M704.5 338v5M704.5 356v4M705.5 317v6M705.5 335v6M705.5 353v6M712.5 322v4M712.5 340v4M712.5 358v3M713.5 316v11M713.5 333v12M713.5 351v11M713.5 370v1M714.5 312v9M714.5 324v15M714.5 342v15M714.5 361v11M715.5 323v8M715.5 341v8M715.5 359v7M722.5 320v2M722.5 337v3M722.5 355v3M723.5 313v6M723.5 330v7M723.5 348v7M723.5 367v4M724.5 311v1M724.5 316v50M725.5 311v6M725.5 325v10M725.5 343v10M725.5 361v9M734.5 335v4M734.5 353v4M734.5 372v2M735.5 326v8M735.5 344v8M735.5 362v7M736.5 324v5M736.5 341v6M736.5 359v6M736.5 378v3M755.5 326v6M755.5 343v7M755.5 361v7M755.5 380v5M767.5 332v6M767.5 350v6M767.5 368v6M767.5 387v1M768.5 335v4M768.5 353v4M768.5 370v5M769.5 323v4M769.5 334v12M769.5 352v12M769.5 370v11M781.5 326v6M781.5 341v10M781.5 359v10M781.5 377v9M782.5 326v4M782.5 336v13M782.5 353v14M782.5 371v13M783.5 326v13M783.5 342v15M783.5 360v15M783.5 379v12M784.5 326v2M784.5 340v7M784.5 358v7M784.5 376v6M785.5 331v8M785.5 349v8M785.5 367v8M785.5 386v4M786.5 332v6M786.5 349v7M786.5 367v7M786.5 386v4M790.5 332v6M790.5 350v6M790.5 368v6M790.5 387v1M791.5 335v9M791.5 353v9M791.5 371v8M792.5 325v12M792.5 342v13M792.5 360v13M792.5 378v11"/>
</g>
<g stroke="#f4f4ac" stroke-width="1" fill="none">
<path d="M507.5 468.5L781.6 516.6L936.3 433.3"/>
<path d="M507.5 468.5l5 -2.7M553.2 476.5l5 -2.7M598.9 484.5l5 -2.7M644.5 492.6l5 -2.7M690.2 500.6l5 -2.7M735.9 508.6l5 -2.7M781.6 516.6l5 -2.7M781.6 516.6l-6 -1.1M803.7 504.7l-6 -1.1M825.8 492.8l-6 -1.1M847.9 480.9l-6 -1.1M870.0 469.0l-6 -1.1M892.1 457.1l-6 -1.1M914.2 445.2l-6 -1.1M936.3 433.3l-6 -1.1"/>
</g>
<g stroke="#f4f4ac" stroke-width="1" fill="none" shape-rendering="crispEdges">
<path d="M507.5 298V469M507 298.5h8M507 326.9h8M507 355.3h8M507 383.7h8M507 412.1h8M507 440.5h8M507 468.9h8"/>
</g>
<text x="494" y="302.7" text-anchor="end">0</text>
<text x="494" y="330.9" text-anchor="end">-20</text>
<text x="494" y="359.1" text-anchor="end">-40</text>
<text x="494" y="387.3" text-anchor="end">-60</text>
<text x="494" y="415.5" text-anchor="end">-80</text>
<text x="494" y="443.7" text-anchor="end">-100</text>
<text x="494" y="471.9" text-anchor="end">-120</text>
<text transform="translate(448 383) rotate(-90)" text-anchor="middle">PSD (dBm)</text>
<text x="502.9" y="477.5" text-anchor="middle">19:13:40</text>
<text x="548.0" y="485.7" text-anchor="middle">19:14:00</text>
<text x="593.1" y="493.9" text-anchor="middle">19:14:20</text>
<text x="638.2" y="502.1" text-anchor="middle">19:14:40</text>
<text x="683.3" y="510.3" text-anchor="middle">19:15:00</text>
<text x="728.4" y="518.5" text-anchor="middle">19:15:20</text>
<text x="773.5" y="526.7" text-anchor="middle">19:15:40</text>
<text x="812.7" y="524.2" text-anchor="middle">1210</text>
<text x="834.9" y="512.0" text-anchor="middle">1215</text>
<text x="857.1" y="499.8" text-anchor="middle">1220</text>
<text x="879.3" y="487.6" text-anchor="middle">1225</text>
<text x="901.5" y="475.4" text-anchor="middle">1230</text>
<text x="923.7" y="463.2" text-anchor="middle">1235</text>
<text x="945.9" y="451.0" text-anchor="middle">1240</text>
<text x="968.1" y="438.8" text-anchor="middle">1245</text>
<text transform="translate(599.5 520.5) rotate(12.5)" text-anchor="middle">Time (UTC)</text>
<text transform="translate(934.5 491) rotate(-28.5)" text-anchor="middle">Frequency (MHz)</text>
<path d="M671.5 486V316.5L807.5 242.5V412Z" stroke="#ff0000" stroke-width="1" fill="none"/>
</g>
<!--/WATERFALL-->
<!--BOTTOM-->
<g id="bottom">
<text x="534" y="602" text-anchor="middle">Max Rx Power</text>
<g stroke="#c0c0c0" stroke-width="1" stroke-dasharray="2 2" shape-rendering="crispEdges" fill="none">
<path d="M73.5 667.5H996M227.5 620V719M381.5 620V719M535.5 620V719M688.5 620V719M842.5 620V719"/>
</g>
<g stroke="#f4f4ac" stroke-width="1" shape-rendering="crispEdges" fill="none">
<rect x="73.5" y="620.5" width="923" height="99"/>
<path d="M73 667.5h8M997 667.5h-8"/>
<path d="M227.5 620v8M381.5 620v8M535.5 620v8M688.5 620v8M842.5 620v8M227.5 719v-8M381.5 719v-8M535.5 719v-8M688.5 719v-8M842.5 719v-8"/>
<path d="M150.5 620v4M304.5 620v4M458.5 620v4M612.5 620v4M765.5 620v4M919.5 620v4M150.5 719v-4M304.5 719v-4M458.5 719v-4M612.5 719v-4M765.5 719v-4M919.5 719v-4"/>
</g>
<g stroke="#ffff20" stroke-width="1" fill="none" stroke-linejoin="round">
<path d="M181 688.5H189"/>
<path d="M227.5 678.8L231 678.6 235.5 678 242.5 681.2 258.7 693.2 265.5 692 281.2 675.5 288.5 704.5 296.7 679.5 305 695.7"/>
<path d="M319.5 683.5L327.5 672.5 335.5 690.5 342.5 676.5 349.5 677.5 367.5 669.5 375 670.5 382.5 673.5 390 677.5 396.7 683.5"/>
<path d="M419.5 671.3L427 671.3 434.5 718 436.5 718 442.5 696.2 446 690 458 674.5 465.5 674.2 473.2 671.3 481.2 674.5 488.7 670.7 496.5 665.5 511.7 677.5 519.5 674.2 527 664 535 654.5 542.5 650 550 648.2 562.5 646.8 573.5 646.5 581.2 651.2 588 653.2 596.2 664.5 605 683 611.5 687 619.2 659.5 627 674.5 633.6 718 634.6 718 642.3 682.5 653.7 682.5 659.5 684.2 665.7 688.5"/>
<path d="M681.2 660L696.2 688.5 704.7 684.2"/>
<path d="M727 672L735 673.7 742.5 688.5 750.5 682.5 758.2 691.2 765.5 695.2 773.2 661.2 781.2 690.5 787.5 683.7 796.2 679.2 805 684.2 811.7 696.7"/>
<path d="M827.2 690.5L835 682.5 842.5 684.2 850.5 692.5"/>
<path d="M873.2 694.5L882 696.7"/>
</g>
<path d="M573.5 620V719" stroke="#ff0000" stroke-width="1" shape-rendering="crispEdges"/>
<text x="64" y="672" text-anchor="end">-100</text>
<text x="64" y="723" text-anchor="end">-120</text>
<text x="73" y="738" text-anchor="middle">19:13:40</text>
<text x="227" y="738" text-anchor="middle">19:14:00</text>
<text x="381" y="738" text-anchor="middle">19:14:20</text>
<text x="535" y="738" text-anchor="middle">19:14:40</text>
<text x="689" y="738" text-anchor="middle">19:15:00</text>
<text x="842" y="738" text-anchor="middle">19:15:20</text>
<text x="996" y="738" text-anchor="middle">19:15:40</text>
<text x="534" y="759" text-anchor="middle">Time (UTC)</text>
<text transform="translate(17 669) rotate(-90)" text-anchor="middle">Power (dBm)</text>
</g>
<!--/BOTTOM-->
</svg>
</body></html>
